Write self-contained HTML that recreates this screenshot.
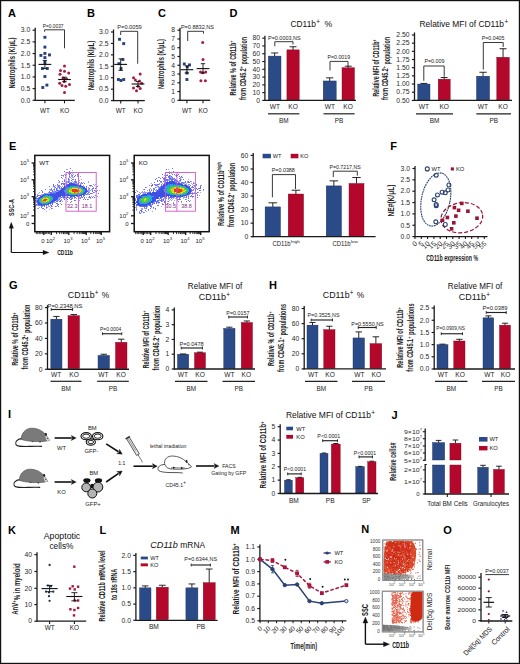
<!DOCTYPE html>
<html><head><meta charset="utf-8"><style>
html,body{margin:0;padding:0;background:#fff;}
svg{display:block;font-family:"Liberation Sans", sans-serif;}
</style></head><body>
<svg width="520" height="664" viewBox="0 0 520 664">
<rect x="0" y="0" width="520" height="664" fill="#fff"/>
<text x="8.00" y="16.96" font-size="11" text-anchor="start" font-weight="bold" fill="#000">A</text>
<text x="87.00" y="16.96" font-size="11" text-anchor="start" font-weight="bold" fill="#000">B</text>
<text x="158.00" y="16.96" font-size="11" text-anchor="start" font-weight="bold" fill="#000">C</text>
<line x1="35.20" y1="100.80" x2="35.20" y2="27.70" stroke="#1a1a1a" stroke-width="1.3"/>
<line x1="32.60" y1="100.30" x2="35.20" y2="100.30" stroke="#1a1a1a" stroke-width="1.1700000000000002"/>
<text x="30.30" y="102.57" font-size="6.3" text-anchor="end" fill="#2a2a2a" textLength="9.46" lengthAdjust="spacingAndGlyphs">0.0</text>
<line x1="32.60" y1="88.62" x2="35.20" y2="88.62" stroke="#1a1a1a" stroke-width="1.1700000000000002"/>
<text x="30.30" y="90.88" font-size="6.3" text-anchor="end" fill="#2a2a2a" textLength="9.46" lengthAdjust="spacingAndGlyphs">0.5</text>
<line x1="32.60" y1="76.93" x2="35.20" y2="76.93" stroke="#1a1a1a" stroke-width="1.1700000000000002"/>
<text x="30.30" y="79.20" font-size="6.3" text-anchor="end" fill="#2a2a2a" textLength="9.46" lengthAdjust="spacingAndGlyphs">1.0</text>
<line x1="32.60" y1="65.25" x2="35.20" y2="65.25" stroke="#1a1a1a" stroke-width="1.1700000000000002"/>
<text x="30.30" y="67.52" font-size="6.3" text-anchor="end" fill="#2a2a2a" textLength="9.46" lengthAdjust="spacingAndGlyphs">1.5</text>
<line x1="32.60" y1="53.57" x2="35.20" y2="53.57" stroke="#1a1a1a" stroke-width="1.1700000000000002"/>
<text x="30.30" y="55.83" font-size="6.3" text-anchor="end" fill="#2a2a2a" textLength="9.46" lengthAdjust="spacingAndGlyphs">2.0</text>
<line x1="32.60" y1="41.88" x2="35.20" y2="41.88" stroke="#1a1a1a" stroke-width="1.1700000000000002"/>
<text x="30.30" y="44.15" font-size="6.3" text-anchor="end" fill="#2a2a2a" textLength="9.46" lengthAdjust="spacingAndGlyphs">2.5</text>
<line x1="32.60" y1="30.20" x2="35.20" y2="30.20" stroke="#1a1a1a" stroke-width="1.1700000000000002"/>
<text x="30.30" y="32.47" font-size="6.3" text-anchor="end" fill="#2a2a2a" textLength="9.46" lengthAdjust="spacingAndGlyphs">3.0</text>
<line x1="34.70" y1="100.30" x2="74.80" y2="100.30" stroke="#1a1a1a" stroke-width="1.3"/>
<line x1="44.90" y1="100.30" x2="44.90" y2="103.30" stroke="#1a1a1a" stroke-width="1.1"/>
<line x1="64.50" y1="100.30" x2="64.50" y2="103.30" stroke="#1a1a1a" stroke-width="1.1"/>
<text x="44.90" y="112.70" font-size="6.4" text-anchor="middle" fill="#222">WT</text>
<text x="64.50" y="112.70" font-size="6.4" text-anchor="middle" fill="#222">KO</text>
<text x="15.06" y="63.00" font-size="8.5" text-anchor="middle" transform="rotate(-90 15.06 63.00)" font-weight="bold" fill="#222" textLength="51.00" lengthAdjust="spacingAndGlyphs">Neutrophils (K/μL)</text>
<rect x="43.45" y="35.85" width="2.90" height="2.90" fill="#25407c"/>
<rect x="43.45" y="45.65" width="2.90" height="2.90" fill="#25407c"/>
<rect x="39.45" y="53.95" width="2.90" height="2.90" fill="#25407c"/>
<rect x="43.45" y="51.95" width="2.90" height="2.90" fill="#25407c"/>
<rect x="48.05" y="53.45" width="2.90" height="2.90" fill="#25407c"/>
<rect x="43.45" y="56.15" width="2.90" height="2.90" fill="#25407c"/>
<rect x="40.95" y="67.05" width="2.90" height="2.90" fill="#25407c"/>
<rect x="45.85" y="67.05" width="2.90" height="2.90" fill="#25407c"/>
<rect x="43.45" y="75.05" width="2.90" height="2.90" fill="#25407c"/>
<rect x="41.35" y="86.05" width="2.90" height="2.90" fill="#25407c"/>
<rect x="45.45" y="83.65" width="2.90" height="2.90" fill="#25407c"/>
<rect x="43.45" y="61.05" width="2.90" height="2.90" fill="#25407c"/>
<circle cx="64.50" cy="65.90" r="1.50" fill="#a81c40"/>
<circle cx="60.50" cy="70.50" r="1.50" fill="#a81c40"/>
<circle cx="64.50" cy="71.20" r="1.50" fill="#a81c40"/>
<circle cx="68.70" cy="73.00" r="1.50" fill="#a81c40"/>
<circle cx="60.00" cy="74.20" r="1.50" fill="#a81c40"/>
<circle cx="63.00" cy="78.00" r="1.50" fill="#a81c40"/>
<circle cx="66.50" cy="78.70" r="1.50" fill="#a81c40"/>
<circle cx="59.70" cy="83.30" r="1.50" fill="#a81c40"/>
<circle cx="64.20" cy="81.40" r="1.50" fill="#a81c40"/>
<circle cx="69.50" cy="84.50" r="1.50" fill="#a81c40"/>
<circle cx="62.00" cy="85.50" r="1.50" fill="#a81c40"/>
<circle cx="65.70" cy="86.30" r="1.50" fill="#a81c40"/>
<circle cx="64.50" cy="92.60" r="1.50" fill="#a81c40"/>
<line x1="38.50" y1="64.40" x2="51.30" y2="64.40" stroke="#111" stroke-width="1.1"/>
<line x1="44.90" y1="60.40" x2="44.90" y2="68.50" stroke="#111" stroke-width="0.9"/>
<line x1="42.70" y1="60.40" x2="47.10" y2="60.40" stroke="#111" stroke-width="0.9"/>
<line x1="42.70" y1="68.50" x2="47.10" y2="68.50" stroke="#111" stroke-width="0.9"/>
<line x1="58.10" y1="79.50" x2="70.90" y2="79.50" stroke="#111" stroke-width="1.1"/>
<line x1="64.50" y1="77.20" x2="64.50" y2="81.70" stroke="#111" stroke-width="0.9"/>
<line x1="62.30" y1="77.20" x2="66.70" y2="77.20" stroke="#111" stroke-width="0.9"/>
<line x1="62.30" y1="81.70" x2="66.70" y2="81.70" stroke="#111" stroke-width="0.9"/>
<path d="M44.60 31.70 L44.60 29.80 L64.50 29.80 L64.50 48.30" fill="none" stroke="#222" stroke-width="0.9"/>
<text x="53.15" y="28.09" font-size="5.8" text-anchor="middle" fill="#222" textLength="20.70" lengthAdjust="spacingAndGlyphs">P=0.0037</text>
<line x1="113.50" y1="101.10" x2="113.50" y2="29.50" stroke="#1a1a1a" stroke-width="1.3"/>
<line x1="110.90" y1="100.60" x2="113.50" y2="100.60" stroke="#1a1a1a" stroke-width="1.1700000000000002"/>
<text x="108.60" y="102.87" font-size="6.3" text-anchor="end" fill="#2a2a2a" textLength="9.46" lengthAdjust="spacingAndGlyphs">0.0</text>
<line x1="110.90" y1="89.17" x2="113.50" y2="89.17" stroke="#1a1a1a" stroke-width="1.1700000000000002"/>
<text x="108.60" y="91.43" font-size="6.3" text-anchor="end" fill="#2a2a2a" textLength="9.46" lengthAdjust="spacingAndGlyphs">0.5</text>
<line x1="110.90" y1="77.73" x2="113.50" y2="77.73" stroke="#1a1a1a" stroke-width="1.1700000000000002"/>
<text x="108.60" y="80.00" font-size="6.3" text-anchor="end" fill="#2a2a2a" textLength="9.46" lengthAdjust="spacingAndGlyphs">1.0</text>
<line x1="110.90" y1="66.30" x2="113.50" y2="66.30" stroke="#1a1a1a" stroke-width="1.1700000000000002"/>
<text x="108.60" y="68.57" font-size="6.3" text-anchor="end" fill="#2a2a2a" textLength="9.46" lengthAdjust="spacingAndGlyphs">1.5</text>
<line x1="110.90" y1="54.87" x2="113.50" y2="54.87" stroke="#1a1a1a" stroke-width="1.1700000000000002"/>
<text x="108.60" y="57.13" font-size="6.3" text-anchor="end" fill="#2a2a2a" textLength="9.46" lengthAdjust="spacingAndGlyphs">2.0</text>
<line x1="110.90" y1="43.43" x2="113.50" y2="43.43" stroke="#1a1a1a" stroke-width="1.1700000000000002"/>
<text x="108.60" y="45.70" font-size="6.3" text-anchor="end" fill="#2a2a2a" textLength="9.46" lengthAdjust="spacingAndGlyphs">2.5</text>
<line x1="110.90" y1="32.00" x2="113.50" y2="32.00" stroke="#1a1a1a" stroke-width="1.1700000000000002"/>
<text x="108.60" y="34.27" font-size="6.3" text-anchor="end" fill="#2a2a2a" textLength="9.46" lengthAdjust="spacingAndGlyphs">3.0</text>
<line x1="113.00" y1="100.60" x2="144.80" y2="100.60" stroke="#1a1a1a" stroke-width="1.3"/>
<line x1="120.70" y1="100.60" x2="120.70" y2="103.60" stroke="#1a1a1a" stroke-width="1.1"/>
<line x1="138.00" y1="100.60" x2="138.00" y2="103.60" stroke="#1a1a1a" stroke-width="1.1"/>
<text x="120.70" y="112.70" font-size="6.4" text-anchor="middle" fill="#222">WT</text>
<text x="138.00" y="112.70" font-size="6.4" text-anchor="middle" fill="#222">KO</text>
<text x="94.36" y="65.50" font-size="8.5" text-anchor="middle" transform="rotate(-90 94.36 65.50)" font-weight="bold" fill="#222" textLength="49.00" lengthAdjust="spacingAndGlyphs">Neutrophils (K/μL)</text>
<rect x="118.05" y="37.85" width="2.90" height="2.90" fill="#25407c"/>
<rect x="122.25" y="42.15" width="2.90" height="2.90" fill="#25407c"/>
<rect x="121.45" y="58.05" width="2.90" height="2.90" fill="#25407c"/>
<rect x="117.45" y="62.25" width="2.90" height="2.90" fill="#25407c"/>
<rect x="119.55" y="67.05" width="2.90" height="2.90" fill="#25407c"/>
<rect x="116.95" y="78.05" width="2.90" height="2.90" fill="#25407c"/>
<rect x="119.55" y="79.05" width="2.90" height="2.90" fill="#25407c"/>
<rect x="122.25" y="78.05" width="2.90" height="2.90" fill="#25407c"/>
<circle cx="140.20" cy="73.90" r="1.50" fill="#a81c40"/>
<circle cx="133.50" cy="77.70" r="1.50" fill="#a81c40"/>
<circle cx="135.40" cy="80.00" r="1.50" fill="#a81c40"/>
<circle cx="139.50" cy="81.00" r="1.50" fill="#a81c40"/>
<circle cx="141.70" cy="83.30" r="1.50" fill="#a81c40"/>
<circle cx="133.50" cy="88.00" r="1.50" fill="#a81c40"/>
<circle cx="136.50" cy="90.80" r="1.50" fill="#a81c40"/>
<circle cx="140.20" cy="88.50" r="1.50" fill="#a81c40"/>
<circle cx="138.00" cy="86.30" r="1.50" fill="#a81c40"/>
<line x1="114.30" y1="64.40" x2="127.10" y2="64.40" stroke="#111" stroke-width="1.1"/>
<line x1="120.70" y1="58.90" x2="120.70" y2="70.40" stroke="#111" stroke-width="0.9"/>
<line x1="118.50" y1="58.90" x2="122.90" y2="58.90" stroke="#111" stroke-width="0.9"/>
<line x1="118.50" y1="70.40" x2="122.90" y2="70.40" stroke="#111" stroke-width="0.9"/>
<line x1="131.60" y1="84.00" x2="144.40" y2="84.00" stroke="#111" stroke-width="1.1"/>
<line x1="138.00" y1="81.50" x2="138.00" y2="86.50" stroke="#111" stroke-width="0.9"/>
<line x1="135.80" y1="81.50" x2="140.20" y2="81.50" stroke="#111" stroke-width="0.9"/>
<line x1="135.80" y1="86.50" x2="140.20" y2="86.50" stroke="#111" stroke-width="0.9"/>
<path d="M120.70 35.00 L120.70 31.30 L137.70 31.30 L137.70 63.70" fill="none" stroke="#222" stroke-width="0.9"/>
<text x="129.50" y="29.29" font-size="5.8" text-anchor="middle" fill="#222" textLength="24.40" lengthAdjust="spacingAndGlyphs">P=0.0059</text>
<line x1="180.00" y1="100.80" x2="180.00" y2="27.70" stroke="#1a1a1a" stroke-width="1.3"/>
<line x1="177.40" y1="100.30" x2="180.00" y2="100.30" stroke="#1a1a1a" stroke-width="1.1700000000000002"/>
<text x="175.10" y="102.57" font-size="6.3" text-anchor="end" fill="#2a2a2a" textLength="3.78" lengthAdjust="spacingAndGlyphs">0</text>
<line x1="177.40" y1="91.54" x2="180.00" y2="91.54" stroke="#1a1a1a" stroke-width="1.1700000000000002"/>
<text x="175.10" y="93.81" font-size="6.3" text-anchor="end" fill="#2a2a2a" textLength="3.78" lengthAdjust="spacingAndGlyphs">1</text>
<line x1="177.40" y1="82.78" x2="180.00" y2="82.78" stroke="#1a1a1a" stroke-width="1.1700000000000002"/>
<text x="175.10" y="85.04" font-size="6.3" text-anchor="end" fill="#2a2a2a" textLength="3.78" lengthAdjust="spacingAndGlyphs">2</text>
<line x1="177.40" y1="74.01" x2="180.00" y2="74.01" stroke="#1a1a1a" stroke-width="1.1700000000000002"/>
<text x="175.10" y="76.28" font-size="6.3" text-anchor="end" fill="#2a2a2a" textLength="3.78" lengthAdjust="spacingAndGlyphs">3</text>
<line x1="177.40" y1="65.25" x2="180.00" y2="65.25" stroke="#1a1a1a" stroke-width="1.1700000000000002"/>
<text x="175.10" y="67.52" font-size="6.3" text-anchor="end" fill="#2a2a2a" textLength="3.78" lengthAdjust="spacingAndGlyphs">4</text>
<line x1="177.40" y1="56.49" x2="180.00" y2="56.49" stroke="#1a1a1a" stroke-width="1.1700000000000002"/>
<text x="175.10" y="58.76" font-size="6.3" text-anchor="end" fill="#2a2a2a" textLength="3.78" lengthAdjust="spacingAndGlyphs">5</text>
<line x1="177.40" y1="47.73" x2="180.00" y2="47.73" stroke="#1a1a1a" stroke-width="1.1700000000000002"/>
<text x="175.10" y="49.99" font-size="6.3" text-anchor="end" fill="#2a2a2a" textLength="3.78" lengthAdjust="spacingAndGlyphs">6</text>
<line x1="177.40" y1="38.96" x2="180.00" y2="38.96" stroke="#1a1a1a" stroke-width="1.1700000000000002"/>
<text x="175.10" y="41.23" font-size="6.3" text-anchor="end" fill="#2a2a2a" textLength="3.78" lengthAdjust="spacingAndGlyphs">7</text>
<line x1="177.40" y1="30.20" x2="180.00" y2="30.20" stroke="#1a1a1a" stroke-width="1.1700000000000002"/>
<text x="175.10" y="32.47" font-size="6.3" text-anchor="end" fill="#2a2a2a" textLength="3.78" lengthAdjust="spacingAndGlyphs">8</text>
<line x1="179.50" y1="100.30" x2="210.20" y2="100.30" stroke="#1a1a1a" stroke-width="1.3"/>
<line x1="186.90" y1="100.30" x2="186.90" y2="103.30" stroke="#1a1a1a" stroke-width="1.1"/>
<line x1="203.00" y1="100.30" x2="203.00" y2="103.30" stroke="#1a1a1a" stroke-width="1.1"/>
<text x="186.90" y="112.70" font-size="6.4" text-anchor="middle" fill="#222">WT</text>
<text x="203.00" y="112.70" font-size="6.4" text-anchor="middle" fill="#222">KO</text>
<text x="164.36" y="64.00" font-size="8.5" text-anchor="middle" transform="rotate(-90 164.36 64.00)" font-weight="bold" fill="#222" textLength="50.00" lengthAdjust="spacingAndGlyphs">Neutrophils (K/μL)</text>
<rect x="182.85" y="62.55" width="2.90" height="2.90" fill="#25407c"/>
<rect x="188.05" y="63.45" width="2.90" height="2.90" fill="#25407c"/>
<rect x="185.85" y="65.55" width="2.90" height="2.90" fill="#25407c"/>
<rect x="185.45" y="71.55" width="2.90" height="2.90" fill="#25407c"/>
<rect x="185.45" y="78.05" width="2.90" height="2.90" fill="#25407c"/>
<circle cx="202.70" cy="42.60" r="1.50" fill="#a81c40"/>
<circle cx="203.00" cy="59.50" r="1.50" fill="#a81c40"/>
<circle cx="200.50" cy="72.00" r="1.50" fill="#a81c40"/>
<circle cx="202.70" cy="72.70" r="1.50" fill="#a81c40"/>
<circle cx="205.70" cy="72.00" r="1.50" fill="#a81c40"/>
<circle cx="200.90" cy="80.70" r="1.50" fill="#a81c40"/>
<circle cx="205.40" cy="80.70" r="1.50" fill="#a81c40"/>
<line x1="180.50" y1="69.70" x2="193.30" y2="69.70" stroke="#111" stroke-width="1.1"/>
<line x1="186.90" y1="65.90" x2="186.90" y2="73.00" stroke="#111" stroke-width="0.9"/>
<line x1="184.70" y1="65.90" x2="189.10" y2="65.90" stroke="#111" stroke-width="0.9"/>
<line x1="184.70" y1="73.00" x2="189.10" y2="73.00" stroke="#111" stroke-width="0.9"/>
<line x1="196.60" y1="68.60" x2="209.40" y2="68.60" stroke="#111" stroke-width="1.1"/>
<line x1="203.00" y1="63.70" x2="203.00" y2="73.00" stroke="#111" stroke-width="0.9"/>
<line x1="200.80" y1="63.70" x2="205.20" y2="63.70" stroke="#111" stroke-width="0.9"/>
<line x1="200.80" y1="73.00" x2="205.20" y2="73.00" stroke="#111" stroke-width="0.9"/>
<path d="M187.70 41.00 L187.70 31.30 L203.50 31.30 L203.50 33.60" fill="none" stroke="#222" stroke-width="0.9"/>
<text x="197.45" y="28.89" font-size="5.8" text-anchor="middle" fill="#222" textLength="33.10" lengthAdjust="spacingAndGlyphs">P=0.8832,NS</text>
<text x="229.50" y="16.96" font-size="11" text-anchor="start" font-weight="bold" fill="#000">D</text>
<text x="316.00" y="27.30" font-size="8.6" text-anchor="end" fill="#111" textLength="25.50" lengthAdjust="spacingAndGlyphs">CD11b</text>
<text x="316.20" y="24.30" font-size="6.4" text-anchor="start" fill="#111">+</text>
<text x="324.40" y="27.30" font-size="8.6" text-anchor="start" fill="#111">%</text>
<text x="235.76" y="68.00" font-size="8.5" text-anchor="middle" transform="rotate(-90 235.76 68.00)" font-weight="bold" fill="#222" textLength="55.00" lengthAdjust="spacingAndGlyphs">Relative % of CD11b<tspan font-size="70%" dy="-0.45em">+</tspan></text>
<text x="245.96" y="68.50" font-size="8.5" text-anchor="middle" transform="rotate(-90 245.96 68.50)" font-weight="bold" fill="#222" textLength="63.00" lengthAdjust="spacingAndGlyphs">from CD45.2<tspan font-size="70%" dy="-0.45em">+</tspan><tspan dy="0.45em"> population</tspan></text>
<line x1="264.90" y1="100.90" x2="264.90" y2="35.70" stroke="#1a1a1a" stroke-width="1.3"/>
<line x1="262.30" y1="100.40" x2="264.90" y2="100.40" stroke="#1a1a1a" stroke-width="1.1700000000000002"/>
<text x="260.00" y="102.67" font-size="6.3" text-anchor="end" fill="#2a2a2a" textLength="3.78" lengthAdjust="spacingAndGlyphs">0</text>
<line x1="262.30" y1="92.62" x2="264.90" y2="92.62" stroke="#1a1a1a" stroke-width="1.1700000000000002"/>
<text x="260.00" y="94.89" font-size="6.3" text-anchor="end" fill="#2a2a2a" textLength="7.57" lengthAdjust="spacingAndGlyphs">10</text>
<line x1="262.30" y1="84.85" x2="264.90" y2="84.85" stroke="#1a1a1a" stroke-width="1.1700000000000002"/>
<text x="260.00" y="87.12" font-size="6.3" text-anchor="end" fill="#2a2a2a" textLength="7.57" lengthAdjust="spacingAndGlyphs">20</text>
<line x1="262.30" y1="77.08" x2="264.90" y2="77.08" stroke="#1a1a1a" stroke-width="1.1700000000000002"/>
<text x="260.00" y="79.34" font-size="6.3" text-anchor="end" fill="#2a2a2a" textLength="7.57" lengthAdjust="spacingAndGlyphs">30</text>
<line x1="262.30" y1="69.30" x2="264.90" y2="69.30" stroke="#1a1a1a" stroke-width="1.1700000000000002"/>
<text x="260.00" y="71.57" font-size="6.3" text-anchor="end" fill="#2a2a2a" textLength="7.57" lengthAdjust="spacingAndGlyphs">40</text>
<line x1="262.30" y1="61.52" x2="264.90" y2="61.52" stroke="#1a1a1a" stroke-width="1.1700000000000002"/>
<text x="260.00" y="63.79" font-size="6.3" text-anchor="end" fill="#2a2a2a" textLength="7.57" lengthAdjust="spacingAndGlyphs">50</text>
<line x1="262.30" y1="53.75" x2="264.90" y2="53.75" stroke="#1a1a1a" stroke-width="1.1700000000000002"/>
<text x="260.00" y="56.02" font-size="6.3" text-anchor="end" fill="#2a2a2a" textLength="7.57" lengthAdjust="spacingAndGlyphs">60</text>
<line x1="262.30" y1="45.98" x2="264.90" y2="45.98" stroke="#1a1a1a" stroke-width="1.1700000000000002"/>
<text x="260.00" y="48.24" font-size="6.3" text-anchor="end" fill="#2a2a2a" textLength="7.57" lengthAdjust="spacingAndGlyphs">70</text>
<line x1="262.30" y1="38.20" x2="264.90" y2="38.20" stroke="#1a1a1a" stroke-width="1.1700000000000002"/>
<text x="260.00" y="40.47" font-size="6.3" text-anchor="end" fill="#2a2a2a" textLength="7.57" lengthAdjust="spacingAndGlyphs">80</text>
<rect x="268.30" y="56.08" width="12.70" height="43.82" fill="#2a4b88" stroke="#1d2c55" stroke-width="0.4"/>
<line x1="274.65" y1="56.08" x2="274.65" y2="52.97" stroke="#111" stroke-width="0.9"/>
<line x1="271.09" y1="52.97" x2="278.21" y2="52.97" stroke="#111" stroke-width="0.9"/>
<rect x="286.90" y="49.86" width="12.30" height="50.04" fill="#b3072b" stroke="#7a0a20" stroke-width="0.4"/>
<line x1="293.05" y1="49.86" x2="293.05" y2="46.75" stroke="#111" stroke-width="0.9"/>
<line x1="289.61" y1="46.75" x2="296.49" y2="46.75" stroke="#111" stroke-width="0.9"/>
<rect x="323.20" y="80.96" width="13.00" height="18.94" fill="#2a4b88" stroke="#1d2c55" stroke-width="0.4"/>
<line x1="329.70" y1="80.96" x2="329.70" y2="77.85" stroke="#111" stroke-width="0.9"/>
<line x1="326.06" y1="77.85" x2="333.34" y2="77.85" stroke="#111" stroke-width="0.9"/>
<rect x="342.00" y="67.75" width="12.50" height="32.16" fill="#b3072b" stroke="#7a0a20" stroke-width="0.4"/>
<line x1="348.25" y1="67.75" x2="348.25" y2="66.19" stroke="#111" stroke-width="0.9"/>
<line x1="344.75" y1="66.19" x2="351.75" y2="66.19" stroke="#111" stroke-width="0.9"/>
<line x1="264.40" y1="100.40" x2="356.00" y2="100.40" stroke="#1a1a1a" stroke-width="1.3"/>
<text x="274.80" y="109.28" font-size="6.6" text-anchor="middle" fill="#222">WT</text>
<text x="293.00" y="109.28" font-size="6.6" text-anchor="middle" fill="#222">KO</text>
<text x="330.00" y="109.28" font-size="6.6" text-anchor="middle" fill="#222">WT</text>
<text x="348.00" y="109.28" font-size="6.6" text-anchor="middle" fill="#222">KO</text>
<line x1="268.00" y1="113.80" x2="299.40" y2="113.80" stroke="#222" stroke-width="1.2"/>
<text x="283.70" y="122.70" font-size="6.4" text-anchor="middle" fill="#222">BM</text>
<line x1="323.50" y1="113.80" x2="354.60" y2="113.80" stroke="#222" stroke-width="1.2"/>
<text x="339.05" y="122.70" font-size="6.4" text-anchor="middle" fill="#222">PB</text>
<path d="M274.80 46.30 L274.80 41.70 L293.00 41.70 L293.00 44.50" fill="none" stroke="#222" stroke-width="0.9"/>
<text x="284.30" y="39.79" font-size="5.8" text-anchor="middle" fill="#222" textLength="32.60" lengthAdjust="spacingAndGlyphs">P=0.0003,NS</text>
<path d="M330.00 70.50 L330.00 61.40 L348.00 61.40 L348.00 66.80" fill="none" stroke="#222" stroke-width="0.9"/>
<text x="338.80" y="59.09" font-size="5.8" text-anchor="middle" fill="#222" textLength="22.50" lengthAdjust="spacingAndGlyphs">P=0.0019</text>
<text x="461.80" y="27.00" font-size="8.6" text-anchor="middle" fill="#111" textLength="84.50" lengthAdjust="spacingAndGlyphs">Relative MFI of CD11b</text>
<text x="504.40" y="24.00" font-size="6.4" text-anchor="start" fill="#111">+</text>
<text x="379.06" y="68.00" font-size="8.5" text-anchor="middle" transform="rotate(-90 379.06 68.00)" font-weight="bold" fill="#222" textLength="57.00" lengthAdjust="spacingAndGlyphs">Relative MFI of CD11b<tspan font-size="70%" dy="-0.45em">+</tspan></text>
<text x="388.46" y="68.50" font-size="8.5" text-anchor="middle" transform="rotate(-90 388.46 68.50)" font-weight="bold" fill="#222" textLength="63.00" lengthAdjust="spacingAndGlyphs">from CD45.2<tspan font-size="70%" dy="-0.45em">+</tspan><tspan dy="0.45em"> population</tspan></text>
<line x1="414.50" y1="100.90" x2="414.50" y2="32.50" stroke="#1a1a1a" stroke-width="1.3"/>
<line x1="411.90" y1="100.40" x2="414.50" y2="100.40" stroke="#1a1a1a" stroke-width="1.1700000000000002"/>
<text x="409.60" y="102.67" font-size="6.3" text-anchor="end" fill="#2a2a2a" textLength="13.24" lengthAdjust="spacingAndGlyphs">0.50</text>
<line x1="411.90" y1="92.23" x2="414.50" y2="92.23" stroke="#1a1a1a" stroke-width="1.1700000000000002"/>
<text x="409.60" y="94.49" font-size="6.3" text-anchor="end" fill="#2a2a2a" textLength="13.24" lengthAdjust="spacingAndGlyphs">0.75</text>
<line x1="411.90" y1="84.05" x2="414.50" y2="84.05" stroke="#1a1a1a" stroke-width="1.1700000000000002"/>
<text x="409.60" y="86.32" font-size="6.3" text-anchor="end" fill="#2a2a2a" textLength="13.24" lengthAdjust="spacingAndGlyphs">1.00</text>
<line x1="411.90" y1="75.88" x2="414.50" y2="75.88" stroke="#1a1a1a" stroke-width="1.1700000000000002"/>
<text x="409.60" y="78.14" font-size="6.3" text-anchor="end" fill="#2a2a2a" textLength="13.24" lengthAdjust="spacingAndGlyphs">1.25</text>
<line x1="411.90" y1="67.70" x2="414.50" y2="67.70" stroke="#1a1a1a" stroke-width="1.1700000000000002"/>
<text x="409.60" y="69.97" font-size="6.3" text-anchor="end" fill="#2a2a2a" textLength="13.24" lengthAdjust="spacingAndGlyphs">1.50</text>
<line x1="411.90" y1="59.53" x2="414.50" y2="59.53" stroke="#1a1a1a" stroke-width="1.1700000000000002"/>
<text x="409.60" y="61.79" font-size="6.3" text-anchor="end" fill="#2a2a2a" textLength="13.24" lengthAdjust="spacingAndGlyphs">1.75</text>
<line x1="411.90" y1="51.35" x2="414.50" y2="51.35" stroke="#1a1a1a" stroke-width="1.1700000000000002"/>
<text x="409.60" y="53.62" font-size="6.3" text-anchor="end" fill="#2a2a2a" textLength="13.24" lengthAdjust="spacingAndGlyphs">2.00</text>
<line x1="411.90" y1="43.17" x2="414.50" y2="43.17" stroke="#1a1a1a" stroke-width="1.1700000000000002"/>
<text x="409.60" y="45.44" font-size="6.3" text-anchor="end" fill="#2a2a2a" textLength="13.24" lengthAdjust="spacingAndGlyphs">2.25</text>
<line x1="411.90" y1="35.00" x2="414.50" y2="35.00" stroke="#1a1a1a" stroke-width="1.1700000000000002"/>
<text x="409.60" y="37.27" font-size="6.3" text-anchor="end" fill="#2a2a2a" textLength="13.24" lengthAdjust="spacingAndGlyphs">2.50</text>
<rect x="417.70" y="84.05" width="12.30" height="15.85" fill="#2a4b88" stroke="#1d2c55" stroke-width="0.4"/>
<line x1="423.85" y1="84.05" x2="423.85" y2="83.40" stroke="#111" stroke-width="0.9"/>
<line x1="420.41" y1="83.40" x2="427.29" y2="83.40" stroke="#111" stroke-width="0.9"/>
<rect x="438.20" y="79.15" width="12.00" height="20.75" fill="#b3072b" stroke="#7a0a20" stroke-width="0.4"/>
<line x1="444.20" y1="79.15" x2="444.20" y2="77.51" stroke="#111" stroke-width="0.9"/>
<line x1="440.84" y1="77.51" x2="447.56" y2="77.51" stroke="#111" stroke-width="0.9"/>
<rect x="476.50" y="76.20" width="13.10" height="23.70" fill="#2a4b88" stroke="#1d2c55" stroke-width="0.4"/>
<line x1="483.05" y1="76.20" x2="483.05" y2="72.28" stroke="#111" stroke-width="0.9"/>
<line x1="479.38" y1="72.28" x2="486.72" y2="72.28" stroke="#111" stroke-width="0.9"/>
<rect x="496.80" y="57.24" width="12.50" height="42.66" fill="#b3072b" stroke="#7a0a20" stroke-width="0.4"/>
<line x1="503.05" y1="57.24" x2="503.05" y2="48.73" stroke="#111" stroke-width="0.9"/>
<line x1="499.55" y1="48.73" x2="506.55" y2="48.73" stroke="#111" stroke-width="0.9"/>
<line x1="414.00" y1="100.40" x2="512.00" y2="100.40" stroke="#1a1a1a" stroke-width="1.3"/>
<text x="423.80" y="109.28" font-size="6.6" text-anchor="middle" fill="#222">WT</text>
<text x="444.20" y="109.28" font-size="6.6" text-anchor="middle" fill="#222">KO</text>
<text x="483.00" y="109.28" font-size="6.6" text-anchor="middle" fill="#222">WT</text>
<text x="503.00" y="109.28" font-size="6.6" text-anchor="middle" fill="#222">KO</text>
<line x1="416.00" y1="113.80" x2="453.00" y2="113.80" stroke="#222" stroke-width="1.2"/>
<text x="434.50" y="122.70" font-size="6.4" text-anchor="middle" fill="#222">BM</text>
<line x1="476.40" y1="113.80" x2="511.00" y2="113.80" stroke="#222" stroke-width="1.2"/>
<text x="493.70" y="122.70" font-size="6.4" text-anchor="middle" fill="#222">PB</text>
<path d="M423.80 80.80 L423.80 66.00 L444.20 66.00 L444.20 76.70" fill="none" stroke="#222" stroke-width="0.9"/>
<text x="434.50" y="63.49" font-size="5.8" text-anchor="middle" fill="#222" textLength="20.20" lengthAdjust="spacingAndGlyphs">P=0.009</text>
<path d="M483.30 69.50 L483.30 42.50 L503.20 42.50 L503.20 47.00" fill="none" stroke="#222" stroke-width="0.9"/>
<text x="493.10" y="40.29" font-size="5.8" text-anchor="middle" fill="#222" textLength="22.60" lengthAdjust="spacingAndGlyphs">P=0.0405</text>
<text x="9.00" y="149.96" font-size="11" text-anchor="start" font-weight="bold" fill="#000">E</text>
<g shape-rendering="crispEdges"><path fill="#6470f0" d="M69.8 168.4h1v1h-1zM63.8 171.4h1v1h-1zM68.8 171.4h1v1h-1zM68.8 173.4h2v1h-2zM65.8 174.4h1v1h-1zM68.8 174.4h1v1h-1zM76.8 174.4h1v1h-1zM60.8 175.4h1v1h-1zM62.8 175.4h1v1h-1zM64.8 175.4h1v1h-1zM71.8 175.4h1v1h-1zM74.8 175.4h1v1h-1zM68.8 176.4h1v1h-1zM73.8 176.4h1v1h-1zM77.8 176.4h1v1h-1zM60.8 177.4h1v1h-1zM64.8 177.4h1v1h-1zM67.8 178.4h1v1h-1zM67.8 179.4h1v1h-1zM71.8 179.4h2v1h-2zM74.8 179.4h1v1h-1zM63.8 180.4h1v1h-1zM70.8 180.4h1v1h-1zM58.8 181.4h1v1h-1zM61.8 181.4h1v1h-1zM63.8 181.4h1v1h-1zM67.8 181.4h1v1h-1zM73.8 181.4h2v1h-2zM67.8 182.4h1v1h-1zM70.8 182.4h1v1h-1zM74.8 182.4h2v1h-2zM80.8 182.4h1v1h-1zM60.8 183.4h4v1h-4zM72.8 183.4h2v1h-2zM77.8 183.4h1v1h-1zM81.8 183.4h1v1h-1zM83.8 183.4h1v1h-1zM52.8 184.4h1v1h-1zM56.8 184.4h1v1h-1zM60.8 184.4h1v1h-1zM62.8 184.4h2v1h-2zM65.8 184.4h2v1h-2zM75.8 184.4h3v1h-3zM79.8 184.4h1v1h-1zM52.8 185.4h1v1h-1zM57.8 185.4h2v1h-2zM63.8 185.4h1v1h-1zM88.8 185.4h3v1h-3zM48.8 186.4h1v1h-1zM52.8 186.4h2v1h-2zM57.8 186.4h1v1h-1zM85.8 186.4h1v1h-1zM96.8 186.4h1v1h-1zM54.8 187.4h1v1h-1zM58.8 187.4h1v1h-1zM60.8 187.4h1v1h-1zM62.8 187.4h1v1h-1zM55.8 188.4h1v1h-1zM58.8 188.4h1v1h-1zM60.8 188.4h1v1h-1zM85.8 188.4h1v1h-1zM88.8 188.4h1v1h-1zM91.8 188.4h2v1h-2zM94.8 188.4h1v1h-1zM44.8 189.4h1v1h-1zM50.8 189.4h1v1h-1zM53.8 189.4h1v1h-1zM55.8 189.4h1v1h-1zM40.8 190.4h1v1h-1zM51.8 190.4h1v1h-1zM55.8 190.4h4v1h-4zM91.8 190.4h1v1h-1zM93.8 190.4h1v1h-1zM41.8 191.4h1v1h-1zM48.8 191.4h1v1h-1zM51.8 191.4h1v1h-1zM54.8 191.4h1v1h-1zM57.8 191.4h1v1h-1zM91.8 191.4h1v1h-1zM95.8 191.4h1v1h-1zM41.8 192.4h1v1h-1zM48.8 192.4h3v1h-3zM52.8 192.4h1v1h-1zM54.8 192.4h1v1h-1zM85.8 192.4h1v1h-1zM87.8 192.4h1v1h-1zM92.8 192.4h1v1h-1zM43.8 193.4h1v1h-1zM49.8 193.4h1v1h-1zM51.8 193.4h2v1h-2zM54.8 193.4h1v1h-1zM86.8 193.4h1v1h-1zM89.8 193.4h2v1h-2zM97.8 193.4h1v1h-1zM34.8 194.4h1v1h-1zM42.8 194.4h2v1h-2zM83.8 194.4h1v1h-1zM85.8 194.4h1v1h-1zM88.8 194.4h1v1h-1zM36.8 195.4h4v1h-4zM82.8 195.4h2v1h-2zM94.8 195.4h1v1h-1zM36.8 196.4h1v1h-1zM61.8 196.4h2v1h-2zM66.8 196.4h1v1h-1zM71.8 196.4h2v1h-2zM76.8 196.4h1v1h-1zM80.8 196.4h1v1h-1zM82.8 196.4h1v1h-1zM88.8 196.4h1v1h-1zM34.8 197.4h1v1h-1zM57.8 197.4h1v1h-1zM60.8 197.4h1v1h-1zM62.8 197.4h2v1h-2zM66.8 197.4h2v1h-2zM69.8 197.4h1v1h-1zM73.8 197.4h2v1h-2zM81.8 197.4h1v1h-1zM83.8 197.4h1v1h-1zM88.8 197.4h2v1h-2zM91.8 197.4h1v1h-1zM93.8 197.4h1v1h-1zM34.8 198.4h3v1h-3zM65.8 198.4h1v1h-1zM68.8 198.4h1v1h-1zM70.8 198.4h2v1h-2zM79.8 198.4h1v1h-1zM56.8 199.4h1v1h-1zM58.8 199.4h1v1h-1zM63.8 199.4h1v1h-1zM66.8 199.4h1v1h-1zM69.8 199.4h2v1h-2zM82.8 199.4h1v1h-1zM84.8 199.4h1v1h-1zM86.8 199.4h1v1h-1zM34.8 200.4h1v1h-1zM56.8 200.4h1v1h-1zM59.8 200.4h1v1h-1zM73.8 200.4h2v1h-2zM35.8 201.4h1v1h-1zM53.8 201.4h1v1h-1zM55.8 201.4h2v1h-2zM58.8 201.4h2v1h-2zM70.8 201.4h1v1h-1zM36.8 202.4h1v1h-1zM69.8 202.4h1v1h-1zM36.8 203.4h1v1h-1zM51.8 203.4h1v1h-1zM55.8 203.4h2v1h-2zM35.8 204.4h1v1h-1zM51.8 204.4h1v1h-1zM57.8 204.4h1v1h-1zM60.8 204.4h1v1h-1zM37.8 205.4h3v1h-3zM41.8 205.4h2v1h-2zM45.8 205.4h1v1h-1zM50.8 205.4h1v1h-1zM56.8 205.4h1v1h-1zM40.8 206.4h1v1h-1zM43.8 206.4h1v1h-1zM50.8 206.4h1v1h-1zM54.8 206.4h1v1h-1zM57.8 206.4h1v1h-1zM40.8 207.4h1v1h-1zM45.8 207.4h1v1h-1zM41.8 208.4h2v1h-2zM50.8 208.4h1v1h-1zM43.8 209.4h1v1h-1z"/><path fill="#a09ef6" d="M65.8 169.4h2v1h-2zM71.8 170.4h1v1h-1zM73.8 172.4h1v1h-1zM67.8 173.4h1v1h-1zM71.8 173.4h1v1h-1zM63.8 174.4h1v1h-1zM70.8 174.4h1v1h-1zM72.8 174.4h1v1h-1zM61.8 175.4h1v1h-1zM68.8 175.4h1v1h-1zM70.8 175.4h1v1h-1zM76.8 175.4h1v1h-1zM62.8 176.4h1v1h-1zM70.8 176.4h2v1h-2zM76.8 176.4h1v1h-1zM79.8 176.4h1v1h-1zM68.8 177.4h2v1h-2zM71.8 177.4h2v1h-2zM61.8 178.4h1v1h-1zM70.8 178.4h1v1h-1zM63.8 179.4h1v1h-1zM68.8 179.4h1v1h-1zM80.8 179.4h1v1h-1zM57.8 180.4h1v1h-1zM67.8 180.4h2v1h-2zM74.8 180.4h1v1h-1zM78.8 180.4h1v1h-1zM65.8 181.4h2v1h-2zM68.8 181.4h1v1h-1zM71.8 181.4h1v1h-1zM75.8 181.4h1v1h-1zM87.8 181.4h1v1h-1zM57.8 182.4h2v1h-2zM65.8 182.4h2v1h-2zM68.8 182.4h2v1h-2zM72.8 182.4h2v1h-2zM78.8 182.4h1v1h-1zM82.8 182.4h1v1h-1zM87.8 182.4h1v1h-1zM64.8 183.4h2v1h-2zM74.8 183.4h3v1h-3zM79.8 183.4h2v1h-2zM92.8 184.4h1v1h-1zM94.8 184.4h1v1h-1zM54.8 185.4h1v1h-1zM56.8 185.4h1v1h-1zM80.8 185.4h1v1h-1zM82.8 185.4h1v1h-1zM93.8 185.4h1v1h-1zM56.8 186.4h1v1h-1zM58.8 186.4h2v1h-2zM61.8 186.4h1v1h-1zM82.8 186.4h2v1h-2zM89.8 186.4h1v1h-1zM91.8 186.4h1v1h-1zM53.8 187.4h1v1h-1zM56.8 187.4h2v1h-2zM85.8 187.4h1v1h-1zM87.8 187.4h1v1h-1zM92.8 187.4h1v1h-1zM95.8 187.4h1v1h-1zM50.8 188.4h1v1h-1zM53.8 188.4h1v1h-1zM56.8 188.4h1v1h-1zM59.8 188.4h1v1h-1zM87.8 188.4h1v1h-1zM48.8 189.4h2v1h-2zM52.8 189.4h1v1h-1zM56.8 189.4h1v1h-1zM59.8 189.4h1v1h-1zM87.8 189.4h2v1h-2zM90.8 189.4h2v1h-2zM49.8 190.4h2v1h-2zM53.8 190.4h1v1h-1zM86.8 190.4h4v1h-4zM94.8 190.4h1v1h-1zM96.8 190.4h1v1h-1zM98.8 190.4h1v1h-1zM52.8 191.4h2v1h-2zM55.8 191.4h2v1h-2zM87.8 191.4h2v1h-2zM94.8 191.4h1v1h-1zM38.8 192.4h1v1h-1zM47.8 192.4h1v1h-1zM51.8 192.4h1v1h-1zM53.8 192.4h1v1h-1zM88.8 192.4h1v1h-1zM93.8 192.4h1v1h-1zM37.8 193.4h1v1h-1zM44.8 193.4h5v1h-5zM87.8 193.4h1v1h-1zM91.8 193.4h1v1h-1zM36.8 194.4h1v1h-1zM40.8 194.4h2v1h-2zM84.8 194.4h1v1h-1zM86.8 194.4h2v1h-2zM40.8 195.4h1v1h-1zM35.8 196.4h1v1h-1zM75.8 196.4h1v1h-1zM77.8 196.4h2v1h-2zM90.8 196.4h1v1h-1zM92.8 196.4h1v1h-1zM96.8 196.4h1v1h-1zM35.8 197.4h1v1h-1zM37.8 197.4h1v1h-1zM58.8 197.4h2v1h-2zM61.8 197.4h1v1h-1zM64.8 197.4h2v1h-2zM68.8 197.4h1v1h-1zM70.8 197.4h2v1h-2zM77.8 197.4h4v1h-4zM85.8 197.4h1v1h-1zM87.8 197.4h1v1h-1zM57.8 198.4h3v1h-3zM62.8 198.4h2v1h-2zM73.8 198.4h1v1h-1zM75.8 198.4h1v1h-1zM77.8 198.4h2v1h-2zM83.8 198.4h1v1h-1zM89.8 198.4h1v1h-1zM35.8 199.4h2v1h-2zM57.8 199.4h1v1h-1zM60.8 199.4h1v1h-1zM87.8 199.4h1v1h-1zM35.8 200.4h1v1h-1zM55.8 200.4h1v1h-1zM57.8 200.4h1v1h-1zM60.8 200.4h1v1h-1zM78.8 200.4h1v1h-1zM61.8 201.4h1v1h-1zM66.8 201.4h1v1h-1zM35.8 202.4h1v1h-1zM52.8 202.4h3v1h-3zM50.8 203.4h1v1h-1zM59.8 203.4h1v1h-1zM36.8 204.4h1v1h-1zM49.8 204.4h1v1h-1zM56.8 204.4h1v1h-1zM64.8 204.4h1v1h-1zM34.8 205.4h3v1h-3zM47.8 205.4h1v1h-1zM49.8 205.4h1v1h-1zM41.8 206.4h1v1h-1zM45.8 206.4h1v1h-1zM47.8 206.4h2v1h-2zM51.8 206.4h1v1h-1zM55.8 206.4h1v1h-1zM38.8 207.4h1v1h-1zM46.8 207.4h1v1h-1zM49.8 207.4h1v1h-1zM36.8 208.4h2v1h-2zM45.8 208.4h1v1h-1zM51.8 208.4h1v1h-1zM48.8 209.4h1v1h-1zM45.8 211.4h1v1h-1z"/><path fill="#3c50e4" d="M68.8 183.4h4v1h-4zM67.8 184.4h8v1h-8zM65.8 185.4h15v1h-15zM63.8 186.4h6v1h-6zM78.8 186.4h4v1h-4zM63.8 187.4h3v1h-3zM81.8 187.4h3v1h-3zM61.8 188.4h4v1h-4zM82.8 188.4h3v1h-3zM60.8 189.4h4v1h-4zM84.8 189.4h2v1h-2zM59.8 190.4h4v1h-4zM84.8 190.4h2v1h-2zM58.8 191.4h5v1h-5zM84.8 191.4h3v1h-3zM55.8 192.4h9v1h-9zM83.8 192.4h2v1h-2zM50.8 193.4h1v1h-1zM53.8 193.4h1v1h-1zM55.8 193.4h10v1h-10zM82.8 193.4h3v1h-3zM44.8 194.4h24v1h-24zM80.8 194.4h3v1h-3zM41.8 195.4h3v1h-3zM47.8 195.4h1v1h-1zM49.8 195.4h32v1h-32zM39.8 196.4h3v1h-3zM51.8 196.4h9v1h-9zM63.8 196.4h1v1h-1zM69.8 196.4h2v1h-2zM73.8 196.4h1v1h-1zM38.8 197.4h3v1h-3zM52.8 197.4h5v1h-5zM37.8 198.4h2v1h-2zM52.8 198.4h5v1h-5zM37.8 199.4h1v1h-1zM52.8 199.4h4v1h-4zM36.8 200.4h2v1h-2zM51.8 200.4h4v1h-4zM36.8 201.4h2v1h-2zM50.8 201.4h3v1h-3zM37.8 202.4h2v1h-2zM49.8 202.4h3v1h-3zM37.8 203.4h3v1h-3zM47.8 203.4h3v1h-3zM37.8 204.4h11v1h-11zM40.8 205.4h1v1h-1zM43.8 205.4h1v1h-1z"/><path fill="#28a0eb" d="M69.8 186.4h9v1h-9zM66.8 187.4h3v1h-3zM78.8 187.4h3v1h-3zM65.8 188.4h2v1h-2zM80.8 188.4h2v1h-2zM64.8 189.4h1v1h-1zM82.8 189.4h2v1h-2zM63.8 190.4h2v1h-2zM82.8 190.4h2v1h-2zM63.8 191.4h2v1h-2zM83.8 191.4h1v1h-1zM64.8 192.4h2v1h-2zM82.8 192.4h1v1h-1zM65.8 193.4h3v1h-3zM80.8 193.4h2v1h-2zM68.8 194.4h3v1h-3zM75.8 194.4h5v1h-5zM44.8 195.4h3v1h-3zM48.8 195.4h1v1h-1zM42.8 196.4h2v1h-2zM49.8 196.4h2v1h-2zM41.8 197.4h1v1h-1zM50.8 197.4h2v1h-2zM39.8 198.4h1v1h-1zM51.8 198.4h1v1h-1zM38.8 199.4h2v1h-2zM50.8 199.4h2v1h-2zM38.8 200.4h1v1h-1zM49.8 200.4h2v1h-2zM38.8 201.4h1v1h-1zM49.8 201.4h1v1h-1zM39.8 202.4h1v1h-1zM47.8 202.4h2v1h-2zM40.8 203.4h1v1h-1zM42.8 203.4h5v1h-5z"/><path fill="#32c36e" d="M69.8 187.4h2v1h-2zM74.8 187.4h4v1h-4zM67.8 188.4h1v1h-1zM65.8 189.4h3v1h-3zM81.8 189.4h1v1h-1zM65.8 190.4h2v1h-2zM81.8 190.4h1v1h-1zM65.8 191.4h3v1h-3zM82.8 191.4h1v1h-1zM66.8 192.4h2v1h-2zM81.8 192.4h1v1h-1zM68.8 193.4h3v1h-3zM78.8 193.4h2v1h-2zM71.8 194.4h4v1h-4zM44.8 196.4h5v1h-5zM42.8 197.4h1v1h-1zM49.8 197.4h1v1h-1zM40.8 198.4h2v1h-2zM49.8 198.4h2v1h-2zM49.8 199.4h1v1h-1zM39.8 200.4h1v1h-1zM48.8 200.4h1v1h-1zM39.8 201.4h1v1h-1zM48.8 201.4h1v1h-1zM40.8 202.4h1v1h-1zM45.8 202.4h2v1h-2zM41.8 203.4h1v1h-1z"/><path fill="#64cd32" d="M71.8 187.4h3v1h-3zM68.8 188.4h3v1h-3zM78.8 188.4h2v1h-2zM68.8 189.4h1v1h-1zM80.8 189.4h1v1h-1zM67.8 190.4h1v1h-1zM80.8 191.4h2v1h-2zM68.8 192.4h2v1h-2zM79.8 192.4h2v1h-2zM71.8 193.4h7v1h-7zM43.8 197.4h6v1h-6zM47.8 198.4h2v1h-2zM40.8 199.4h1v1h-1zM48.8 199.4h1v1h-1zM40.8 200.4h1v1h-1zM40.8 201.4h2v1h-2zM46.8 201.4h2v1h-2zM41.8 202.4h4v1h-4z"/><path fill="#dce128" d="M71.8 188.4h7v1h-7zM69.8 189.4h1v1h-1zM78.8 189.4h2v1h-2zM68.8 190.4h1v1h-1zM80.8 190.4h1v1h-1zM68.8 191.4h3v1h-3zM79.8 191.4h1v1h-1zM70.8 192.4h3v1h-3zM77.8 192.4h2v1h-2zM42.8 198.4h2v1h-2zM45.8 198.4h2v1h-2zM41.8 199.4h1v1h-1zM47.8 199.4h1v1h-1zM46.8 200.4h2v1h-2zM45.8 201.4h1v1h-1z"/><path fill="#f5a01e" d="M70.8 189.4h1v1h-1zM76.8 189.4h2v1h-2zM69.8 190.4h2v1h-2zM78.8 190.4h2v1h-2zM77.8 191.4h2v1h-2zM74.8 192.4h3v1h-3zM44.8 198.4h1v1h-1zM42.8 199.4h1v1h-1zM46.8 199.4h1v1h-1zM41.8 200.4h1v1h-1zM45.8 200.4h1v1h-1zM42.8 201.4h3v1h-3z"/><path fill="#e63c19" d="M71.8 189.4h5v1h-5zM71.8 190.4h7v1h-7zM71.8 191.4h6v1h-6zM73.8 192.4h1v1h-1zM43.8 199.4h3v1h-3zM42.8 200.4h3v1h-3z"/></g>
<rect x="66" y="172.5" width="30.200000000000003" height="38.69999999999999" fill="none" stroke="#d454d0" stroke-width="0.9"/>
<line x1="78.50" y1="172.50" x2="78.50" y2="211.20" stroke="#d454d0" stroke-width="0.9"/>
<text x="72.30" y="208.24" font-size="5.4" text-anchor="middle" fill="#7a2a80">32.3</text>
<text x="87.10" y="208.24" font-size="5.4" text-anchor="middle" fill="#7a2a80">18.1</text>
<rect x="34.8" y="155.4" width="74.8" height="76.29999999999998" fill="none" stroke="#111" stroke-width="1.5"/>
<text x="39.30" y="165.23" font-size="6.2" text-anchor="start" fill="#111">WT</text>
<line x1="31.60" y1="163.00" x2="34.80" y2="163.00" stroke="#1a1a1a" stroke-width="1.3"/>
<text x="26.60" y="165.16" font-size="6.0" text-anchor="end" fill="#222">10</text>
<text x="26.70" y="162.31" font-size="4.2" text-anchor="start" fill="#222">5</text>
<line x1="31.60" y1="179.80" x2="34.80" y2="179.80" stroke="#1a1a1a" stroke-width="1.3"/>
<text x="26.60" y="181.96" font-size="6.0" text-anchor="end" fill="#222">10</text>
<text x="26.70" y="179.11" font-size="4.2" text-anchor="start" fill="#222">4</text>
<line x1="31.60" y1="196.70" x2="34.80" y2="196.70" stroke="#1a1a1a" stroke-width="1.3"/>
<text x="26.60" y="198.86" font-size="6.0" text-anchor="end" fill="#222">10</text>
<text x="26.70" y="196.01" font-size="4.2" text-anchor="start" fill="#222">3</text>
<line x1="31.60" y1="215.80" x2="34.80" y2="215.80" stroke="#1a1a1a" stroke-width="1.3"/>
<text x="26.60" y="217.96" font-size="6.0" text-anchor="end" fill="#222">10</text>
<text x="26.70" y="215.11" font-size="4.2" text-anchor="start" fill="#222">2</text>
<line x1="31.60" y1="223.50" x2="34.80" y2="223.50" stroke="#1a1a1a" stroke-width="1.3"/>
<text x="29.30" y="225.66" font-size="6.0" text-anchor="end" fill="#222">0</text>
<line x1="33.00" y1="174.74" x2="34.80" y2="174.74" stroke="#1a1a1a" stroke-width="0.9"/>
<line x1="33.00" y1="171.78" x2="34.80" y2="171.78" stroke="#1a1a1a" stroke-width="0.9"/>
<line x1="33.00" y1="169.69" x2="34.80" y2="169.69" stroke="#1a1a1a" stroke-width="0.9"/>
<line x1="33.00" y1="168.06" x2="34.80" y2="168.06" stroke="#1a1a1a" stroke-width="0.9"/>
<line x1="33.00" y1="166.73" x2="34.80" y2="166.73" stroke="#1a1a1a" stroke-width="0.9"/>
<line x1="33.00" y1="165.60" x2="34.80" y2="165.60" stroke="#1a1a1a" stroke-width="0.9"/>
<line x1="33.00" y1="164.63" x2="34.80" y2="164.63" stroke="#1a1a1a" stroke-width="0.9"/>
<line x1="33.00" y1="163.77" x2="34.80" y2="163.77" stroke="#1a1a1a" stroke-width="0.9"/>
<line x1="33.00" y1="191.61" x2="34.80" y2="191.61" stroke="#1a1a1a" stroke-width="0.9"/>
<line x1="33.00" y1="188.64" x2="34.80" y2="188.64" stroke="#1a1a1a" stroke-width="0.9"/>
<line x1="33.00" y1="186.53" x2="34.80" y2="186.53" stroke="#1a1a1a" stroke-width="0.9"/>
<line x1="33.00" y1="184.89" x2="34.80" y2="184.89" stroke="#1a1a1a" stroke-width="0.9"/>
<line x1="33.00" y1="183.55" x2="34.80" y2="183.55" stroke="#1a1a1a" stroke-width="0.9"/>
<line x1="33.00" y1="182.42" x2="34.80" y2="182.42" stroke="#1a1a1a" stroke-width="0.9"/>
<line x1="33.00" y1="181.44" x2="34.80" y2="181.44" stroke="#1a1a1a" stroke-width="0.9"/>
<line x1="33.00" y1="180.57" x2="34.80" y2="180.57" stroke="#1a1a1a" stroke-width="0.9"/>
<line x1="33.00" y1="210.05" x2="34.80" y2="210.05" stroke="#1a1a1a" stroke-width="0.9"/>
<line x1="33.00" y1="206.69" x2="34.80" y2="206.69" stroke="#1a1a1a" stroke-width="0.9"/>
<line x1="33.00" y1="204.30" x2="34.80" y2="204.30" stroke="#1a1a1a" stroke-width="0.9"/>
<line x1="33.00" y1="202.45" x2="34.80" y2="202.45" stroke="#1a1a1a" stroke-width="0.9"/>
<line x1="33.00" y1="200.94" x2="34.80" y2="200.94" stroke="#1a1a1a" stroke-width="0.9"/>
<line x1="33.00" y1="199.66" x2="34.80" y2="199.66" stroke="#1a1a1a" stroke-width="0.9"/>
<line x1="33.00" y1="198.55" x2="34.80" y2="198.55" stroke="#1a1a1a" stroke-width="0.9"/>
<line x1="33.00" y1="197.57" x2="34.80" y2="197.57" stroke="#1a1a1a" stroke-width="0.9"/>
<line x1="43.80" y1="231.70" x2="43.80" y2="234.90" stroke="#1a1a1a" stroke-width="1.3"/>
<text x="42.80" y="242.76" font-size="6.0" text-anchor="middle" fill="#222">0</text>
<line x1="51.30" y1="231.70" x2="51.30" y2="234.90" stroke="#1a1a1a" stroke-width="1.3"/>
<text x="52.70" y="242.76" font-size="6.0" text-anchor="end" fill="#222">10</text>
<text x="52.80" y="239.91" font-size="4.2" text-anchor="start" fill="#222">2</text>
<line x1="68.80" y1="231.70" x2="68.80" y2="234.90" stroke="#1a1a1a" stroke-width="1.3"/>
<text x="70.20" y="242.76" font-size="6.0" text-anchor="end" fill="#222">10</text>
<text x="70.30" y="239.91" font-size="4.2" text-anchor="start" fill="#222">3</text>
<line x1="86.30" y1="231.70" x2="86.30" y2="234.90" stroke="#1a1a1a" stroke-width="1.3"/>
<text x="87.70" y="242.76" font-size="6.0" text-anchor="end" fill="#222">10</text>
<text x="87.80" y="239.91" font-size="4.2" text-anchor="start" fill="#222">4</text>
<line x1="101.30" y1="231.70" x2="101.30" y2="234.90" stroke="#1a1a1a" stroke-width="1.3"/>
<text x="102.70" y="242.76" font-size="6.0" text-anchor="end" fill="#222">10</text>
<text x="102.80" y="239.91" font-size="4.2" text-anchor="start" fill="#222">5</text>
<line x1="56.57" y1="231.70" x2="56.57" y2="234.10" stroke="#1a1a1a" stroke-width="0.9"/>
<line x1="59.65" y1="231.70" x2="59.65" y2="234.10" stroke="#1a1a1a" stroke-width="0.9"/>
<line x1="61.84" y1="231.70" x2="61.84" y2="234.10" stroke="#1a1a1a" stroke-width="0.9"/>
<line x1="63.53" y1="231.70" x2="63.53" y2="234.10" stroke="#1a1a1a" stroke-width="0.9"/>
<line x1="64.92" y1="231.70" x2="64.92" y2="234.10" stroke="#1a1a1a" stroke-width="0.9"/>
<line x1="66.09" y1="231.70" x2="66.09" y2="234.10" stroke="#1a1a1a" stroke-width="0.9"/>
<line x1="67.10" y1="231.70" x2="67.10" y2="234.10" stroke="#1a1a1a" stroke-width="0.9"/>
<line x1="68.00" y1="231.70" x2="68.00" y2="234.10" stroke="#1a1a1a" stroke-width="0.9"/>
<line x1="74.07" y1="231.70" x2="74.07" y2="234.10" stroke="#1a1a1a" stroke-width="0.9"/>
<line x1="77.15" y1="231.70" x2="77.15" y2="234.10" stroke="#1a1a1a" stroke-width="0.9"/>
<line x1="79.34" y1="231.70" x2="79.34" y2="234.10" stroke="#1a1a1a" stroke-width="0.9"/>
<line x1="81.03" y1="231.70" x2="81.03" y2="234.10" stroke="#1a1a1a" stroke-width="0.9"/>
<line x1="82.42" y1="231.70" x2="82.42" y2="234.10" stroke="#1a1a1a" stroke-width="0.9"/>
<line x1="83.59" y1="231.70" x2="83.59" y2="234.10" stroke="#1a1a1a" stroke-width="0.9"/>
<line x1="84.60" y1="231.70" x2="84.60" y2="234.10" stroke="#1a1a1a" stroke-width="0.9"/>
<line x1="85.50" y1="231.70" x2="85.50" y2="234.10" stroke="#1a1a1a" stroke-width="0.9"/>
<line x1="90.82" y1="231.70" x2="90.82" y2="234.10" stroke="#1a1a1a" stroke-width="0.9"/>
<line x1="93.46" y1="231.70" x2="93.46" y2="234.10" stroke="#1a1a1a" stroke-width="0.9"/>
<line x1="95.33" y1="231.70" x2="95.33" y2="234.10" stroke="#1a1a1a" stroke-width="0.9"/>
<line x1="96.78" y1="231.70" x2="96.78" y2="234.10" stroke="#1a1a1a" stroke-width="0.9"/>
<line x1="97.97" y1="231.70" x2="97.97" y2="234.10" stroke="#1a1a1a" stroke-width="0.9"/>
<line x1="98.98" y1="231.70" x2="98.98" y2="234.10" stroke="#1a1a1a" stroke-width="0.9"/>
<line x1="99.85" y1="231.70" x2="99.85" y2="234.10" stroke="#1a1a1a" stroke-width="0.9"/>
<line x1="100.61" y1="231.70" x2="100.61" y2="234.10" stroke="#1a1a1a" stroke-width="0.9"/>
<line x1="36.30" y1="231.70" x2="36.30" y2="234.10" stroke="#1a1a1a" stroke-width="0.9"/>
<line x1="37.80" y1="231.70" x2="37.80" y2="234.10" stroke="#1a1a1a" stroke-width="0.9"/>
<line x1="39.30" y1="231.70" x2="39.30" y2="234.10" stroke="#1a1a1a" stroke-width="0.9"/>
<line x1="40.80" y1="231.70" x2="40.80" y2="234.10" stroke="#1a1a1a" stroke-width="0.9"/>
<line x1="42.30" y1="231.70" x2="42.30" y2="234.10" stroke="#1a1a1a" stroke-width="0.9"/>
<line x1="43.80" y1="231.70" x2="43.80" y2="234.10" stroke="#1a1a1a" stroke-width="0.9"/>
<line x1="45.30" y1="231.70" x2="45.30" y2="234.10" stroke="#1a1a1a" stroke-width="0.9"/>
<line x1="46.80" y1="231.70" x2="46.80" y2="234.10" stroke="#1a1a1a" stroke-width="0.9"/>
<line x1="48.30" y1="231.70" x2="48.30" y2="234.10" stroke="#1a1a1a" stroke-width="0.9"/>
<line x1="49.80" y1="231.70" x2="49.80" y2="234.10" stroke="#1a1a1a" stroke-width="0.9"/>
<g shape-rendering="crispEdges"><path fill="#6470f0" d="M172.2 168.4h1v1h-1zM166.2 169.4h1v1h-1zM173.2 171.4h1v1h-1zM168.2 172.4h1v1h-1zM177.2 172.4h1v1h-1zM169.2 173.4h1v1h-1zM162.2 174.4h1v1h-1zM172.2 174.4h1v1h-1zM174.2 174.4h1v1h-1zM178.2 174.4h1v1h-1zM166.2 175.4h2v1h-2zM169.2 175.4h1v1h-1zM176.2 175.4h2v1h-2zM165.2 176.4h1v1h-1zM168.2 176.4h2v1h-2zM171.2 176.4h1v1h-1zM176.2 176.4h1v1h-1zM179.2 176.4h1v1h-1zM181.2 176.4h1v1h-1zM158.2 177.4h1v1h-1zM162.2 177.4h1v1h-1zM168.2 177.4h2v1h-2zM172.2 177.4h1v1h-1zM182.2 177.4h1v1h-1zM156.2 178.4h1v1h-1zM160.2 178.4h1v1h-1zM163.2 178.4h2v1h-2zM169.2 178.4h2v1h-2zM172.2 178.4h1v1h-1zM174.2 178.4h1v1h-1zM179.2 178.4h1v1h-1zM155.2 179.4h1v1h-1zM164.2 179.4h1v1h-1zM166.2 179.4h2v1h-2zM169.2 179.4h5v1h-5zM175.2 179.4h1v1h-1zM180.2 179.4h1v1h-1zM183.2 179.4h1v1h-1zM157.2 180.4h1v1h-1zM159.2 180.4h1v1h-1zM164.2 180.4h4v1h-4zM171.2 180.4h2v1h-2zM174.2 180.4h3v1h-3zM180.2 180.4h1v1h-1zM157.2 181.4h1v1h-1zM160.2 181.4h2v1h-2zM163.2 181.4h1v1h-1zM167.2 181.4h1v1h-1zM174.2 181.4h1v1h-1zM177.2 181.4h1v1h-1zM185.2 181.4h1v1h-1zM188.2 181.4h1v1h-1zM190.2 181.4h1v1h-1zM154.2 182.4h1v1h-1zM175.2 182.4h1v1h-1zM178.2 182.4h1v1h-1zM181.2 182.4h2v1h-2zM185.2 182.4h1v1h-1zM188.2 182.4h2v1h-2zM164.2 183.4h1v1h-1zM180.2 183.4h2v1h-2zM183.2 183.4h1v1h-1zM193.2 183.4h1v1h-1zM152.2 184.4h1v1h-1zM154.2 184.4h1v1h-1zM157.2 184.4h2v1h-2zM161.2 184.4h1v1h-1zM163.2 184.4h1v1h-1zM185.2 184.4h1v1h-1zM196.2 184.4h1v1h-1zM149.2 185.4h1v1h-1zM151.2 185.4h2v1h-2zM155.2 185.4h2v1h-2zM190.2 185.4h1v1h-1zM194.2 185.4h1v1h-1zM158.2 186.4h1v1h-1zM188.2 186.4h2v1h-2zM192.2 186.4h1v1h-1zM200.2 186.4h1v1h-1zM145.2 187.4h1v1h-1zM155.2 187.4h1v1h-1zM159.2 187.4h2v1h-2zM191.2 187.4h3v1h-3zM195.2 187.4h1v1h-1zM200.2 187.4h1v1h-1zM153.2 188.4h1v1h-1zM159.2 188.4h1v1h-1zM196.2 188.4h1v1h-1zM198.2 188.4h3v1h-3zM144.2 189.4h1v1h-1zM149.2 189.4h1v1h-1zM154.2 189.4h1v1h-1zM158.2 189.4h1v1h-1zM191.2 189.4h1v1h-1zM193.2 189.4h1v1h-1zM195.2 189.4h1v1h-1zM197.2 189.4h1v1h-1zM203.2 189.4h1v1h-1zM149.2 190.4h1v1h-1zM151.2 190.4h1v1h-1zM153.2 190.4h1v1h-1zM158.2 190.4h1v1h-1zM191.2 190.4h2v1h-2zM195.2 190.4h1v1h-1zM199.2 190.4h2v1h-2zM137.2 191.4h1v1h-1zM153.2 191.4h1v1h-1zM156.2 191.4h1v1h-1zM191.2 191.4h1v1h-1zM135.2 192.4h1v1h-1zM148.2 192.4h2v1h-2zM197.2 192.4h1v1h-1zM134.2 193.4h1v1h-1zM140.2 193.4h1v1h-1zM145.2 193.4h1v1h-1zM190.2 193.4h4v1h-4zM196.2 193.4h1v1h-1zM138.2 194.4h2v1h-2zM142.2 194.4h1v1h-1zM188.2 194.4h2v1h-2zM136.2 195.4h2v1h-2zM139.2 195.4h1v1h-1zM186.2 195.4h1v1h-1zM191.2 195.4h1v1h-1zM197.2 195.4h1v1h-1zM136.2 196.4h3v1h-3zM165.2 196.4h1v1h-1zM172.2 196.4h1v1h-1zM186.2 196.4h1v1h-1zM188.2 196.4h1v1h-1zM190.2 196.4h1v1h-1zM192.2 196.4h2v1h-2zM195.2 196.4h1v1h-1zM136.2 197.4h2v1h-2zM161.2 197.4h2v1h-2zM165.2 197.4h1v1h-1zM169.2 197.4h5v1h-5zM176.2 197.4h2v1h-2zM180.2 197.4h1v1h-1zM186.2 197.4h1v1h-1zM197.2 197.4h1v1h-1zM134.2 198.4h1v1h-1zM158.2 198.4h1v1h-1zM160.2 198.4h1v1h-1zM168.2 198.4h1v1h-1zM171.2 198.4h1v1h-1zM176.2 198.4h1v1h-1zM179.2 198.4h1v1h-1zM188.2 198.4h1v1h-1zM135.2 199.4h1v1h-1zM161.2 199.4h1v1h-1zM163.2 199.4h1v1h-1zM177.2 199.4h4v1h-4zM185.2 199.4h1v1h-1zM135.2 200.4h1v1h-1zM157.2 200.4h2v1h-2zM160.2 200.4h2v1h-2zM163.2 200.4h1v1h-1zM188.2 200.4h1v1h-1zM154.2 201.4h4v1h-4zM161.2 201.4h1v1h-1zM164.2 201.4h1v1h-1zM168.2 201.4h1v1h-1zM178.2 201.4h1v1h-1zM181.2 201.4h1v1h-1zM186.2 201.4h1v1h-1zM189.2 201.4h1v1h-1zM134.2 202.4h1v1h-1zM153.2 202.4h1v1h-1zM156.2 202.4h1v1h-1zM158.2 202.4h2v1h-2zM164.2 202.4h1v1h-1zM134.2 203.4h2v1h-2zM152.2 203.4h1v1h-1zM154.2 203.4h1v1h-1zM156.2 203.4h1v1h-1zM165.2 203.4h1v1h-1zM167.2 203.4h1v1h-1zM173.2 203.4h1v1h-1zM134.2 204.4h1v1h-1zM136.2 204.4h1v1h-1zM150.2 204.4h1v1h-1zM152.2 204.4h1v1h-1zM162.2 204.4h2v1h-2zM136.2 205.4h3v1h-3zM149.2 205.4h2v1h-2zM157.2 205.4h2v1h-2zM140.2 206.4h8v1h-8zM150.2 206.4h2v1h-2zM144.2 207.4h1v1h-1zM146.2 207.4h1v1h-1zM153.2 207.4h1v1h-1zM146.2 208.4h1v1h-1zM150.2 208.4h1v1h-1zM155.2 208.4h1v1h-1zM136.2 209.4h1v1h-1zM148.2 209.4h1v1h-1zM140.2 210.4h2v1h-2zM145.2 210.4h1v1h-1zM141.2 211.4h1v1h-1zM139.2 212.4h1v1h-1zM143.2 212.4h1v1h-1zM140.2 213.4h1v1h-1z"/><path fill="#a09ef6" d="M168.2 169.4h1v1h-1zM169.2 171.4h1v1h-1zM167.2 172.4h1v1h-1zM165.2 173.4h1v1h-1zM171.2 173.4h1v1h-1zM167.2 174.4h1v1h-1zM176.2 174.4h1v1h-1zM164.2 175.4h1v1h-1zM170.2 175.4h1v1h-1zM175.2 175.4h1v1h-1zM170.2 176.4h1v1h-1zM159.2 177.4h1v1h-1zM164.2 177.4h3v1h-3zM170.2 177.4h2v1h-2zM180.2 177.4h2v1h-2zM165.2 178.4h1v1h-1zM171.2 178.4h1v1h-1zM173.2 178.4h1v1h-1zM180.2 178.4h1v1h-1zM163.2 179.4h1v1h-1zM165.2 179.4h1v1h-1zM168.2 179.4h1v1h-1zM174.2 179.4h1v1h-1zM181.2 179.4h1v1h-1zM188.2 179.4h1v1h-1zM168.2 180.4h2v1h-2zM177.2 180.4h1v1h-1zM179.2 180.4h1v1h-1zM164.2 181.4h2v1h-2zM175.2 181.4h2v1h-2zM178.2 181.4h3v1h-3zM187.2 181.4h1v1h-1zM191.2 181.4h1v1h-1zM160.2 182.4h2v1h-2zM164.2 182.4h1v1h-1zM179.2 182.4h1v1h-1zM183.2 182.4h2v1h-2zM187.2 182.4h1v1h-1zM193.2 182.4h1v1h-1zM151.2 183.4h1v1h-1zM159.2 183.4h1v1h-1zM162.2 183.4h1v1h-1zM182.2 183.4h1v1h-1zM184.2 183.4h1v1h-1zM186.2 183.4h1v1h-1zM191.2 183.4h1v1h-1zM194.2 183.4h1v1h-1zM155.2 184.4h2v1h-2zM159.2 184.4h1v1h-1zM184.2 184.4h1v1h-1zM186.2 184.4h1v1h-1zM188.2 184.4h2v1h-2zM192.2 184.4h1v1h-1zM157.2 185.4h1v1h-1zM161.2 185.4h2v1h-2zM187.2 185.4h2v1h-2zM193.2 185.4h1v1h-1zM196.2 185.4h1v1h-1zM200.2 185.4h2v1h-2zM151.2 186.4h1v1h-1zM157.2 186.4h1v1h-1zM160.2 186.4h1v1h-1zM194.2 186.4h1v1h-1zM146.2 187.4h1v1h-1zM156.2 187.4h1v1h-1zM158.2 187.4h1v1h-1zM150.2 188.4h1v1h-1zM154.2 188.4h1v1h-1zM158.2 188.4h1v1h-1zM194.2 188.4h1v1h-1zM143.2 189.4h1v1h-1zM151.2 189.4h1v1h-1zM153.2 189.4h1v1h-1zM156.2 189.4h1v1h-1zM136.2 190.4h1v1h-1zM147.2 190.4h1v1h-1zM155.2 190.4h2v1h-2zM193.2 190.4h1v1h-1zM203.2 190.4h1v1h-1zM142.2 191.4h1v1h-1zM144.2 191.4h1v1h-1zM149.2 191.4h2v1h-2zM139.2 192.4h1v1h-1zM141.2 192.4h7v1h-7zM192.2 192.4h1v1h-1zM194.2 192.4h1v1h-1zM198.2 192.4h1v1h-1zM200.2 192.4h1v1h-1zM143.2 193.4h2v1h-2zM194.2 193.4h2v1h-2zM192.2 194.4h1v1h-1zM197.2 194.4h1v1h-1zM138.2 195.4h1v1h-1zM140.2 195.4h1v1h-1zM187.2 195.4h2v1h-2zM199.2 195.4h1v1h-1zM183.2 196.4h2v1h-2zM191.2 196.4h1v1h-1zM134.2 197.4h1v1h-1zM164.2 197.4h1v1h-1zM166.2 197.4h1v1h-1zM168.2 197.4h1v1h-1zM174.2 197.4h1v1h-1zM178.2 197.4h2v1h-2zM183.2 197.4h3v1h-3zM188.2 197.4h1v1h-1zM192.2 197.4h1v1h-1zM135.2 198.4h1v1h-1zM159.2 198.4h1v1h-1zM161.2 198.4h1v1h-1zM163.2 198.4h4v1h-4zM169.2 198.4h1v1h-1zM173.2 198.4h1v1h-1zM175.2 198.4h1v1h-1zM183.2 198.4h1v1h-1zM159.2 199.4h1v1h-1zM162.2 199.4h1v1h-1zM168.2 199.4h1v1h-1zM170.2 199.4h1v1h-1zM172.2 199.4h1v1h-1zM186.2 199.4h1v1h-1zM134.2 200.4h1v1h-1zM159.2 200.4h1v1h-1zM162.2 200.4h1v1h-1zM165.2 200.4h1v1h-1zM169.2 200.4h1v1h-1zM171.2 200.4h1v1h-1zM174.2 200.4h1v1h-1zM177.2 200.4h1v1h-1zM190.2 200.4h1v1h-1zM158.2 201.4h1v1h-1zM162.2 201.4h1v1h-1zM165.2 201.4h1v1h-1zM167.2 201.4h1v1h-1zM135.2 202.4h1v1h-1zM154.2 202.4h1v1h-1zM157.2 202.4h1v1h-1zM165.2 202.4h1v1h-1zM173.2 202.4h1v1h-1zM181.2 202.4h1v1h-1zM153.2 203.4h1v1h-1zM158.2 203.4h1v1h-1zM162.2 203.4h1v1h-1zM168.2 203.4h1v1h-1zM151.2 204.4h1v1h-1zM165.2 204.4h1v1h-1zM147.2 205.4h2v1h-2zM151.2 205.4h1v1h-1zM136.2 206.4h1v1h-1zM139.2 206.4h1v1h-1zM161.2 206.4h1v1h-1zM135.2 207.4h2v1h-2zM151.2 207.4h1v1h-1zM136.2 208.4h1v1h-1zM141.2 208.4h2v1h-2zM144.2 208.4h2v1h-2zM153.2 208.4h1v1h-1zM141.2 209.4h2v1h-2zM155.2 209.4h1v1h-1zM136.2 210.4h1v1h-1zM148.2 210.4h1v1h-1zM139.2 211.4h1v1h-1zM142.2 211.4h1v1h-1zM146.2 211.4h1v1h-1zM152.2 211.4h1v1h-1zM141.2 212.4h1v1h-1zM144.2 212.4h1v1h-1zM139.2 213.4h1v1h-1z"/><path fill="#3c50e4" d="M169.2 181.4h5v1h-5zM165.2 182.4h10v1h-10zM176.2 182.4h1v1h-1zM165.2 183.4h15v1h-15zM164.2 184.4h4v1h-4zM169.2 184.4h1v1h-1zM173.2 184.4h1v1h-1zM175.2 184.4h8v1h-8zM163.2 185.4h4v1h-4zM181.2 185.4h6v1h-6zM161.2 186.4h5v1h-5zM185.2 186.4h3v1h-3zM161.2 187.4h3v1h-3zM165.2 187.4h1v1h-1zM186.2 187.4h4v1h-4zM160.2 188.4h5v1h-5zM188.2 188.4h3v1h-3zM159.2 189.4h4v1h-4zM189.2 189.4h2v1h-2zM157.2 190.4h1v1h-1zM159.2 190.4h5v1h-5zM189.2 190.4h2v1h-2zM157.2 191.4h7v1h-7zM189.2 191.4h2v1h-2zM150.2 192.4h1v1h-1zM152.2 192.4h13v1h-13zM188.2 192.4h3v1h-3zM147.2 193.4h18v1h-18zM166.2 193.4h1v1h-1zM187.2 193.4h3v1h-3zM143.2 194.4h27v1h-27zM186.2 194.4h2v1h-2zM141.2 195.4h6v1h-6zM151.2 195.4h25v1h-25zM180.2 195.4h1v1h-1zM182.2 195.4h4v1h-4zM139.2 196.4h3v1h-3zM154.2 196.4h11v1h-11zM166.2 196.4h1v1h-1zM168.2 196.4h1v1h-1zM170.2 196.4h2v1h-2zM173.2 196.4h10v1h-10zM138.2 197.4h4v1h-4zM152.2 197.4h7v1h-7zM160.2 197.4h1v1h-1zM137.2 198.4h3v1h-3zM152.2 198.4h6v1h-6zM137.2 199.4h2v1h-2zM152.2 199.4h4v1h-4zM137.2 200.4h2v1h-2zM152.2 200.4h4v1h-4zM136.2 201.4h3v1h-3zM151.2 201.4h3v1h-3zM136.2 202.4h3v1h-3zM149.2 202.4h4v1h-4zM137.2 203.4h3v1h-3zM147.2 203.4h4v1h-4zM137.2 204.4h13v1h-13zM139.2 205.4h8v1h-8z"/><path fill="#28a0eb" d="M168.2 184.4h1v1h-1zM170.2 184.4h3v1h-3zM174.2 184.4h1v1h-1zM167.2 185.4h7v1h-7zM176.2 185.4h5v1h-5zM166.2 186.4h4v1h-4zM183.2 186.4h2v1h-2zM164.2 187.4h1v1h-1zM166.2 187.4h3v1h-3zM185.2 187.4h1v1h-1zM165.2 188.4h3v1h-3zM187.2 188.4h1v1h-1zM163.2 189.4h4v1h-4zM188.2 189.4h1v1h-1zM164.2 190.4h3v1h-3zM188.2 190.4h1v1h-1zM164.2 191.4h3v1h-3zM188.2 191.4h1v1h-1zM165.2 192.4h4v1h-4zM187.2 192.4h1v1h-1zM165.2 193.4h1v1h-1zM167.2 193.4h3v1h-3zM185.2 193.4h2v1h-2zM170.2 194.4h3v1h-3zM181.2 194.4h1v1h-1zM183.2 194.4h3v1h-3zM147.2 195.4h4v1h-4zM176.2 195.4h4v1h-4zM181.2 195.4h1v1h-1zM142.2 196.4h12v1h-12zM142.2 197.4h1v1h-1zM150.2 197.4h2v1h-2zM140.2 198.4h1v1h-1zM150.2 198.4h2v1h-2zM139.2 199.4h1v1h-1zM150.2 199.4h2v1h-2zM139.2 200.4h1v1h-1zM150.2 200.4h2v1h-2zM139.2 201.4h1v1h-1zM148.2 201.4h3v1h-3zM139.2 202.4h3v1h-3zM147.2 202.4h2v1h-2zM140.2 203.4h7v1h-7z"/><path fill="#32c36e" d="M174.2 185.4h2v1h-2zM170.2 186.4h6v1h-6zM179.2 186.4h4v1h-4zM169.2 187.4h2v1h-2zM183.2 187.4h2v1h-2zM168.2 188.4h2v1h-2zM185.2 188.4h2v1h-2zM167.2 189.4h2v1h-2zM186.2 189.4h2v1h-2zM167.2 190.4h2v1h-2zM187.2 190.4h1v1h-1zM167.2 191.4h3v1h-3zM186.2 191.4h2v1h-2zM169.2 192.4h1v1h-1zM171.2 192.4h1v1h-1zM186.2 192.4h1v1h-1zM170.2 193.4h3v1h-3zM183.2 193.4h2v1h-2zM173.2 194.4h8v1h-8zM182.2 194.4h1v1h-1zM143.2 197.4h7v1h-7zM141.2 198.4h2v1h-2zM148.2 198.4h2v1h-2zM140.2 199.4h1v1h-1zM148.2 199.4h2v1h-2zM140.2 200.4h2v1h-2zM148.2 200.4h2v1h-2zM140.2 201.4h2v1h-2zM147.2 201.4h1v1h-1zM142.2 202.4h5v1h-5z"/><path fill="#64cd32" d="M176.2 186.4h3v1h-3zM171.2 187.4h3v1h-3zM176.2 187.4h4v1h-4zM181.2 187.4h2v1h-2zM170.2 188.4h3v1h-3zM184.2 188.4h1v1h-1zM169.2 189.4h2v1h-2zM184.2 189.4h2v1h-2zM169.2 190.4h2v1h-2zM186.2 190.4h1v1h-1zM170.2 191.4h2v1h-2zM185.2 191.4h1v1h-1zM170.2 192.4h1v1h-1zM183.2 192.4h3v1h-3zM173.2 193.4h2v1h-2zM176.2 193.4h1v1h-1zM180.2 193.4h1v1h-1zM182.2 193.4h1v1h-1zM143.2 198.4h2v1h-2zM146.2 198.4h2v1h-2zM141.2 199.4h3v1h-3zM146.2 199.4h2v1h-2zM142.2 200.4h2v1h-2zM145.2 200.4h3v1h-3zM142.2 201.4h5v1h-5z"/><path fill="#dce128" d="M174.2 187.4h2v1h-2zM180.2 187.4h1v1h-1zM173.2 188.4h1v1h-1zM180.2 188.4h4v1h-4zM171.2 189.4h2v1h-2zM183.2 189.4h1v1h-1zM171.2 190.4h1v1h-1zM173.2 190.4h1v1h-1zM184.2 190.4h2v1h-2zM172.2 191.4h2v1h-2zM183.2 191.4h2v1h-2zM172.2 192.4h2v1h-2zM175.2 192.4h1v1h-1zM181.2 192.4h2v1h-2zM175.2 193.4h1v1h-1zM177.2 193.4h3v1h-3zM181.2 193.4h1v1h-1zM145.2 198.4h1v1h-1zM144.2 199.4h2v1h-2zM144.2 200.4h1v1h-1z"/><path fill="#f5a01e" d="M174.2 188.4h2v1h-2zM178.2 188.4h2v1h-2zM173.2 189.4h1v1h-1zM182.2 189.4h1v1h-1zM172.2 190.4h1v1h-1zM182.2 190.4h2v1h-2zM182.2 191.4h1v1h-1zM174.2 192.4h1v1h-1zM176.2 192.4h1v1h-1zM180.2 192.4h1v1h-1z"/><path fill="#e63c19" d="M176.2 188.4h2v1h-2zM174.2 189.4h8v1h-8zM174.2 190.4h8v1h-8zM174.2 191.4h8v1h-8zM177.2 192.4h3v1h-3z"/></g>
<rect x="165.4" y="172.5" width="30.0" height="38.69999999999999" fill="none" stroke="#d454d0" stroke-width="0.9"/>
<line x1="176.90" y1="172.50" x2="176.90" y2="211.20" stroke="#d454d0" stroke-width="0.9"/>
<text x="170.80" y="208.24" font-size="5.4" text-anchor="middle" fill="#7a2a80">30.5</text>
<text x="186.50" y="208.24" font-size="5.4" text-anchor="middle" fill="#7a2a80">38.8</text>
<rect x="134.2" y="155.4" width="75.0" height="76.29999999999998" fill="none" stroke="#111" stroke-width="1.5"/>
<text x="138.70" y="165.23" font-size="6.2" text-anchor="start" fill="#111">KO</text>
<line x1="131.00" y1="163.00" x2="134.20" y2="163.00" stroke="#1a1a1a" stroke-width="1.3"/>
<text x="126.00" y="165.16" font-size="6.0" text-anchor="end" fill="#222">10</text>
<text x="126.10" y="162.31" font-size="4.2" text-anchor="start" fill="#222">5</text>
<line x1="131.00" y1="179.80" x2="134.20" y2="179.80" stroke="#1a1a1a" stroke-width="1.3"/>
<text x="126.00" y="181.96" font-size="6.0" text-anchor="end" fill="#222">10</text>
<text x="126.10" y="179.11" font-size="4.2" text-anchor="start" fill="#222">4</text>
<line x1="131.00" y1="196.70" x2="134.20" y2="196.70" stroke="#1a1a1a" stroke-width="1.3"/>
<text x="126.00" y="198.86" font-size="6.0" text-anchor="end" fill="#222">10</text>
<text x="126.10" y="196.01" font-size="4.2" text-anchor="start" fill="#222">3</text>
<line x1="131.00" y1="215.80" x2="134.20" y2="215.80" stroke="#1a1a1a" stroke-width="1.3"/>
<text x="126.00" y="217.96" font-size="6.0" text-anchor="end" fill="#222">10</text>
<text x="126.10" y="215.11" font-size="4.2" text-anchor="start" fill="#222">2</text>
<line x1="131.00" y1="223.50" x2="134.20" y2="223.50" stroke="#1a1a1a" stroke-width="1.3"/>
<text x="128.70" y="225.66" font-size="6.0" text-anchor="end" fill="#222">0</text>
<line x1="132.40" y1="174.74" x2="134.20" y2="174.74" stroke="#1a1a1a" stroke-width="0.9"/>
<line x1="132.40" y1="171.78" x2="134.20" y2="171.78" stroke="#1a1a1a" stroke-width="0.9"/>
<line x1="132.40" y1="169.69" x2="134.20" y2="169.69" stroke="#1a1a1a" stroke-width="0.9"/>
<line x1="132.40" y1="168.06" x2="134.20" y2="168.06" stroke="#1a1a1a" stroke-width="0.9"/>
<line x1="132.40" y1="166.73" x2="134.20" y2="166.73" stroke="#1a1a1a" stroke-width="0.9"/>
<line x1="132.40" y1="165.60" x2="134.20" y2="165.60" stroke="#1a1a1a" stroke-width="0.9"/>
<line x1="132.40" y1="164.63" x2="134.20" y2="164.63" stroke="#1a1a1a" stroke-width="0.9"/>
<line x1="132.40" y1="163.77" x2="134.20" y2="163.77" stroke="#1a1a1a" stroke-width="0.9"/>
<line x1="132.40" y1="191.61" x2="134.20" y2="191.61" stroke="#1a1a1a" stroke-width="0.9"/>
<line x1="132.40" y1="188.64" x2="134.20" y2="188.64" stroke="#1a1a1a" stroke-width="0.9"/>
<line x1="132.40" y1="186.53" x2="134.20" y2="186.53" stroke="#1a1a1a" stroke-width="0.9"/>
<line x1="132.40" y1="184.89" x2="134.20" y2="184.89" stroke="#1a1a1a" stroke-width="0.9"/>
<line x1="132.40" y1="183.55" x2="134.20" y2="183.55" stroke="#1a1a1a" stroke-width="0.9"/>
<line x1="132.40" y1="182.42" x2="134.20" y2="182.42" stroke="#1a1a1a" stroke-width="0.9"/>
<line x1="132.40" y1="181.44" x2="134.20" y2="181.44" stroke="#1a1a1a" stroke-width="0.9"/>
<line x1="132.40" y1="180.57" x2="134.20" y2="180.57" stroke="#1a1a1a" stroke-width="0.9"/>
<line x1="132.40" y1="210.05" x2="134.20" y2="210.05" stroke="#1a1a1a" stroke-width="0.9"/>
<line x1="132.40" y1="206.69" x2="134.20" y2="206.69" stroke="#1a1a1a" stroke-width="0.9"/>
<line x1="132.40" y1="204.30" x2="134.20" y2="204.30" stroke="#1a1a1a" stroke-width="0.9"/>
<line x1="132.40" y1="202.45" x2="134.20" y2="202.45" stroke="#1a1a1a" stroke-width="0.9"/>
<line x1="132.40" y1="200.94" x2="134.20" y2="200.94" stroke="#1a1a1a" stroke-width="0.9"/>
<line x1="132.40" y1="199.66" x2="134.20" y2="199.66" stroke="#1a1a1a" stroke-width="0.9"/>
<line x1="132.40" y1="198.55" x2="134.20" y2="198.55" stroke="#1a1a1a" stroke-width="0.9"/>
<line x1="132.40" y1="197.57" x2="134.20" y2="197.57" stroke="#1a1a1a" stroke-width="0.9"/>
<line x1="143.20" y1="231.70" x2="143.20" y2="234.90" stroke="#1a1a1a" stroke-width="1.3"/>
<text x="142.20" y="242.76" font-size="6.0" text-anchor="middle" fill="#222">0</text>
<line x1="150.70" y1="231.70" x2="150.70" y2="234.90" stroke="#1a1a1a" stroke-width="1.3"/>
<text x="152.10" y="242.76" font-size="6.0" text-anchor="end" fill="#222">10</text>
<text x="152.20" y="239.91" font-size="4.2" text-anchor="start" fill="#222">2</text>
<line x1="168.20" y1="231.70" x2="168.20" y2="234.90" stroke="#1a1a1a" stroke-width="1.3"/>
<text x="169.60" y="242.76" font-size="6.0" text-anchor="end" fill="#222">10</text>
<text x="169.70" y="239.91" font-size="4.2" text-anchor="start" fill="#222">3</text>
<line x1="185.70" y1="231.70" x2="185.70" y2="234.90" stroke="#1a1a1a" stroke-width="1.3"/>
<text x="187.10" y="242.76" font-size="6.0" text-anchor="end" fill="#222">10</text>
<text x="187.20" y="239.91" font-size="4.2" text-anchor="start" fill="#222">4</text>
<line x1="200.70" y1="231.70" x2="200.70" y2="234.90" stroke="#1a1a1a" stroke-width="1.3"/>
<text x="202.10" y="242.76" font-size="6.0" text-anchor="end" fill="#222">10</text>
<text x="202.20" y="239.91" font-size="4.2" text-anchor="start" fill="#222">5</text>
<line x1="155.97" y1="231.70" x2="155.97" y2="234.10" stroke="#1a1a1a" stroke-width="0.9"/>
<line x1="159.05" y1="231.70" x2="159.05" y2="234.10" stroke="#1a1a1a" stroke-width="0.9"/>
<line x1="161.24" y1="231.70" x2="161.24" y2="234.10" stroke="#1a1a1a" stroke-width="0.9"/>
<line x1="162.93" y1="231.70" x2="162.93" y2="234.10" stroke="#1a1a1a" stroke-width="0.9"/>
<line x1="164.32" y1="231.70" x2="164.32" y2="234.10" stroke="#1a1a1a" stroke-width="0.9"/>
<line x1="165.49" y1="231.70" x2="165.49" y2="234.10" stroke="#1a1a1a" stroke-width="0.9"/>
<line x1="166.50" y1="231.70" x2="166.50" y2="234.10" stroke="#1a1a1a" stroke-width="0.9"/>
<line x1="167.40" y1="231.70" x2="167.40" y2="234.10" stroke="#1a1a1a" stroke-width="0.9"/>
<line x1="173.47" y1="231.70" x2="173.47" y2="234.10" stroke="#1a1a1a" stroke-width="0.9"/>
<line x1="176.55" y1="231.70" x2="176.55" y2="234.10" stroke="#1a1a1a" stroke-width="0.9"/>
<line x1="178.74" y1="231.70" x2="178.74" y2="234.10" stroke="#1a1a1a" stroke-width="0.9"/>
<line x1="180.43" y1="231.70" x2="180.43" y2="234.10" stroke="#1a1a1a" stroke-width="0.9"/>
<line x1="181.82" y1="231.70" x2="181.82" y2="234.10" stroke="#1a1a1a" stroke-width="0.9"/>
<line x1="182.99" y1="231.70" x2="182.99" y2="234.10" stroke="#1a1a1a" stroke-width="0.9"/>
<line x1="184.00" y1="231.70" x2="184.00" y2="234.10" stroke="#1a1a1a" stroke-width="0.9"/>
<line x1="184.90" y1="231.70" x2="184.90" y2="234.10" stroke="#1a1a1a" stroke-width="0.9"/>
<line x1="190.22" y1="231.70" x2="190.22" y2="234.10" stroke="#1a1a1a" stroke-width="0.9"/>
<line x1="192.86" y1="231.70" x2="192.86" y2="234.10" stroke="#1a1a1a" stroke-width="0.9"/>
<line x1="194.73" y1="231.70" x2="194.73" y2="234.10" stroke="#1a1a1a" stroke-width="0.9"/>
<line x1="196.18" y1="231.70" x2="196.18" y2="234.10" stroke="#1a1a1a" stroke-width="0.9"/>
<line x1="197.37" y1="231.70" x2="197.37" y2="234.10" stroke="#1a1a1a" stroke-width="0.9"/>
<line x1="198.38" y1="231.70" x2="198.38" y2="234.10" stroke="#1a1a1a" stroke-width="0.9"/>
<line x1="199.25" y1="231.70" x2="199.25" y2="234.10" stroke="#1a1a1a" stroke-width="0.9"/>
<line x1="200.01" y1="231.70" x2="200.01" y2="234.10" stroke="#1a1a1a" stroke-width="0.9"/>
<line x1="135.70" y1="231.70" x2="135.70" y2="234.10" stroke="#1a1a1a" stroke-width="0.9"/>
<line x1="137.20" y1="231.70" x2="137.20" y2="234.10" stroke="#1a1a1a" stroke-width="0.9"/>
<line x1="138.70" y1="231.70" x2="138.70" y2="234.10" stroke="#1a1a1a" stroke-width="0.9"/>
<line x1="140.20" y1="231.70" x2="140.20" y2="234.10" stroke="#1a1a1a" stroke-width="0.9"/>
<line x1="141.70" y1="231.70" x2="141.70" y2="234.10" stroke="#1a1a1a" stroke-width="0.9"/>
<line x1="143.20" y1="231.70" x2="143.20" y2="234.10" stroke="#1a1a1a" stroke-width="0.9"/>
<line x1="144.70" y1="231.70" x2="144.70" y2="234.10" stroke="#1a1a1a" stroke-width="0.9"/>
<line x1="146.20" y1="231.70" x2="146.20" y2="234.10" stroke="#1a1a1a" stroke-width="0.9"/>
<line x1="147.70" y1="231.70" x2="147.70" y2="234.10" stroke="#1a1a1a" stroke-width="0.9"/>
<line x1="149.20" y1="231.70" x2="149.20" y2="234.10" stroke="#1a1a1a" stroke-width="0.9"/>
<path d="M11.3 252.5 L11.3 224.5" fill="none" stroke="#111" stroke-width="1.2"/>
<path d="M9.1 228.2 L11.3 222.3 L13.5 228.2 Z" fill="#111" stroke="#111" stroke-width="0.3"/>
<path d="M11.3 252.5 L45 252.5" fill="none" stroke="#111" stroke-width="1.2"/>
<path d="M43 250.3 L49 252.5 L43 254.7 Z" fill="#111" stroke="#111" stroke-width="0.3"/>
<text x="14.38" y="207.50" font-size="8" text-anchor="middle" transform="rotate(-90 14.38 207.50)" font-weight="bold" fill="#111" textLength="17.00" lengthAdjust="spacingAndGlyphs">SSC-A</text>
<text x="65.00" y="255.38" font-size="8" text-anchor="middle" font-weight="bold" fill="#111" textLength="15.50" lengthAdjust="spacingAndGlyphs">CD11b</text>
<text x="223.56" y="194.00" font-size="8.5" text-anchor="middle" transform="rotate(-90 223.56 194.00)" font-weight="bold" fill="#222" textLength="64.00" lengthAdjust="spacingAndGlyphs">Relative % of CD11b<tspan font-size="70%" dy="-0.45em">high</tspan></text>
<text x="233.56" y="195.00" font-size="8.5" text-anchor="middle" transform="rotate(-90 233.56 195.00)" font-weight="bold" fill="#222" textLength="64.00" lengthAdjust="spacingAndGlyphs">from CD45.2<tspan font-size="70%" dy="-0.45em">+</tspan><tspan dy="0.45em"> population</tspan></text>
<line x1="253.20" y1="237.20" x2="253.20" y2="152.90" stroke="#1a1a1a" stroke-width="1.3"/>
<line x1="250.60" y1="236.70" x2="253.20" y2="236.70" stroke="#1a1a1a" stroke-width="1.1700000000000002"/>
<text x="248.30" y="238.97" font-size="6.3" text-anchor="end" fill="#2a2a2a" textLength="3.78" lengthAdjust="spacingAndGlyphs">0</text>
<line x1="250.60" y1="223.15" x2="253.20" y2="223.15" stroke="#1a1a1a" stroke-width="1.1700000000000002"/>
<text x="248.30" y="225.42" font-size="6.3" text-anchor="end" fill="#2a2a2a" textLength="7.57" lengthAdjust="spacingAndGlyphs">10</text>
<line x1="250.60" y1="209.60" x2="253.20" y2="209.60" stroke="#1a1a1a" stroke-width="1.1700000000000002"/>
<text x="248.30" y="211.87" font-size="6.3" text-anchor="end" fill="#2a2a2a" textLength="7.57" lengthAdjust="spacingAndGlyphs">20</text>
<line x1="250.60" y1="196.05" x2="253.20" y2="196.05" stroke="#1a1a1a" stroke-width="1.1700000000000002"/>
<text x="248.30" y="198.32" font-size="6.3" text-anchor="end" fill="#2a2a2a" textLength="7.57" lengthAdjust="spacingAndGlyphs">30</text>
<line x1="250.60" y1="182.50" x2="253.20" y2="182.50" stroke="#1a1a1a" stroke-width="1.1700000000000002"/>
<text x="248.30" y="184.77" font-size="6.3" text-anchor="end" fill="#2a2a2a" textLength="7.57" lengthAdjust="spacingAndGlyphs">40</text>
<line x1="250.60" y1="168.95" x2="253.20" y2="168.95" stroke="#1a1a1a" stroke-width="1.1700000000000002"/>
<text x="248.30" y="171.22" font-size="6.3" text-anchor="end" fill="#2a2a2a" textLength="7.57" lengthAdjust="spacingAndGlyphs">50</text>
<line x1="250.60" y1="155.40" x2="253.20" y2="155.40" stroke="#1a1a1a" stroke-width="1.1700000000000002"/>
<text x="248.30" y="157.67" font-size="6.3" text-anchor="end" fill="#2a2a2a" textLength="7.57" lengthAdjust="spacingAndGlyphs">60</text>
<rect x="265.10" y="206.89" width="15.40" height="29.31" fill="#2a4b88" stroke="#1d2c55" stroke-width="0.4"/>
<line x1="272.80" y1="206.89" x2="272.80" y2="202.82" stroke="#111" stroke-width="0.9"/>
<line x1="268.49" y1="202.82" x2="277.11" y2="202.82" stroke="#111" stroke-width="0.9"/>
<rect x="288.20" y="194.02" width="15.40" height="42.18" fill="#b3072b" stroke="#7a0a20" stroke-width="0.4"/>
<line x1="295.90" y1="194.02" x2="295.90" y2="190.22" stroke="#111" stroke-width="0.9"/>
<line x1="291.59" y1="190.22" x2="300.21" y2="190.22" stroke="#111" stroke-width="0.9"/>
<rect x="326.20" y="185.89" width="15.30" height="50.31" fill="#2a4b88" stroke="#1d2c55" stroke-width="0.4"/>
<line x1="333.85" y1="185.89" x2="333.85" y2="180.87" stroke="#111" stroke-width="0.9"/>
<line x1="329.57" y1="180.87" x2="338.13" y2="180.87" stroke="#111" stroke-width="0.9"/>
<rect x="349.00" y="183.45" width="15.00" height="52.75" fill="#b3072b" stroke="#7a0a20" stroke-width="0.4"/>
<line x1="356.50" y1="183.45" x2="356.50" y2="177.49" stroke="#111" stroke-width="0.9"/>
<line x1="352.30" y1="177.49" x2="360.70" y2="177.49" stroke="#111" stroke-width="0.9"/>
<line x1="252.70" y1="236.70" x2="375.60" y2="236.70" stroke="#1a1a1a" stroke-width="1.3"/>
<rect x="262.60" y="153.80" width="8.30" height="4.50" fill="#2a4b88"/>
<text x="272.80" y="158.02" font-size="5.6" text-anchor="start" fill="#222">WT</text>
<rect x="290.70" y="153.80" width="7.70" height="4.50" fill="#b3072b"/>
<text x="300.30" y="158.02" font-size="5.6" text-anchor="start" fill="#222">KO</text>
<path d="M272.40 197.30 L272.40 174.60 L295.50 174.60 L295.50 189.00" fill="none" stroke="#222" stroke-width="0.9"/>
<text x="283.30" y="172.29" font-size="5.8" text-anchor="middle" fill="#222" textLength="23.00" lengthAdjust="spacingAndGlyphs">P=0.0388</text>
<path d="M333.30 177.00 L333.30 171.20 L357.30 171.20 L357.30 175.60" fill="none" stroke="#222" stroke-width="0.9"/>
<text x="345.10" y="168.99" font-size="5.8" text-anchor="middle" fill="#222" textLength="31.40" lengthAdjust="spacingAndGlyphs">P=0.7217,NS</text>
<text x="281.50" y="246.10" font-size="6.4" text-anchor="middle" fill="#222" textLength="18.00" lengthAdjust="spacingAndGlyphs">CD11b</text>
<text x="290.80" y="242.87" font-size="3.8" text-anchor="start" fill="#222" textLength="9.00" lengthAdjust="spacingAndGlyphs">high</text>
<text x="341.50" y="246.10" font-size="6.4" text-anchor="middle" fill="#222" textLength="18.00" lengthAdjust="spacingAndGlyphs">CD11b</text>
<text x="350.80" y="242.87" font-size="3.8" text-anchor="start" fill="#222" textLength="7.00" lengthAdjust="spacingAndGlyphs">low</text>
<text x="390.20" y="149.96" font-size="11" text-anchor="start" font-weight="bold" fill="#000">F</text>
<line x1="415.00" y1="237.10" x2="415.00" y2="166.00" stroke="#1a1a1a" stroke-width="1.3"/>
<line x1="412.40" y1="236.60" x2="415.00" y2="236.60" stroke="#1a1a1a" stroke-width="1.1700000000000002"/>
<text x="410.10" y="238.87" font-size="6.3" text-anchor="end" fill="#2a2a2a" textLength="9.46" lengthAdjust="spacingAndGlyphs">0.0</text>
<line x1="412.40" y1="225.25" x2="415.00" y2="225.25" stroke="#1a1a1a" stroke-width="1.1700000000000002"/>
<text x="410.10" y="227.52" font-size="6.3" text-anchor="end" fill="#2a2a2a" textLength="9.46" lengthAdjust="spacingAndGlyphs">0.5</text>
<line x1="412.40" y1="213.90" x2="415.00" y2="213.90" stroke="#1a1a1a" stroke-width="1.1700000000000002"/>
<text x="410.10" y="216.17" font-size="6.3" text-anchor="end" fill="#2a2a2a" textLength="9.46" lengthAdjust="spacingAndGlyphs">1.0</text>
<line x1="412.40" y1="202.55" x2="415.00" y2="202.55" stroke="#1a1a1a" stroke-width="1.1700000000000002"/>
<text x="410.10" y="204.82" font-size="6.3" text-anchor="end" fill="#2a2a2a" textLength="9.46" lengthAdjust="spacingAndGlyphs">1.5</text>
<line x1="412.40" y1="191.20" x2="415.00" y2="191.20" stroke="#1a1a1a" stroke-width="1.1700000000000002"/>
<text x="410.10" y="193.47" font-size="6.3" text-anchor="end" fill="#2a2a2a" textLength="9.46" lengthAdjust="spacingAndGlyphs">2.0</text>
<line x1="412.40" y1="179.85" x2="415.00" y2="179.85" stroke="#1a1a1a" stroke-width="1.1700000000000002"/>
<text x="410.10" y="182.12" font-size="6.3" text-anchor="end" fill="#2a2a2a" textLength="9.46" lengthAdjust="spacingAndGlyphs">2.5</text>
<line x1="412.40" y1="168.50" x2="415.00" y2="168.50" stroke="#1a1a1a" stroke-width="1.1700000000000002"/>
<text x="410.10" y="170.77" font-size="6.3" text-anchor="end" fill="#2a2a2a" textLength="9.46" lengthAdjust="spacingAndGlyphs">3.0</text>
<line x1="414.50" y1="236.60" x2="487.50" y2="236.60" stroke="#1a1a1a" stroke-width="1.3"/>
<line x1="415.00" y1="236.60" x2="415.00" y2="239.00" stroke="#1a1a1a" stroke-width="1.1"/>
<text x="417.60" y="244.00" font-size="6.9" text-anchor="end" fill="#2a2a2a" transform="rotate(-45 417.60 244.00)">0</text>
<line x1="421.30" y1="236.60" x2="421.30" y2="239.00" stroke="#1a1a1a" stroke-width="1.1"/>
<text x="423.90" y="244.00" font-size="6.9" text-anchor="end" fill="#2a2a2a" transform="rotate(-45 423.90 244.00)">5</text>
<line x1="427.60" y1="236.60" x2="427.60" y2="239.00" stroke="#1a1a1a" stroke-width="1.1"/>
<text x="430.20" y="244.00" font-size="6.9" text-anchor="end" fill="#2a2a2a" transform="rotate(-45 430.20 244.00)">10</text>
<line x1="433.90" y1="236.60" x2="433.90" y2="239.00" stroke="#1a1a1a" stroke-width="1.1"/>
<text x="436.50" y="244.00" font-size="6.9" text-anchor="end" fill="#2a2a2a" transform="rotate(-45 436.50 244.00)">15</text>
<line x1="440.20" y1="236.60" x2="440.20" y2="239.00" stroke="#1a1a1a" stroke-width="1.1"/>
<text x="442.80" y="244.00" font-size="6.9" text-anchor="end" fill="#2a2a2a" transform="rotate(-45 442.80 244.00)">20</text>
<line x1="446.50" y1="236.60" x2="446.50" y2="239.00" stroke="#1a1a1a" stroke-width="1.1"/>
<text x="449.10" y="244.00" font-size="6.9" text-anchor="end" fill="#2a2a2a" transform="rotate(-45 449.10 244.00)">25</text>
<line x1="452.80" y1="236.60" x2="452.80" y2="239.00" stroke="#1a1a1a" stroke-width="1.1"/>
<text x="455.40" y="244.00" font-size="6.9" text-anchor="end" fill="#2a2a2a" transform="rotate(-45 455.40 244.00)">30</text>
<line x1="459.10" y1="236.60" x2="459.10" y2="239.00" stroke="#1a1a1a" stroke-width="1.1"/>
<text x="461.70" y="244.00" font-size="6.9" text-anchor="end" fill="#2a2a2a" transform="rotate(-45 461.70 244.00)">35</text>
<line x1="465.40" y1="236.60" x2="465.40" y2="239.00" stroke="#1a1a1a" stroke-width="1.1"/>
<text x="468.00" y="244.00" font-size="6.9" text-anchor="end" fill="#2a2a2a" transform="rotate(-45 468.00 244.00)">40</text>
<line x1="471.70" y1="236.60" x2="471.70" y2="239.00" stroke="#1a1a1a" stroke-width="1.1"/>
<text x="474.30" y="244.00" font-size="6.9" text-anchor="end" fill="#2a2a2a" transform="rotate(-45 474.30 244.00)">45</text>
<line x1="478.00" y1="236.60" x2="478.00" y2="239.00" stroke="#1a1a1a" stroke-width="1.1"/>
<text x="480.60" y="244.00" font-size="6.9" text-anchor="end" fill="#2a2a2a" transform="rotate(-45 480.60 244.00)">50</text>
<line x1="484.30" y1="236.60" x2="484.30" y2="239.00" stroke="#1a1a1a" stroke-width="1.1"/>
<text x="486.90" y="244.00" font-size="6.9" text-anchor="end" fill="#2a2a2a" transform="rotate(-45 486.90 244.00)">55</text>
<text x="452.20" y="260.72" font-size="8.4" text-anchor="middle" font-weight="bold" fill="#222" textLength="51.80" lengthAdjust="spacingAndGlyphs">CD11b expression %</text>
<text x="394.36" y="200.50" font-size="8.5" text-anchor="middle" transform="rotate(-90 394.36 200.50)" font-weight="bold" fill="#222" textLength="32.00" lengthAdjust="spacingAndGlyphs">NE#(K/μL)</text>
<ellipse cx="435.8" cy="199.5" rx="14.3" ry="27" fill="none" stroke="#2a4070" stroke-width="1.1" stroke-dasharray="1.8 0.7" transform="rotate(12 435.8 199.5)"/>
<ellipse cx="461.8" cy="217.7" rx="21" ry="15" fill="none" stroke="#981538" stroke-width="1.25" stroke-dasharray="4 2" transform="rotate(-8 461.8 217.7)"/>
<circle cx="436.20" cy="175.20" r="1.95" fill="none" stroke="#2a4070" stroke-width="1.1"/>
<circle cx="448.90" cy="185.00" r="1.95" fill="none" stroke="#2a4070" stroke-width="1.1"/>
<circle cx="448.00" cy="190.00" r="1.95" fill="none" stroke="#2a4070" stroke-width="1.1"/>
<circle cx="445.30" cy="192.80" r="1.95" fill="none" stroke="#2a4070" stroke-width="1.1"/>
<circle cx="442.10" cy="192.20" r="1.95" fill="none" stroke="#2a4070" stroke-width="1.1"/>
<circle cx="437.50" cy="194.90" r="1.95" fill="none" stroke="#2a4070" stroke-width="1.1"/>
<circle cx="434.10" cy="199.80" r="1.95" fill="none" stroke="#2a4070" stroke-width="1.1"/>
<circle cx="436.20" cy="204.40" r="1.95" fill="none" stroke="#2a4070" stroke-width="1.1"/>
<circle cx="436.20" cy="205.70" r="1.95" fill="none" stroke="#2a4070" stroke-width="1.1"/>
<circle cx="435.80" cy="221.80" r="1.95" fill="none" stroke="#2a4070" stroke-width="1.1"/>
<circle cx="445.30" cy="224.50" r="1.95" fill="none" stroke="#2a4070" stroke-width="1.1"/>
<rect x="460.00" y="201.60" width="3.60" height="3.60" fill="#981538"/>
<rect x="452.60" y="205.80" width="3.60" height="3.60" fill="#981538"/>
<rect x="456.80" y="208.50" width="3.60" height="3.60" fill="#981538"/>
<rect x="466.10" y="209.40" width="3.60" height="3.60" fill="#981538"/>
<rect x="454.10" y="214.30" width="3.60" height="3.60" fill="#981538"/>
<rect x="445.60" y="215.70" width="3.60" height="3.60" fill="#981538"/>
<rect x="475.20" y="216.40" width="3.60" height="3.60" fill="#981538"/>
<rect x="440.70" y="218.50" width="3.60" height="3.60" fill="#981538"/>
<rect x="452.00" y="221.00" width="3.60" height="3.60" fill="#981538"/>
<rect x="449.80" y="227.00" width="3.60" height="3.60" fill="#981538"/>
<circle cx="427.30" cy="168.90" r="2.00" fill="none" stroke="#2a4070" stroke-width="1.1"/>
<text x="431.50" y="170.99" font-size="5.8" text-anchor="start" fill="#222">WT</text>
<rect x="450.80" y="167.40" width="3.10" height="3.10" fill="#981538"/>
<text x="455.90" y="170.99" font-size="5.8" text-anchor="start" fill="#222">KO</text>
<text x="9.00" y="288.56" font-size="11" text-anchor="start" font-weight="bold" fill="#000">G</text>
<text x="269.00" y="288.56" font-size="11" text-anchor="start" font-weight="bold" fill="#000">H</text>
<text x="67.80" y="298.02" font-size="8.4" text-anchor="start" fill="#111" textLength="26.80" lengthAdjust="spacingAndGlyphs">CD11b</text>
<text x="94.70" y="294.90" font-size="6.4" text-anchor="start" fill="#111">+</text>
<text x="101.80" y="298.02" font-size="8.4" text-anchor="start" fill="#111">%</text>
<text x="18.26" y="339.00" font-size="8.5" text-anchor="middle" transform="rotate(-90 18.26 339.00)" font-weight="bold" fill="#222" textLength="53.00" lengthAdjust="spacingAndGlyphs">Relative % of CD11b<tspan font-size="70%" dy="-0.45em">+</tspan></text>
<text x="28.36" y="337.00" font-size="8.5" text-anchor="middle" transform="rotate(-90 28.36 337.00)" font-weight="bold" fill="#222" textLength="65.00" lengthAdjust="spacingAndGlyphs">from CD45.2<tspan font-size="70%" dy="-0.45em">+</tspan><tspan dy="0.45em"> population</tspan></text>
<line x1="47.50" y1="369.75" x2="47.50" y2="305.10" stroke="#1a1a1a" stroke-width="1.3"/>
<line x1="44.90" y1="369.25" x2="47.50" y2="369.25" stroke="#1a1a1a" stroke-width="1.1700000000000002"/>
<text x="42.60" y="371.52" font-size="6.3" text-anchor="end" fill="#2a2a2a" textLength="3.78" lengthAdjust="spacingAndGlyphs">0</text>
<line x1="44.90" y1="353.84" x2="47.50" y2="353.84" stroke="#1a1a1a" stroke-width="1.1700000000000002"/>
<text x="42.60" y="356.11" font-size="6.3" text-anchor="end" fill="#2a2a2a" textLength="7.57" lengthAdjust="spacingAndGlyphs">20</text>
<line x1="44.90" y1="338.43" x2="47.50" y2="338.43" stroke="#1a1a1a" stroke-width="1.1700000000000002"/>
<text x="42.60" y="340.69" font-size="6.3" text-anchor="end" fill="#2a2a2a" textLength="7.57" lengthAdjust="spacingAndGlyphs">40</text>
<line x1="44.90" y1="323.01" x2="47.50" y2="323.01" stroke="#1a1a1a" stroke-width="1.1700000000000002"/>
<text x="42.60" y="325.28" font-size="6.3" text-anchor="end" fill="#2a2a2a" textLength="7.57" lengthAdjust="spacingAndGlyphs">60</text>
<line x1="44.90" y1="307.60" x2="47.50" y2="307.60" stroke="#1a1a1a" stroke-width="1.1700000000000002"/>
<text x="42.60" y="309.87" font-size="6.3" text-anchor="end" fill="#2a2a2a" textLength="7.57" lengthAdjust="spacingAndGlyphs">80</text>
<rect x="50.80" y="319.16" width="11.20" height="49.59" fill="#2a4b88" stroke="#1d2c55" stroke-width="0.4"/>
<line x1="56.40" y1="319.16" x2="56.40" y2="316.46" stroke="#111" stroke-width="0.9"/>
<line x1="53.26" y1="316.46" x2="59.54" y2="316.46" stroke="#111" stroke-width="0.9"/>
<rect x="68.00" y="315.69" width="11.50" height="53.06" fill="#b3072b" stroke="#7a0a20" stroke-width="0.4"/>
<line x1="73.75" y1="315.69" x2="73.75" y2="314.54" stroke="#111" stroke-width="0.9"/>
<line x1="70.53" y1="314.54" x2="76.97" y2="314.54" stroke="#111" stroke-width="0.9"/>
<rect x="98.00" y="355.38" width="11.50" height="13.37" fill="#2a4b88" stroke="#1d2c55" stroke-width="0.4"/>
<line x1="103.75" y1="355.38" x2="103.75" y2="354.22" stroke="#111" stroke-width="0.9"/>
<line x1="100.53" y1="354.22" x2="106.97" y2="354.22" stroke="#111" stroke-width="0.9"/>
<rect x="115.50" y="342.28" width="11.50" height="26.47" fill="#b3072b" stroke="#7a0a20" stroke-width="0.4"/>
<line x1="121.25" y1="342.28" x2="121.25" y2="339.20" stroke="#111" stroke-width="0.9"/>
<line x1="118.03" y1="339.20" x2="124.47" y2="339.20" stroke="#111" stroke-width="0.9"/>
<line x1="47.00" y1="369.25" x2="129.00" y2="369.25" stroke="#1a1a1a" stroke-width="1.3"/>
<text x="56.20" y="376.98" font-size="6.6" text-anchor="middle" fill="#222">WT</text>
<text x="74.00" y="376.98" font-size="6.6" text-anchor="middle" fill="#222">KO</text>
<text x="103.50" y="376.98" font-size="6.6" text-anchor="middle" fill="#222">WT</text>
<text x="121.00" y="376.98" font-size="6.6" text-anchor="middle" fill="#222">KO</text>
<line x1="50.50" y1="381.30" x2="81.50" y2="381.30" stroke="#222" stroke-width="1.2"/>
<text x="66.00" y="390.80" font-size="6.4" text-anchor="middle" fill="#222">BM</text>
<line x1="97.20" y1="381.30" x2="128.80" y2="381.30" stroke="#222" stroke-width="1.2"/>
<text x="113.00" y="390.80" font-size="6.4" text-anchor="middle" fill="#222">PB</text>
<line x1="51.25" y1="309.50" x2="72.50" y2="309.50" stroke="#222" stroke-width="1.15"/>
<line x1="51.25" y1="308.10" x2="51.25" y2="310.90" stroke="#222" stroke-width="0.9199999999999999"/>
<line x1="72.50" y1="308.10" x2="72.50" y2="310.90" stroke="#222" stroke-width="0.9199999999999999"/>
<text x="65.00" y="308.09" font-size="5.8" text-anchor="middle" fill="#222" textLength="35.00" lengthAdjust="spacingAndGlyphs">P=0.2348,NS</text>
<line x1="102.50" y1="333.75" x2="121.75" y2="333.75" stroke="#222" stroke-width="1.15"/>
<line x1="102.50" y1="332.35" x2="102.50" y2="335.15" stroke="#222" stroke-width="0.9199999999999999"/>
<line x1="121.75" y1="332.35" x2="121.75" y2="335.15" stroke="#222" stroke-width="0.9199999999999999"/>
<text x="110.60" y="330.99" font-size="5.8" text-anchor="middle" fill="#222" textLength="21.20" lengthAdjust="spacingAndGlyphs">P=0.0004</text>
<text x="215.00" y="289.42" font-size="8.4" text-anchor="middle" fill="#111" textLength="54.40" lengthAdjust="spacingAndGlyphs">Relative MFI of</text>
<text x="198.80" y="299.92" font-size="8.4" text-anchor="start" fill="#111" textLength="27.20" lengthAdjust="spacingAndGlyphs">CD11b</text>
<text x="226.20" y="296.80" font-size="6.4" text-anchor="start" fill="#111">+</text>
<text x="148.66" y="339.50" font-size="8.5" text-anchor="middle" transform="rotate(-90 148.66 339.50)" font-weight="bold" fill="#222" textLength="57.60" lengthAdjust="spacingAndGlyphs">Relative MFI of CD11b<tspan font-size="70%" dy="-0.45em">+</tspan></text>
<text x="158.86" y="338.00" font-size="8.5" text-anchor="middle" transform="rotate(-90 158.86 338.00)" font-weight="bold" fill="#222" textLength="65.00" lengthAdjust="spacingAndGlyphs">from CD45.2<tspan font-size="70%" dy="-0.45em">+</tspan><tspan dy="0.45em"> population</tspan></text>
<line x1="174.30" y1="369.50" x2="174.30" y2="307.40" stroke="#1a1a1a" stroke-width="1.3"/>
<line x1="171.70" y1="369.00" x2="174.30" y2="369.00" stroke="#1a1a1a" stroke-width="1.1700000000000002"/>
<text x="169.40" y="371.27" font-size="6.3" text-anchor="end" fill="#2a2a2a" textLength="3.78" lengthAdjust="spacingAndGlyphs">0</text>
<line x1="171.70" y1="354.23" x2="174.30" y2="354.23" stroke="#1a1a1a" stroke-width="1.1700000000000002"/>
<text x="169.40" y="356.49" font-size="6.3" text-anchor="end" fill="#2a2a2a" textLength="3.78" lengthAdjust="spacingAndGlyphs">1</text>
<line x1="171.70" y1="339.45" x2="174.30" y2="339.45" stroke="#1a1a1a" stroke-width="1.1700000000000002"/>
<text x="169.40" y="341.72" font-size="6.3" text-anchor="end" fill="#2a2a2a" textLength="3.78" lengthAdjust="spacingAndGlyphs">2</text>
<line x1="171.70" y1="324.67" x2="174.30" y2="324.67" stroke="#1a1a1a" stroke-width="1.1700000000000002"/>
<text x="169.40" y="326.94" font-size="6.3" text-anchor="end" fill="#2a2a2a" textLength="3.78" lengthAdjust="spacingAndGlyphs">3</text>
<line x1="171.70" y1="309.90" x2="174.30" y2="309.90" stroke="#1a1a1a" stroke-width="1.1700000000000002"/>
<text x="169.40" y="312.17" font-size="6.3" text-anchor="end" fill="#2a2a2a" textLength="3.78" lengthAdjust="spacingAndGlyphs">4</text>
<rect x="177.50" y="354.23" width="11.25" height="14.27" fill="#2a4b88" stroke="#1d2c55" stroke-width="0.4"/>
<line x1="183.12" y1="354.23" x2="183.12" y2="353.93" stroke="#111" stroke-width="0.9"/>
<line x1="179.97" y1="353.93" x2="186.28" y2="353.93" stroke="#111" stroke-width="0.9"/>
<rect x="194.50" y="352.75" width="11.00" height="15.75" fill="#b3072b" stroke="#7a0a20" stroke-width="0.4"/>
<line x1="200.00" y1="352.75" x2="200.00" y2="352.16" stroke="#111" stroke-width="0.9"/>
<line x1="196.92" y1="352.16" x2="203.08" y2="352.16" stroke="#111" stroke-width="0.9"/>
<rect x="223.75" y="328.37" width="11.25" height="40.13" fill="#2a4b88" stroke="#1d2c55" stroke-width="0.4"/>
<line x1="229.38" y1="328.37" x2="229.38" y2="327.19" stroke="#111" stroke-width="0.9"/>
<line x1="226.22" y1="327.19" x2="232.53" y2="327.19" stroke="#111" stroke-width="0.9"/>
<rect x="241.25" y="322.46" width="11.25" height="46.04" fill="#b3072b" stroke="#7a0a20" stroke-width="0.4"/>
<line x1="246.88" y1="322.46" x2="246.88" y2="320.98" stroke="#111" stroke-width="0.9"/>
<line x1="243.72" y1="320.98" x2="250.03" y2="320.98" stroke="#111" stroke-width="0.9"/>
<line x1="173.80" y1="369.00" x2="255.00" y2="369.00" stroke="#1a1a1a" stroke-width="1.3"/>
<text x="183.00" y="376.98" font-size="6.6" text-anchor="middle" fill="#222">WT</text>
<text x="200.00" y="376.98" font-size="6.6" text-anchor="middle" fill="#222">KO</text>
<text x="229.50" y="376.98" font-size="6.6" text-anchor="middle" fill="#222">WT</text>
<text x="246.25" y="376.98" font-size="6.6" text-anchor="middle" fill="#222">KO</text>
<line x1="175.00" y1="381.30" x2="207.50" y2="381.30" stroke="#222" stroke-width="1.2"/>
<text x="191.25" y="390.80" font-size="6.4" text-anchor="middle" fill="#222">BM</text>
<line x1="222.50" y1="381.30" x2="255.00" y2="381.30" stroke="#222" stroke-width="1.2"/>
<text x="238.75" y="390.80" font-size="6.4" text-anchor="middle" fill="#222">PB</text>
<line x1="181.25" y1="348.00" x2="202.50" y2="348.00" stroke="#222" stroke-width="1.15"/>
<line x1="181.25" y1="346.60" x2="181.25" y2="349.40" stroke="#222" stroke-width="0.9199999999999999"/>
<line x1="202.50" y1="346.60" x2="202.50" y2="349.40" stroke="#222" stroke-width="0.9199999999999999"/>
<text x="191.60" y="345.84" font-size="5.8" text-anchor="middle" fill="#222" textLength="24.20" lengthAdjust="spacingAndGlyphs">P=0.0478</text>
<line x1="228.75" y1="317.00" x2="247.50" y2="317.00" stroke="#222" stroke-width="1.15"/>
<line x1="228.75" y1="315.60" x2="228.75" y2="318.40" stroke="#222" stroke-width="0.9199999999999999"/>
<line x1="247.50" y1="315.60" x2="247.50" y2="318.40" stroke="#222" stroke-width="0.9199999999999999"/>
<text x="237.90" y="314.59" font-size="5.8" text-anchor="middle" fill="#222" textLength="23.20" lengthAdjust="spacingAndGlyphs">P=0.0157</text>
<text x="322.80" y="298.02" font-size="8.4" text-anchor="start" fill="#111" textLength="26.80" lengthAdjust="spacingAndGlyphs">CD11b</text>
<text x="349.70" y="294.90" font-size="6.4" text-anchor="start" fill="#111">+</text>
<text x="356.80" y="298.02" font-size="8.4" text-anchor="start" fill="#111">%</text>
<text x="274.26" y="338.70" font-size="8.5" text-anchor="middle" transform="rotate(-90 274.26 338.70)" font-weight="bold" fill="#222" textLength="54.70" lengthAdjust="spacingAndGlyphs">Relative % of CD11b<tspan font-size="70%" dy="-0.45em">+</tspan></text>
<text x="284.36" y="338.00" font-size="8.5" text-anchor="middle" transform="rotate(-90 284.36 338.00)" font-weight="bold" fill="#222" textLength="68.00" lengthAdjust="spacingAndGlyphs">from CD45.1<tspan font-size="70%" dy="-0.45em">+</tspan><tspan dy="0.45em"> populations</tspan></text>
<line x1="304.20" y1="369.40" x2="304.20" y2="306.00" stroke="#1a1a1a" stroke-width="1.3"/>
<line x1="301.60" y1="368.90" x2="304.20" y2="368.90" stroke="#1a1a1a" stroke-width="1.1700000000000002"/>
<text x="299.30" y="371.17" font-size="6.3" text-anchor="end" fill="#2a2a2a" textLength="3.78" lengthAdjust="spacingAndGlyphs">0</text>
<line x1="301.60" y1="353.80" x2="304.20" y2="353.80" stroke="#1a1a1a" stroke-width="1.1700000000000002"/>
<text x="299.30" y="356.07" font-size="6.3" text-anchor="end" fill="#2a2a2a" textLength="7.57" lengthAdjust="spacingAndGlyphs">20</text>
<line x1="301.60" y1="338.70" x2="304.20" y2="338.70" stroke="#1a1a1a" stroke-width="1.1700000000000002"/>
<text x="299.30" y="340.97" font-size="6.3" text-anchor="end" fill="#2a2a2a" textLength="7.57" lengthAdjust="spacingAndGlyphs">40</text>
<line x1="301.60" y1="323.60" x2="304.20" y2="323.60" stroke="#1a1a1a" stroke-width="1.1700000000000002"/>
<text x="299.30" y="325.87" font-size="6.3" text-anchor="end" fill="#2a2a2a" textLength="7.57" lengthAdjust="spacingAndGlyphs">60</text>
<line x1="301.60" y1="308.50" x2="304.20" y2="308.50" stroke="#1a1a1a" stroke-width="1.1700000000000002"/>
<text x="299.30" y="310.77" font-size="6.3" text-anchor="end" fill="#2a2a2a" textLength="7.57" lengthAdjust="spacingAndGlyphs">80</text>
<rect x="307.00" y="325.11" width="11.00" height="43.29" fill="#2a4b88" stroke="#1d2c55" stroke-width="0.4"/>
<line x1="312.50" y1="325.11" x2="312.50" y2="322.47" stroke="#111" stroke-width="0.9"/>
<line x1="309.42" y1="322.47" x2="315.58" y2="322.47" stroke="#111" stroke-width="0.9"/>
<rect x="323.75" y="329.64" width="11.25" height="38.76" fill="#b3072b" stroke="#7a0a20" stroke-width="0.4"/>
<line x1="329.38" y1="329.64" x2="329.38" y2="326.24" stroke="#111" stroke-width="0.9"/>
<line x1="326.23" y1="326.24" x2="332.52" y2="326.24" stroke="#111" stroke-width="0.9"/>
<rect x="353.00" y="337.94" width="11.50" height="30.45" fill="#2a4b88" stroke="#1d2c55" stroke-width="0.4"/>
<line x1="358.75" y1="337.94" x2="358.75" y2="331.90" stroke="#111" stroke-width="0.9"/>
<line x1="355.53" y1="331.90" x2="361.97" y2="331.90" stroke="#111" stroke-width="0.9"/>
<rect x="370.00" y="343.61" width="11.75" height="24.79" fill="#b3072b" stroke="#7a0a20" stroke-width="0.4"/>
<line x1="375.88" y1="343.61" x2="375.88" y2="336.81" stroke="#111" stroke-width="0.9"/>
<line x1="372.58" y1="336.81" x2="379.17" y2="336.81" stroke="#111" stroke-width="0.9"/>
<line x1="303.70" y1="368.90" x2="386.00" y2="368.90" stroke="#1a1a1a" stroke-width="1.3"/>
<text x="313.25" y="376.98" font-size="6.6" text-anchor="middle" fill="#222">WT</text>
<text x="330.00" y="376.98" font-size="6.6" text-anchor="middle" fill="#222">KO</text>
<text x="359.50" y="376.98" font-size="6.6" text-anchor="middle" fill="#222">WT</text>
<text x="376.25" y="376.98" font-size="6.6" text-anchor="middle" fill="#222">KO</text>
<line x1="305.00" y1="381.30" x2="337.50" y2="381.30" stroke="#222" stroke-width="1.2"/>
<text x="321.25" y="390.80" font-size="6.4" text-anchor="middle" fill="#222">BM</text>
<line x1="352.00" y1="381.30" x2="385.00" y2="381.30" stroke="#222" stroke-width="1.2"/>
<text x="368.50" y="390.80" font-size="6.4" text-anchor="middle" fill="#222">PB</text>
<line x1="311.25" y1="320.00" x2="332.50" y2="320.00" stroke="#222" stroke-width="1.15"/>
<line x1="311.25" y1="318.60" x2="311.25" y2="321.40" stroke="#222" stroke-width="0.9199999999999999"/>
<line x1="332.50" y1="318.60" x2="332.50" y2="321.40" stroke="#222" stroke-width="0.9199999999999999"/>
<text x="323.50" y="316.59" font-size="5.8" text-anchor="middle" fill="#222" textLength="32.00" lengthAdjust="spacingAndGlyphs">P=0.3525,NS</text>
<line x1="358.25" y1="327.50" x2="376.25" y2="327.50" stroke="#222" stroke-width="1.15"/>
<line x1="358.25" y1="326.10" x2="358.25" y2="328.90" stroke="#222" stroke-width="0.9199999999999999"/>
<line x1="376.25" y1="326.10" x2="376.25" y2="328.90" stroke="#222" stroke-width="0.9199999999999999"/>
<text x="367.50" y="325.84" font-size="5.8" text-anchor="middle" fill="#222" textLength="32.50" lengthAdjust="spacingAndGlyphs">P=0.5550,NS</text>
<text x="475.00" y="289.42" font-size="8.4" text-anchor="middle" fill="#111" textLength="54.40" lengthAdjust="spacingAndGlyphs">Relative MFI of</text>
<text x="458.80" y="299.92" font-size="8.4" text-anchor="start" fill="#111" textLength="27.20" lengthAdjust="spacingAndGlyphs">CD11b</text>
<text x="486.20" y="296.80" font-size="6.4" text-anchor="start" fill="#111">+</text>
<text x="403.46" y="337.50" font-size="8.5" text-anchor="middle" transform="rotate(-90 403.46 337.50)" font-weight="bold" fill="#222" textLength="60.40" lengthAdjust="spacingAndGlyphs">Relative MFI of CD11b<tspan font-size="70%" dy="-0.45em">+</tspan></text>
<text x="413.26" y="337.50" font-size="8.5" text-anchor="middle" transform="rotate(-90 413.26 337.50)" font-weight="bold" fill="#222" textLength="68.30" lengthAdjust="spacingAndGlyphs">from CD45.1<tspan font-size="70%" dy="-0.45em">+</tspan><tspan dy="0.45em"> populations</tspan></text>
<line x1="434.20" y1="369.50" x2="434.20" y2="305.60" stroke="#1a1a1a" stroke-width="1.3"/>
<line x1="431.60" y1="369.00" x2="434.20" y2="369.00" stroke="#1a1a1a" stroke-width="1.1700000000000002"/>
<text x="429.30" y="371.27" font-size="6.3" text-anchor="end" fill="#2a2a2a" textLength="9.46" lengthAdjust="spacingAndGlyphs">0.0</text>
<line x1="431.60" y1="356.82" x2="434.20" y2="356.82" stroke="#1a1a1a" stroke-width="1.1700000000000002"/>
<text x="429.30" y="359.09" font-size="6.3" text-anchor="end" fill="#2a2a2a" textLength="9.46" lengthAdjust="spacingAndGlyphs">0.5</text>
<line x1="431.60" y1="344.64" x2="434.20" y2="344.64" stroke="#1a1a1a" stroke-width="1.1700000000000002"/>
<text x="429.30" y="346.91" font-size="6.3" text-anchor="end" fill="#2a2a2a" textLength="9.46" lengthAdjust="spacingAndGlyphs">1.0</text>
<line x1="431.60" y1="332.46" x2="434.20" y2="332.46" stroke="#1a1a1a" stroke-width="1.1700000000000002"/>
<text x="429.30" y="334.73" font-size="6.3" text-anchor="end" fill="#2a2a2a" textLength="9.46" lengthAdjust="spacingAndGlyphs">1.5</text>
<line x1="431.60" y1="320.28" x2="434.20" y2="320.28" stroke="#1a1a1a" stroke-width="1.1700000000000002"/>
<text x="429.30" y="322.55" font-size="6.3" text-anchor="end" fill="#2a2a2a" textLength="9.46" lengthAdjust="spacingAndGlyphs">2.0</text>
<line x1="431.60" y1="308.10" x2="434.20" y2="308.10" stroke="#1a1a1a" stroke-width="1.1700000000000002"/>
<text x="429.30" y="310.37" font-size="6.3" text-anchor="end" fill="#2a2a2a" textLength="9.46" lengthAdjust="spacingAndGlyphs">2.5</text>
<rect x="437.00" y="344.64" width="11.00" height="23.86" fill="#2a4b88" stroke="#1d2c55" stroke-width="0.4"/>
<line x1="442.50" y1="344.64" x2="442.50" y2="344.15" stroke="#111" stroke-width="0.9"/>
<line x1="439.42" y1="344.15" x2="445.58" y2="344.15" stroke="#111" stroke-width="0.9"/>
<rect x="453.75" y="340.99" width="11.25" height="27.51" fill="#b3072b" stroke="#7a0a20" stroke-width="0.4"/>
<line x1="459.38" y1="340.99" x2="459.38" y2="339.28" stroke="#111" stroke-width="0.9"/>
<line x1="456.23" y1="339.28" x2="462.52" y2="339.28" stroke="#111" stroke-width="0.9"/>
<rect x="483.00" y="317.84" width="10.75" height="50.66" fill="#2a4b88" stroke="#1d2c55" stroke-width="0.4"/>
<line x1="488.38" y1="317.84" x2="488.38" y2="315.90" stroke="#111" stroke-width="0.9"/>
<line x1="485.37" y1="315.90" x2="491.38" y2="315.90" stroke="#111" stroke-width="0.9"/>
<rect x="499.50" y="325.15" width="11.00" height="43.35" fill="#b3072b" stroke="#7a0a20" stroke-width="0.4"/>
<line x1="505.00" y1="325.15" x2="505.00" y2="323.20" stroke="#111" stroke-width="0.9"/>
<line x1="501.92" y1="323.20" x2="508.08" y2="323.20" stroke="#111" stroke-width="0.9"/>
<line x1="433.70" y1="369.00" x2="515.00" y2="369.00" stroke="#1a1a1a" stroke-width="1.3"/>
<text x="443.00" y="376.98" font-size="6.6" text-anchor="middle" fill="#222">WT</text>
<text x="460.00" y="376.98" font-size="6.6" text-anchor="middle" fill="#222">KO</text>
<text x="489.50" y="376.98" font-size="6.6" text-anchor="middle" fill="#222">WT</text>
<text x="505.50" y="376.98" font-size="6.6" text-anchor="middle" fill="#222">KO</text>
<line x1="435.00" y1="381.30" x2="467.50" y2="381.30" stroke="#222" stroke-width="1.2"/>
<text x="451.25" y="390.80" font-size="6.4" text-anchor="middle" fill="#222">BM</text>
<line x1="482.00" y1="381.30" x2="515.00" y2="381.30" stroke="#222" stroke-width="1.2"/>
<text x="498.50" y="390.80" font-size="6.4" text-anchor="middle" fill="#222">PB</text>
<line x1="441.25" y1="333.75" x2="462.50" y2="333.75" stroke="#222" stroke-width="1.15"/>
<line x1="441.25" y1="332.35" x2="441.25" y2="335.15" stroke="#222" stroke-width="0.9199999999999999"/>
<line x1="462.50" y1="332.35" x2="462.50" y2="335.15" stroke="#222" stroke-width="0.9199999999999999"/>
<text x="450.60" y="330.09" font-size="5.8" text-anchor="middle" fill="#222" textLength="28.70" lengthAdjust="spacingAndGlyphs">P=0.0909,NS</text>
<line x1="486.25" y1="312.50" x2="506.25" y2="312.50" stroke="#222" stroke-width="1.15"/>
<line x1="486.25" y1="311.10" x2="486.25" y2="313.90" stroke="#222" stroke-width="0.9199999999999999"/>
<line x1="506.25" y1="311.10" x2="506.25" y2="313.90" stroke="#222" stroke-width="0.9199999999999999"/>
<text x="495.00" y="310.09" font-size="5.8" text-anchor="middle" fill="#222" textLength="25.00" lengthAdjust="spacingAndGlyphs">P=0.0389</text>
<text x="328.45" y="418.32" font-size="8.4" text-anchor="middle" fill="#111" textLength="85.10" lengthAdjust="spacingAndGlyphs">Relative MFI of CD11b</text>
<text x="371.30" y="415.30" font-size="6.4" text-anchor="start" fill="#111">+</text>
<text x="266.46" y="455.00" font-size="8.5" text-anchor="middle" transform="rotate(-90 266.46 455.00)" font-weight="bold" fill="#222" textLength="67.00" lengthAdjust="spacingAndGlyphs">Relative MFI of CD11b<tspan font-size="70%" dy="-0.45em">+</tspan></text>
<line x1="280.20" y1="494.00" x2="280.20" y2="424.20" stroke="#1a1a1a" stroke-width="1.3"/>
<line x1="277.60" y1="493.50" x2="280.20" y2="493.50" stroke="#1a1a1a" stroke-width="1.1700000000000002"/>
<text x="275.30" y="495.77" font-size="6.3" text-anchor="end" fill="#2a2a2a" textLength="3.78" lengthAdjust="spacingAndGlyphs">0</text>
<line x1="277.60" y1="480.14" x2="280.20" y2="480.14" stroke="#1a1a1a" stroke-width="1.1700000000000002"/>
<text x="275.30" y="482.41" font-size="6.3" text-anchor="end" fill="#2a2a2a" textLength="3.78" lengthAdjust="spacingAndGlyphs">1</text>
<line x1="277.60" y1="466.78" x2="280.20" y2="466.78" stroke="#1a1a1a" stroke-width="1.1700000000000002"/>
<text x="275.30" y="469.05" font-size="6.3" text-anchor="end" fill="#2a2a2a" textLength="3.78" lengthAdjust="spacingAndGlyphs">2</text>
<line x1="277.60" y1="453.42" x2="280.20" y2="453.42" stroke="#1a1a1a" stroke-width="1.1700000000000002"/>
<text x="275.30" y="455.69" font-size="6.3" text-anchor="end" fill="#2a2a2a" textLength="3.78" lengthAdjust="spacingAndGlyphs">3</text>
<line x1="277.60" y1="440.06" x2="280.20" y2="440.06" stroke="#1a1a1a" stroke-width="1.1700000000000002"/>
<text x="275.30" y="442.33" font-size="6.3" text-anchor="end" fill="#2a2a2a" textLength="3.78" lengthAdjust="spacingAndGlyphs">4</text>
<line x1="277.60" y1="426.70" x2="280.20" y2="426.70" stroke="#1a1a1a" stroke-width="1.1700000000000002"/>
<text x="275.30" y="428.97" font-size="6.3" text-anchor="end" fill="#2a2a2a" textLength="3.78" lengthAdjust="spacingAndGlyphs">5</text>
<rect x="284.50" y="480.14" width="7.80" height="12.86" fill="#2a4b88" stroke="#1d2c55" stroke-width="0.4"/>
<line x1="288.40" y1="480.14" x2="288.40" y2="479.74" stroke="#111" stroke-width="0.9"/>
<line x1="286.22" y1="479.74" x2="290.58" y2="479.74" stroke="#111" stroke-width="0.9"/>
<rect x="295.80" y="477.74" width="8.00" height="15.26" fill="#b3072b" stroke="#7a0a20" stroke-width="0.4"/>
<line x1="299.80" y1="477.74" x2="299.80" y2="477.33" stroke="#111" stroke-width="0.9"/>
<line x1="297.56" y1="477.33" x2="302.04" y2="477.33" stroke="#111" stroke-width="0.9"/>
<rect x="320.00" y="453.42" width="8.00" height="39.58" fill="#2a4b88" stroke="#1d2c55" stroke-width="0.4"/>
<line x1="324.00" y1="453.42" x2="324.00" y2="453.02" stroke="#111" stroke-width="0.9"/>
<line x1="321.76" y1="453.02" x2="326.24" y2="453.02" stroke="#111" stroke-width="0.9"/>
<rect x="331.30" y="444.07" width="8.90" height="48.93" fill="#b3072b" stroke="#7a0a20" stroke-width="0.4"/>
<line x1="335.75" y1="444.07" x2="335.75" y2="443.53" stroke="#111" stroke-width="0.9"/>
<line x1="333.26" y1="443.53" x2="338.24" y2="443.53" stroke="#111" stroke-width="0.9"/>
<rect x="355.80" y="466.78" width="8.60" height="26.22" fill="#2a4b88" stroke="#1d2c55" stroke-width="0.4"/>
<line x1="360.10" y1="466.78" x2="360.10" y2="466.38" stroke="#111" stroke-width="0.9"/>
<line x1="357.69" y1="466.38" x2="362.51" y2="466.38" stroke="#111" stroke-width="0.9"/>
<rect x="367.70" y="461.70" width="8.30" height="31.30" fill="#b3072b" stroke="#7a0a20" stroke-width="0.4"/>
<line x1="371.85" y1="461.70" x2="371.85" y2="461.17" stroke="#111" stroke-width="0.9"/>
<line x1="369.53" y1="461.17" x2="374.17" y2="461.17" stroke="#111" stroke-width="0.9"/>
<line x1="279.70" y1="493.50" x2="378.00" y2="493.50" stroke="#1a1a1a" stroke-width="1.3"/>
<rect x="286.30" y="426.70" width="6.70" height="3.60" fill="#2a4b88"/>
<text x="296.30" y="430.59" font-size="5.8" text-anchor="start" fill="#222">WT</text>
<rect x="286.30" y="434.90" width="6.70" height="3.80" fill="#b3072b"/>
<text x="296.30" y="438.89" font-size="5.8" text-anchor="start" fill="#222">KO</text>
<text x="293.90" y="503.18" font-size="6.6" text-anchor="middle" fill="#222">BM</text>
<text x="330.20" y="503.18" font-size="6.6" text-anchor="middle" fill="#222">PB</text>
<text x="366.30" y="503.18" font-size="6.6" text-anchor="middle" fill="#222">SP</text>
<line x1="287.70" y1="473.90" x2="301.20" y2="473.90" stroke="#222" stroke-width="1.15"/>
<line x1="287.70" y1="472.50" x2="287.70" y2="475.30" stroke="#222" stroke-width="0.9199999999999999"/>
<line x1="301.20" y1="472.50" x2="301.20" y2="475.30" stroke="#222" stroke-width="0.9199999999999999"/>
<text x="294.90" y="471.39" font-size="5.8" text-anchor="middle" fill="#222" textLength="22.30" lengthAdjust="spacingAndGlyphs">P&lt;0.0001</text>
<line x1="322.70" y1="440.70" x2="337.50" y2="440.70" stroke="#222" stroke-width="1.15"/>
<line x1="322.70" y1="439.30" x2="322.70" y2="442.10" stroke="#222" stroke-width="0.9199999999999999"/>
<line x1="337.50" y1="439.30" x2="337.50" y2="442.10" stroke="#222" stroke-width="0.9199999999999999"/>
<text x="328.80" y="438.49" font-size="5.8" text-anchor="middle" fill="#222" textLength="22.90" lengthAdjust="spacingAndGlyphs">P&lt;0.0001</text>
<line x1="359.00" y1="456.90" x2="372.50" y2="456.90" stroke="#222" stroke-width="1.15"/>
<line x1="359.00" y1="455.50" x2="359.00" y2="458.30" stroke="#222" stroke-width="0.9199999999999999"/>
<line x1="372.50" y1="455.50" x2="372.50" y2="458.30" stroke="#222" stroke-width="0.9199999999999999"/>
<text x="364.90" y="454.69" font-size="5.8" text-anchor="middle" fill="#222" textLength="22.30" lengthAdjust="spacingAndGlyphs">P&lt;0.0001</text>
<text x="391.50" y="418.76" font-size="11" text-anchor="start" font-weight="bold" fill="#000">J</text>
<line x1="425.20" y1="428.50" x2="425.20" y2="460.20" stroke="#1a1a1a" stroke-width="1.3"/>
<line x1="425.20" y1="464.50" x2="425.20" y2="494.50" stroke="#1a1a1a" stroke-width="1.3"/>
<line x1="423.60" y1="460.20" x2="425.80" y2="460.20" stroke="#1a1a1a" stroke-width="1.0"/>
<line x1="424.60" y1="464.50" x2="426.80" y2="464.50" stroke="#1a1a1a" stroke-width="1.0"/>
<line x1="422.80" y1="431.70" x2="425.20" y2="431.70" stroke="#1a1a1a" stroke-width="1.1"/>
<text x="419.60" y="433.93" font-size="6.2" text-anchor="end" fill="#2a2a2a" textLength="15.60" lengthAdjust="spacingAndGlyphs">9×10</text>
<text x="419.70" y="431.14" font-size="4.0" text-anchor="start" fill="#2a2a2a">7</text>
<line x1="422.80" y1="438.70" x2="425.20" y2="438.70" stroke="#1a1a1a" stroke-width="1.1"/>
<text x="419.60" y="440.93" font-size="6.2" text-anchor="end" fill="#2a2a2a" textLength="15.60" lengthAdjust="spacingAndGlyphs">8×10</text>
<text x="419.70" y="438.14" font-size="4.0" text-anchor="start" fill="#2a2a2a">7</text>
<line x1="422.80" y1="446.00" x2="425.20" y2="446.00" stroke="#1a1a1a" stroke-width="1.1"/>
<text x="419.60" y="448.23" font-size="6.2" text-anchor="end" fill="#2a2a2a" textLength="15.60" lengthAdjust="spacingAndGlyphs">7×10</text>
<text x="419.70" y="445.44" font-size="4.0" text-anchor="start" fill="#2a2a2a">7</text>
<line x1="422.80" y1="453.00" x2="425.20" y2="453.00" stroke="#1a1a1a" stroke-width="1.1"/>
<text x="419.60" y="455.23" font-size="6.2" text-anchor="end" fill="#2a2a2a" textLength="15.60" lengthAdjust="spacingAndGlyphs">6×10</text>
<text x="419.70" y="452.44" font-size="4.0" text-anchor="start" fill="#2a2a2a">7</text>
<line x1="422.80" y1="460.30" x2="425.20" y2="460.30" stroke="#1a1a1a" stroke-width="1.1"/>
<text x="419.60" y="462.53" font-size="6.2" text-anchor="end" fill="#2a2a2a" textLength="15.60" lengthAdjust="spacingAndGlyphs">5×10</text>
<text x="419.70" y="459.74" font-size="4.0" text-anchor="start" fill="#2a2a2a">7</text>
<line x1="422.80" y1="469.90" x2="425.20" y2="469.90" stroke="#1a1a1a" stroke-width="1.1"/>
<text x="419.60" y="472.13" font-size="6.2" text-anchor="end" fill="#2a2a2a" textLength="15.60" lengthAdjust="spacingAndGlyphs">2×10</text>
<text x="419.70" y="469.34" font-size="4.0" text-anchor="start" fill="#2a2a2a">7</text>
<line x1="422.80" y1="481.80" x2="425.20" y2="481.80" stroke="#1a1a1a" stroke-width="1.1"/>
<text x="419.60" y="484.03" font-size="6.2" text-anchor="end" fill="#2a2a2a" textLength="15.60" lengthAdjust="spacingAndGlyphs">1×10</text>
<text x="419.70" y="481.24" font-size="4.0" text-anchor="start" fill="#2a2a2a">7</text>
<line x1="422.80" y1="494.00" x2="425.20" y2="494.00" stroke="#1a1a1a" stroke-width="1.1"/>
<text x="419.70" y="495.66" font-size="6.0" text-anchor="end" fill="#2a2a2a">0</text>
<line x1="424.70" y1="494.00" x2="509.00" y2="494.00" stroke="#1a1a1a" stroke-width="1.3"/>
<text x="396.06" y="461.50" font-size="8.5" text-anchor="middle" transform="rotate(-90 396.06 461.50)" font-weight="bold" fill="#222" textLength="38.30" lengthAdjust="spacingAndGlyphs">Relative cells#</text>
<rect x="432.50" y="442.60" width="12.20" height="17.40" fill="#2a4b88" stroke="#1d2c55" stroke-width="0.4"/>
<rect x="432.50" y="465.00" width="12.20" height="28.50" fill="#2a4b88" stroke="#1d2c55" stroke-width="0.4"/>
<line x1="438.60" y1="442.60" x2="438.60" y2="440.40" stroke="#111" stroke-width="0.9"/>
<line x1="435.80" y1="440.40" x2="441.40" y2="440.40" stroke="#111" stroke-width="0.9"/>
<rect x="449.90" y="443.20" width="11.10" height="16.80" fill="#b3072b" stroke="#7a0a20" stroke-width="0.4"/>
<rect x="449.90" y="465.00" width="11.10" height="28.50" fill="#b3072b" stroke="#7a0a20" stroke-width="0.4"/>
<line x1="455.45" y1="443.20" x2="455.45" y2="440.00" stroke="#111" stroke-width="0.9"/>
<line x1="452.65" y1="440.00" x2="458.25" y2="440.00" stroke="#111" stroke-width="0.9"/>
<rect x="477.70" y="467.30" width="10.60" height="26.20" fill="#2a4b88" stroke="#1d2c55" stroke-width="0.4"/>
<line x1="483.00" y1="467.30" x2="483.00" y2="465.30" stroke="#111" stroke-width="0.9"/>
<line x1="480.20" y1="465.30" x2="485.80" y2="465.30" stroke="#111" stroke-width="0.9"/>
<rect x="493.50" y="469.40" width="10.90" height="24.10" fill="#b3072b" stroke="#7a0a20" stroke-width="0.4"/>
<line x1="498.95" y1="469.40" x2="498.95" y2="466.20" stroke="#111" stroke-width="0.9"/>
<line x1="496.15" y1="466.20" x2="501.75" y2="466.20" stroke="#111" stroke-width="0.9"/>
<rect x="479.00" y="437.00" width="8.50" height="4.60" fill="#2a4b88"/>
<text x="489.40" y="441.39" font-size="5.8" text-anchor="start" fill="#222">WT</text>
<rect x="479.00" y="446.00" width="8.50" height="4.40" fill="#b3072b"/>
<text x="489.40" y="450.29" font-size="5.8" text-anchor="start" fill="#222">KO</text>
<text x="447.50" y="506.35" font-size="6.8" text-anchor="middle" fill="#222" textLength="40.50" lengthAdjust="spacingAndGlyphs">Total BM Cells</text>
<text x="491.00" y="506.35" font-size="6.8" text-anchor="middle" fill="#222" textLength="36.00" lengthAdjust="spacingAndGlyphs">Granulocytes</text>
<line x1="447.30" y1="494.00" x2="447.30" y2="497.00" stroke="#1a1a1a" stroke-width="1.1"/>
<line x1="491.00" y1="494.00" x2="491.00" y2="497.00" stroke="#1a1a1a" stroke-width="1.1"/>
<text x="8.10" y="533.96" font-size="11" text-anchor="start" font-weight="bold" fill="#000">K</text>
<text x="62.00" y="538.52" font-size="8.4" text-anchor="middle" fill="#111" textLength="36.50" lengthAdjust="spacingAndGlyphs">Apoptotic</text>
<text x="61.50" y="548.72" font-size="8.4" text-anchor="middle" fill="#111" textLength="24.10" lengthAdjust="spacingAndGlyphs">cells%</text>
<line x1="37.00" y1="621.70" x2="37.00" y2="552.20" stroke="#1a1a1a" stroke-width="1.3"/>
<line x1="34.40" y1="621.20" x2="37.00" y2="621.20" stroke="#1a1a1a" stroke-width="1.1700000000000002"/>
<text x="32.10" y="623.47" font-size="6.3" text-anchor="end" fill="#2a2a2a" textLength="3.78" lengthAdjust="spacingAndGlyphs">0</text>
<line x1="34.40" y1="604.60" x2="37.00" y2="604.60" stroke="#1a1a1a" stroke-width="1.1700000000000002"/>
<text x="32.10" y="606.87" font-size="6.3" text-anchor="end" fill="#2a2a2a" textLength="7.57" lengthAdjust="spacingAndGlyphs">10</text>
<line x1="34.40" y1="588.30" x2="37.00" y2="588.30" stroke="#1a1a1a" stroke-width="1.1700000000000002"/>
<text x="32.10" y="590.57" font-size="6.3" text-anchor="end" fill="#2a2a2a" textLength="7.57" lengthAdjust="spacingAndGlyphs">20</text>
<line x1="34.40" y1="571.50" x2="37.00" y2="571.50" stroke="#1a1a1a" stroke-width="1.1700000000000002"/>
<text x="32.10" y="573.77" font-size="6.3" text-anchor="end" fill="#2a2a2a" textLength="7.57" lengthAdjust="spacingAndGlyphs">30</text>
<line x1="34.40" y1="554.70" x2="37.00" y2="554.70" stroke="#1a1a1a" stroke-width="1.1700000000000002"/>
<text x="32.10" y="556.97" font-size="6.3" text-anchor="end" fill="#2a2a2a" textLength="7.57" lengthAdjust="spacingAndGlyphs">40</text>
<line x1="36.50" y1="621.20" x2="86.20" y2="621.20" stroke="#1a1a1a" stroke-width="1.3"/>
<line x1="49.60" y1="621.20" x2="49.60" y2="624.00" stroke="#1a1a1a" stroke-width="1.1"/>
<line x1="74.40" y1="621.20" x2="74.40" y2="624.00" stroke="#1a1a1a" stroke-width="1.1"/>
<text x="49.60" y="629.60" font-size="6.4" text-anchor="middle" fill="#222">WT</text>
<text x="74.40" y="629.60" font-size="6.4" text-anchor="middle" fill="#222">KO</text>
<text x="18.46" y="589.00" font-size="8.5" text-anchor="middle" transform="rotate(-90 18.46 589.00)" font-weight="bold" fill="#222" textLength="51.50" lengthAdjust="spacingAndGlyphs">AnV<tspan font-size="70%" dy="-0.45em">+</tspan><tspan dy="0.45em">% in myeloid</tspan></text>
<circle cx="49.60" cy="565.00" r="1.15" fill="#1f2f5c"/>
<circle cx="47.90" cy="585.60" r="1.15" fill="#1f2f5c"/>
<circle cx="51.00" cy="586.30" r="1.15" fill="#1f2f5c"/>
<circle cx="46.00" cy="591.70" r="1.15" fill="#1f2f5c"/>
<circle cx="49.00" cy="592.40" r="1.15" fill="#1f2f5c"/>
<circle cx="53.30" cy="591.70" r="1.15" fill="#1f2f5c"/>
<circle cx="49.00" cy="596.20" r="1.15" fill="#1f2f5c"/>
<circle cx="49.60" cy="600.80" r="1.15" fill="#1f2f5c"/>
<rect x="73.10" y="565.50" width="2.40" height="2.40" fill="#a3163f"/>
<rect x="71.50" y="585.10" width="2.40" height="2.40" fill="#a3163f"/>
<rect x="76.90" y="585.50" width="2.40" height="2.40" fill="#a3163f"/>
<rect x="68.80" y="587.40" width="2.40" height="2.40" fill="#a3163f"/>
<rect x="73.50" y="588.20" width="2.40" height="2.40" fill="#a3163f"/>
<rect x="73.50" y="599.30" width="2.40" height="2.40" fill="#a3163f"/>
<rect x="76.90" y="599.30" width="2.40" height="2.40" fill="#a3163f"/>
<rect x="69.20" y="608.10" width="2.40" height="2.40" fill="#a3163f"/>
<rect x="73.20" y="608.80" width="2.40" height="2.40" fill="#a3163f"/>
<rect x="76.90" y="606.80" width="2.40" height="2.40" fill="#a3163f"/>
<rect x="72.80" y="614.20" width="2.40" height="2.40" fill="#a3163f"/>
<line x1="41.50" y1="588.60" x2="57.70" y2="588.60" stroke="#111" stroke-width="1.1"/>
<line x1="49.60" y1="585.40" x2="49.60" y2="591.70" stroke="#111" stroke-width="0.9"/>
<line x1="46.60" y1="585.40" x2="52.60" y2="585.40" stroke="#111" stroke-width="0.9"/>
<line x1="46.60" y1="591.70" x2="52.60" y2="591.70" stroke="#111" stroke-width="0.9"/>
<line x1="66.30" y1="596.50" x2="82.50" y2="596.50" stroke="#111" stroke-width="1.1"/>
<line x1="74.40" y1="592.70" x2="74.40" y2="600.80" stroke="#111" stroke-width="0.9"/>
<line x1="71.40" y1="592.70" x2="77.40" y2="592.70" stroke="#111" stroke-width="0.9"/>
<line x1="71.40" y1="600.80" x2="77.40" y2="600.80" stroke="#111" stroke-width="0.9"/>
<text x="99.40" y="533.96" font-size="11" text-anchor="start" font-weight="bold" fill="#000">L</text>
<text x="164.10" y="548.12" font-size="8.4" text-anchor="middle" fill="#111" font-style="italic" textLength="27.60" lengthAdjust="spacingAndGlyphs">CD11b</text>
<text x="192.70" y="548.12" font-size="8.4" text-anchor="middle" fill="#111" textLength="24.80" lengthAdjust="spacingAndGlyphs">mRNA</text>
<text x="105.46" y="586.00" font-size="8.5" text-anchor="middle" transform="rotate(-90 105.46 586.00)" font-weight="bold" fill="#222" textLength="71.00" lengthAdjust="spacingAndGlyphs">Relative CD11b mRNA level</text>
<text x="117.06" y="584.30" font-size="8.5" text-anchor="middle" transform="rotate(-90 117.06 584.30)" font-weight="bold" fill="#222" textLength="31.20" lengthAdjust="spacingAndGlyphs">to 18s rRNA</text>
<line x1="135.90" y1="620.80" x2="135.90" y2="552.90" stroke="#1a1a1a" stroke-width="1.3"/>
<line x1="133.30" y1="620.30" x2="135.90" y2="620.30" stroke="#1a1a1a" stroke-width="1.1700000000000002"/>
<text x="131.00" y="622.57" font-size="6.3" text-anchor="end" fill="#2a2a2a" textLength="9.46" lengthAdjust="spacingAndGlyphs">0.0</text>
<line x1="133.30" y1="604.07" x2="135.90" y2="604.07" stroke="#1a1a1a" stroke-width="1.1700000000000002"/>
<text x="131.00" y="606.34" font-size="6.3" text-anchor="end" fill="#2a2a2a" textLength="9.46" lengthAdjust="spacingAndGlyphs">0.5</text>
<line x1="133.30" y1="587.85" x2="135.90" y2="587.85" stroke="#1a1a1a" stroke-width="1.1700000000000002"/>
<text x="131.00" y="590.12" font-size="6.3" text-anchor="end" fill="#2a2a2a" textLength="9.46" lengthAdjust="spacingAndGlyphs">1.0</text>
<line x1="133.30" y1="571.62" x2="135.90" y2="571.62" stroke="#1a1a1a" stroke-width="1.1700000000000002"/>
<text x="131.00" y="573.89" font-size="6.3" text-anchor="end" fill="#2a2a2a" textLength="9.46" lengthAdjust="spacingAndGlyphs">1.5</text>
<line x1="133.30" y1="555.40" x2="135.90" y2="555.40" stroke="#1a1a1a" stroke-width="1.1700000000000002"/>
<text x="131.00" y="557.67" font-size="6.3" text-anchor="end" fill="#2a2a2a" textLength="9.46" lengthAdjust="spacingAndGlyphs">2.0</text>
<rect x="139.50" y="587.85" width="11.50" height="31.95" fill="#2a4b88" stroke="#1d2c55" stroke-width="0.4"/>
<line x1="145.25" y1="587.85" x2="145.25" y2="585.90" stroke="#111" stroke-width="0.9"/>
<line x1="142.03" y1="585.90" x2="148.47" y2="585.90" stroke="#111" stroke-width="0.9"/>
<rect x="156.30" y="587.20" width="12.00" height="32.60" fill="#b3072b" stroke="#7a0a20" stroke-width="0.4"/>
<line x1="162.30" y1="587.20" x2="162.30" y2="585.25" stroke="#111" stroke-width="0.9"/>
<line x1="158.94" y1="585.25" x2="165.66" y2="585.25" stroke="#111" stroke-width="0.9"/>
<rect x="185.90" y="587.85" width="12.00" height="31.95" fill="#2a4b88" stroke="#1d2c55" stroke-width="0.4"/>
<line x1="191.90" y1="587.85" x2="191.90" y2="583.96" stroke="#111" stroke-width="0.9"/>
<line x1="188.54" y1="583.96" x2="195.26" y2="583.96" stroke="#111" stroke-width="0.9"/>
<rect x="203.20" y="582.66" width="12.00" height="37.14" fill="#b3072b" stroke="#7a0a20" stroke-width="0.4"/>
<line x1="209.20" y1="582.66" x2="209.20" y2="569.03" stroke="#111" stroke-width="0.9"/>
<line x1="205.84" y1="569.03" x2="212.56" y2="569.03" stroke="#111" stroke-width="0.9"/>
<line x1="135.40" y1="620.30" x2="217.60" y2="620.30" stroke="#1a1a1a" stroke-width="1.3"/>
<rect x="140.70" y="556.60" width="7.20" height="2.80" fill="#2a4b88"/>
<text x="150.30" y="560.02" font-size="5.6" text-anchor="start" fill="#222">WT</text>
<rect x="140.70" y="563.40" width="7.20" height="2.90" fill="#b3072b"/>
<text x="150.30" y="566.92" font-size="5.6" text-anchor="start" fill="#222">KO</text>
<line x1="191.20" y1="565.00" x2="210.40" y2="565.00" stroke="#222" stroke-width="1.15"/>
<line x1="191.20" y1="563.60" x2="191.20" y2="566.40" stroke="#222" stroke-width="0.9199999999999999"/>
<line x1="210.40" y1="563.60" x2="210.40" y2="566.40" stroke="#222" stroke-width="0.9199999999999999"/>
<text x="200.70" y="561.39" font-size="5.8" text-anchor="middle" fill="#222" textLength="32.70" lengthAdjust="spacingAndGlyphs">P=0.6344,NS</text>
<text x="153.90" y="629.18" font-size="6.6" text-anchor="middle" fill="#222">BM</text>
<text x="200.80" y="629.18" font-size="6.6" text-anchor="middle" fill="#222">PB</text>
<text x="230.50" y="533.96" font-size="11" text-anchor="start" font-weight="bold" fill="#000">M</text>
<line x1="259.90" y1="621.30" x2="259.90" y2="544.50" stroke="#1a1a1a" stroke-width="1.3"/>
<line x1="257.30" y1="620.80" x2="259.90" y2="620.80" stroke="#1a1a1a" stroke-width="1.1700000000000002"/>
<text x="255.00" y="623.07" font-size="6.3" text-anchor="end" fill="#2a2a2a" textLength="9.46" lengthAdjust="spacingAndGlyphs">0.5</text>
<line x1="257.30" y1="608.50" x2="259.90" y2="608.50" stroke="#1a1a1a" stroke-width="1.1700000000000002"/>
<text x="255.00" y="610.77" font-size="6.3" text-anchor="end" fill="#2a2a2a" textLength="9.46" lengthAdjust="spacingAndGlyphs">0.6</text>
<line x1="257.30" y1="596.20" x2="259.90" y2="596.20" stroke="#1a1a1a" stroke-width="1.1700000000000002"/>
<text x="255.00" y="598.47" font-size="6.3" text-anchor="end" fill="#2a2a2a" textLength="9.46" lengthAdjust="spacingAndGlyphs">0.7</text>
<line x1="257.30" y1="583.90" x2="259.90" y2="583.90" stroke="#1a1a1a" stroke-width="1.1700000000000002"/>
<text x="255.00" y="586.17" font-size="6.3" text-anchor="end" fill="#2a2a2a" textLength="9.46" lengthAdjust="spacingAndGlyphs">0.8</text>
<line x1="257.30" y1="571.60" x2="259.90" y2="571.60" stroke="#1a1a1a" stroke-width="1.1700000000000002"/>
<text x="255.00" y="573.87" font-size="6.3" text-anchor="end" fill="#2a2a2a" textLength="9.46" lengthAdjust="spacingAndGlyphs">0.9</text>
<line x1="257.30" y1="559.30" x2="259.90" y2="559.30" stroke="#1a1a1a" stroke-width="1.1700000000000002"/>
<text x="255.00" y="561.57" font-size="6.3" text-anchor="end" fill="#2a2a2a" textLength="9.46" lengthAdjust="spacingAndGlyphs">1.0</text>
<line x1="257.30" y1="547.00" x2="259.90" y2="547.00" stroke="#1a1a1a" stroke-width="1.1700000000000002"/>
<text x="255.00" y="549.27" font-size="6.3" text-anchor="end" fill="#2a2a2a" textLength="9.46" lengthAdjust="spacingAndGlyphs">1.1</text>
<line x1="259.40" y1="620.80" x2="346.40" y2="620.80" stroke="#1a1a1a" stroke-width="1.3"/>
<line x1="260.10" y1="620.80" x2="260.10" y2="623.20" stroke="#1a1a1a" stroke-width="1.0"/>
<text x="262.70" y="628.80" font-size="6.6" text-anchor="end" fill="#2a2a2a" transform="rotate(-45 262.70 628.80)">0</text>
<line x1="268.33" y1="620.80" x2="268.33" y2="623.20" stroke="#1a1a1a" stroke-width="1.0"/>
<text x="270.93" y="628.80" font-size="6.6" text-anchor="end" fill="#2a2a2a" transform="rotate(-45 270.93 628.80)">10</text>
<line x1="276.56" y1="620.80" x2="276.56" y2="623.20" stroke="#1a1a1a" stroke-width="1.0"/>
<text x="279.16" y="628.80" font-size="6.6" text-anchor="end" fill="#2a2a2a" transform="rotate(-45 279.16 628.80)">20</text>
<line x1="284.79" y1="620.80" x2="284.79" y2="623.20" stroke="#1a1a1a" stroke-width="1.0"/>
<text x="287.39" y="628.80" font-size="6.6" text-anchor="end" fill="#2a2a2a" transform="rotate(-45 287.39 628.80)">30</text>
<line x1="293.02" y1="620.80" x2="293.02" y2="623.20" stroke="#1a1a1a" stroke-width="1.0"/>
<text x="295.62" y="628.80" font-size="6.6" text-anchor="end" fill="#2a2a2a" transform="rotate(-45 295.62 628.80)">40</text>
<line x1="301.25" y1="620.80" x2="301.25" y2="623.20" stroke="#1a1a1a" stroke-width="1.0"/>
<text x="303.85" y="628.80" font-size="6.6" text-anchor="end" fill="#2a2a2a" transform="rotate(-45 303.85 628.80)">50</text>
<line x1="309.48" y1="620.80" x2="309.48" y2="623.20" stroke="#1a1a1a" stroke-width="1.0"/>
<text x="312.08" y="628.80" font-size="6.6" text-anchor="end" fill="#2a2a2a" transform="rotate(-45 312.08 628.80)">60</text>
<line x1="317.71" y1="620.80" x2="317.71" y2="623.20" stroke="#1a1a1a" stroke-width="1.0"/>
<text x="320.31" y="628.80" font-size="6.6" text-anchor="end" fill="#2a2a2a" transform="rotate(-45 320.31 628.80)">70</text>
<line x1="325.94" y1="620.80" x2="325.94" y2="623.20" stroke="#1a1a1a" stroke-width="1.0"/>
<text x="328.54" y="628.80" font-size="6.6" text-anchor="end" fill="#2a2a2a" transform="rotate(-45 328.54 628.80)">80</text>
<line x1="334.17" y1="620.80" x2="334.17" y2="623.20" stroke="#1a1a1a" stroke-width="1.0"/>
<text x="336.77" y="628.80" font-size="6.6" text-anchor="end" fill="#2a2a2a" transform="rotate(-45 336.77 628.80)">90</text>
<line x1="342.40" y1="620.80" x2="342.40" y2="623.20" stroke="#1a1a1a" stroke-width="1.0"/>
<text x="345.00" y="628.80" font-size="6.6" text-anchor="end" fill="#2a2a2a" transform="rotate(-45 345.00 628.80)">100</text>
<text x="303.70" y="649.38" font-size="9.4" text-anchor="middle" font-weight="bold" fill="#222" textLength="26.60" lengthAdjust="spacingAndGlyphs">Time(min)</text>
<text x="238.86" y="578.90" font-size="8.5" text-anchor="middle" transform="rotate(-90 238.86 578.90)" font-weight="bold" fill="#222" textLength="71.00" lengthAdjust="spacingAndGlyphs">Relative MFI of CD11b<tspan font-size="70%" dy="-0.45em">+</tspan></text>
<path d="M260.10 559.30 L272.45 560.53 L284.79 567.29 L297.13 573.44 L309.48 585.75 L321.83 593.12 L346.35 585.13" fill="none" stroke="#a8153c" stroke-width="1.5" stroke-dasharray="3.6 1.8"/>
<path d="M260.10 559.30 L272.45 569.14 L284.79 585.13 L297.13 584.51 L309.48 601.12 L321.83 603.21 L346.35 601.12" fill="none" stroke="#2a3f72" stroke-width="1.5"/>
<line x1="272.45" y1="572.83" x2="272.45" y2="565.45" stroke="#2a3f72" stroke-width="0.8"/>
<line x1="270.95" y1="572.83" x2="273.95" y2="572.83" stroke="#2a3f72" stroke-width="0.8"/>
<line x1="270.95" y1="565.45" x2="273.95" y2="565.45" stroke="#2a3f72" stroke-width="0.8"/>
<line x1="297.13" y1="576.52" x2="297.13" y2="570.37" stroke="#a8153c" stroke-width="0.8"/>
<line x1="295.63" y1="576.52" x2="298.63" y2="576.52" stroke="#a8153c" stroke-width="0.8"/>
<line x1="295.63" y1="570.37" x2="298.63" y2="570.37" stroke="#a8153c" stroke-width="0.8"/>
<line x1="309.48" y1="588.20" x2="309.48" y2="583.28" stroke="#a8153c" stroke-width="0.8"/>
<line x1="307.98" y1="588.20" x2="310.98" y2="588.20" stroke="#a8153c" stroke-width="0.8"/>
<line x1="307.98" y1="583.28" x2="310.98" y2="583.28" stroke="#a8153c" stroke-width="0.8"/>
<line x1="272.45" y1="562.38" x2="272.45" y2="558.68" stroke="#a8153c" stroke-width="0.8"/>
<line x1="270.95" y1="562.38" x2="273.95" y2="562.38" stroke="#a8153c" stroke-width="0.8"/>
<line x1="270.95" y1="558.68" x2="273.95" y2="558.68" stroke="#a8153c" stroke-width="0.8"/>
<circle cx="260.10" cy="559.30" r="1.70" fill="#2a3f72" stroke="#2a3f72" stroke-width="0.9"/>
<circle cx="272.45" cy="569.14" r="1.70" fill="#2a3f72" stroke="#2a3f72" stroke-width="0.9"/>
<circle cx="284.79" cy="585.13" r="1.70" fill="#2a3f72" stroke="#2a3f72" stroke-width="0.9"/>
<circle cx="297.13" cy="584.51" r="1.70" fill="#2a3f72" stroke="#2a3f72" stroke-width="0.9"/>
<circle cx="309.48" cy="601.12" r="1.70" fill="#2a3f72" stroke="#2a3f72" stroke-width="0.9"/>
<circle cx="321.83" cy="603.21" r="1.70" fill="#2a3f72" stroke="#2a3f72" stroke-width="0.9"/>
<circle cx="346.35" cy="601.12" r="1.70" fill="#dde" stroke="#2a3f72" stroke-width="0.9"/>
<rect x="258.20" y="557.40" width="3.80" height="3.80" fill="#a8153c"/>
<rect x="270.55" y="558.63" width="3.80" height="3.80" fill="#a8153c"/>
<rect x="282.89" y="565.39" width="3.80" height="3.80" fill="#a8153c"/>
<rect x="295.24" y="571.54" width="3.80" height="3.80" fill="#a8153c"/>
<rect x="307.58" y="583.85" width="3.80" height="3.80" fill="#a8153c"/>
<rect x="319.93" y="591.23" width="3.80" height="3.80" fill="#a8153c"/>
<rect x="344.45" y="583.23" width="3.80" height="3.80" fill="#a8153c"/>
<circle cx="285.40" cy="559.80" r="0.95" fill="#111"/>
<circle cx="310.20" cy="579.00" r="0.95" fill="#111"/>
<circle cx="322.60" cy="586.70" r="0.95" fill="#111"/>
<circle cx="344.80" cy="579.50" r="0.95" fill="#111"/>
<circle cx="348.00" cy="579.50" r="0.95" fill="#111"/>
<line x1="323.60" y1="553.00" x2="330.80" y2="553.00" stroke="#2a3f72" stroke-width="1.4"/>
<circle cx="327.20" cy="553.00" r="1.60" fill="#2a3f72"/>
<text x="334.40" y="555.09" font-size="5.8" text-anchor="start" fill="#222">WT</text>
<line x1="323.60" y1="561.90" x2="330.80" y2="561.90" stroke="#a8153c" stroke-width="1.4"/>
<rect x="325.40" y="560.10" width="3.60" height="3.60" fill="#a8153c"/>
<text x="334.40" y="563.99" font-size="5.8" text-anchor="start" fill="#222">KO</text>
<text x="361.30" y="533.46" font-size="11" text-anchor="start" font-weight="bold" fill="#000">N</text>
<rect x="382.8" y="540" width="40.0" height="40.5" fill="#fff" stroke="#8a8a8a" stroke-width="0.9"/>
<defs><linearGradient id="gb_normal" x1="0" x2="1" y1="0" y2="0"><stop offset="0" stop-color="#8c8c8c"/><stop offset="0.75" stop-color="#a8a8a8"/><stop offset="1" stop-color="#dcdcdc"/></linearGradient></defs>
<path d="M383.40000000000003 573.0 C392.8 572.5 404.8 574.0 413.8 575.0 L414.8 578.0 C404.8 579.3 392.8 579.7 383.40000000000003 579.9 Z" fill="url(#gb_normal)"/>
<path d="M383.6 572.5 C383.5 558 384 546 386.5 541.6 C392 540.6 404 540.6 411 541.2 C416 543 417 552 415.5 560 C414.5 566 411 572 404 573.5 C396 574 388 574 383.6 572.5 Z" fill="#dc4a2a"/>
<path d="M386 566 C385 556 386 546 389 542 C395 541.2 404 541.2 408 542.5 C412 546 412 555 409 562 C405 567 398 568.5 392 568.5 C389 568.5 387 568 386 566 Z" fill="#d2301a"/>
<g><path fill="#6e6e6e" d="M383.6 575.5h0.9v0.9h-0.9zM388.5 576.5h0.9v0.9h-0.9zM399.6 575.8h0.9v0.9h-0.9zM391.8 578.6h0.9v0.9h-0.9zM401.4 579.0h0.9v0.9h-0.9zM384.7 577.3h0.9v0.9h-0.9zM407.7 579.0h0.9v0.9h-0.9zM392.5 577.8h0.9v0.9h-0.9zM394.8 574.1h0.9v0.9h-0.9zM390.0 577.7h0.9v0.9h-0.9zM385.5 577.9h0.9v0.9h-0.9zM400.3 574.4h0.9v0.9h-0.9zM384.1 576.7h0.9v0.9h-0.9zM396.1 573.9h0.9v0.9h-0.9zM407.8 577.6h0.9v0.9h-0.9zM391.8 576.7h0.9v0.9h-0.9zM417.8 575.8h0.9v0.9h-0.9zM416.8 577.8h0.9v0.9h-0.9zM387.8 577.0h0.9v0.9h-0.9zM406.4 575.2h0.9v0.9h-0.9zM386.4 573.7h0.9v0.9h-0.9zM387.0 579.0h0.9v0.9h-0.9zM393.3 577.3h0.9v0.9h-0.9zM384.5 576.2h0.9v0.9h-0.9zM411.1 579.0h0.9v0.9h-0.9zM392.2 574.8h0.9v0.9h-0.9zM398.2 575.8h0.9v0.9h-0.9zM402.7 576.6h0.9v0.9h-0.9zM398.1 574.1h0.9v0.9h-0.9zM399.5 577.9h0.9v0.9h-0.9zM385.6 579.0h0.9v0.9h-0.9zM385.0 578.9h0.9v0.9h-0.9zM408.1 577.1h0.9v0.9h-0.9zM411.4 578.1h0.9v0.9h-0.9zM399.1 576.6h0.9v0.9h-0.9zM395.1 578.2h0.9v0.9h-0.9zM419.6 575.5h0.9v0.9h-0.9zM397.3 577.3h0.9v0.9h-0.9zM394.0 579.0h0.9v0.9h-0.9zM387.0 579.0h0.9v0.9h-0.9zM384.8 574.7h0.9v0.9h-0.9zM385.9 574.0h0.9v0.9h-0.9zM405.0 577.4h0.9v0.9h-0.9zM394.0 574.2h0.9v0.9h-0.9zM407.4 579.0h0.9v0.9h-0.9zM397.9 578.8h0.9v0.9h-0.9zM395.2 579.0h0.9v0.9h-0.9zM419.5 578.0h0.9v0.9h-0.9zM385.4 575.8h0.9v0.9h-0.9zM406.2 579.0h0.9v0.9h-0.9zM396.0 575.9h0.9v0.9h-0.9zM390.2 577.9h0.9v0.9h-0.9zM391.3 574.7h0.9v0.9h-0.9zM389.1 575.6h0.9v0.9h-0.9zM387.2 576.0h0.9v0.9h-0.9zM404.6 575.3h0.9v0.9h-0.9zM395.4 579.0h0.9v0.9h-0.9zM395.6 578.2h0.9v0.9h-0.9zM389.7 579.0h0.9v0.9h-0.9zM402.5 576.6h0.9v0.9h-0.9zM383.7 574.4h0.9v0.9h-0.9zM406.8 575.3h0.9v0.9h-0.9zM414.0 579.0h0.9v0.9h-0.9zM399.8 574.8h0.9v0.9h-0.9zM386.6 578.4h0.9v0.9h-0.9zM398.6 576.7h0.9v0.9h-0.9zM394.8 576.1h0.9v0.9h-0.9zM387.3 575.8h0.9v0.9h-0.9zM386.8 575.4h0.9v0.9h-0.9zM387.3 575.7h0.9v0.9h-0.9zM385.0 574.9h0.9v0.9h-0.9zM384.2 573.9h0.9v0.9h-0.9zM402.6 574.9h0.9v0.9h-0.9zM388.3 578.8h0.9v0.9h-0.9zM399.0 579.0h0.9v0.9h-0.9zM401.1 576.4h0.9v0.9h-0.9zM387.1 578.4h0.9v0.9h-0.9z"/><path fill="#9a9a9a" d="M389.0 574.7h0.9v0.9h-0.9zM392.4 576.4h0.9v0.9h-0.9zM406.8 576.1h0.9v0.9h-0.9zM388.5 577.2h0.9v0.9h-0.9zM385.6 573.5h0.9v0.9h-0.9zM401.2 576.2h0.9v0.9h-0.9zM384.2 577.4h0.9v0.9h-0.9zM394.1 578.9h0.9v0.9h-0.9zM385.6 578.3h0.9v0.9h-0.9zM384.7 573.7h0.9v0.9h-0.9zM405.7 575.4h0.9v0.9h-0.9zM385.7 575.4h0.9v0.9h-0.9zM405.2 576.8h0.9v0.9h-0.9zM384.9 575.5h0.9v0.9h-0.9zM395.9 577.6h0.9v0.9h-0.9zM395.6 575.0h0.9v0.9h-0.9zM409.5 576.4h0.9v0.9h-0.9zM395.8 579.0h0.9v0.9h-0.9zM387.3 573.8h0.9v0.9h-0.9zM391.9 574.8h0.9v0.9h-0.9zM387.1 579.0h0.9v0.9h-0.9zM399.8 579.0h0.9v0.9h-0.9zM404.2 579.0h0.9v0.9h-0.9zM391.9 579.0h0.9v0.9h-0.9zM389.5 579.0h0.9v0.9h-0.9zM388.1 573.7h0.9v0.9h-0.9zM411.0 577.7h0.9v0.9h-0.9zM389.9 576.0h0.9v0.9h-0.9zM385.8 578.4h0.9v0.9h-0.9zM403.7 579.0h0.9v0.9h-0.9zM383.8 574.3h0.9v0.9h-0.9zM391.6 573.8h0.9v0.9h-0.9zM384.0 577.4h0.9v0.9h-0.9zM394.1 578.1h0.9v0.9h-0.9zM389.8 574.7h0.9v0.9h-0.9zM389.1 574.9h0.9v0.9h-0.9zM392.5 579.0h0.9v0.9h-0.9zM396.2 575.0h0.9v0.9h-0.9zM393.0 574.9h0.9v0.9h-0.9zM402.2 578.5h0.9v0.9h-0.9z"/><path fill="#ffffff" d="M409.9 543.7h1.0v1.0h-1.0zM391.9 541.1h1.0v1.0h-1.0zM398.0 554.2h1.0v1.0h-1.0zM402.8 567.1h1.0v1.0h-1.0zM406.8 564.0h1.0v1.0h-1.0zM402.9 553.6h1.0v1.0h-1.0zM393.4 546.3h1.0v1.0h-1.0zM388.5 570.6h1.0v1.0h-1.0zM387.1 549.4h1.0v1.0h-1.0zM399.0 569.0h1.0v1.0h-1.0zM402.5 561.1h1.0v1.0h-1.0zM389.3 573.1h1.0v1.0h-1.0zM406.5 560.9h1.0v1.0h-1.0zM384.9 557.7h1.0v1.0h-1.0zM404.0 543.5h1.0v1.0h-1.0zM400.8 555.0h1.0v1.0h-1.0zM391.5 550.7h1.0v1.0h-1.0zM415.0 563.2h1.0v1.0h-1.0zM392.2 572.7h1.0v1.0h-1.0zM386.3 559.1h1.0v1.0h-1.0zM390.5 557.1h1.0v1.0h-1.0zM406.3 570.3h1.0v1.0h-1.0zM402.3 550.9h1.0v1.0h-1.0zM390.1 562.2h1.0v1.0h-1.0zM400.4 557.7h1.0v1.0h-1.0zM413.1 561.6h1.0v1.0h-1.0zM393.5 551.7h1.0v1.0h-1.0zM400.2 565.6h1.0v1.0h-1.0zM403.2 563.4h1.0v1.0h-1.0zM388.0 558.5h1.0v1.0h-1.0zM396.8 571.8h1.0v1.0h-1.0zM398.2 562.1h1.0v1.0h-1.0zM404.4 545.4h1.0v1.0h-1.0zM386.4 550.6h1.0v1.0h-1.0zM415.9 558.0h1.0v1.0h-1.0zM394.2 562.0h1.0v1.0h-1.0zM404.6 564.8h1.0v1.0h-1.0zM401.8 567.2h1.0v1.0h-1.0zM400.3 545.5h1.0v1.0h-1.0zM404.6 562.2h1.0v1.0h-1.0zM397.9 569.8h1.0v1.0h-1.0zM403.7 555.7h1.0v1.0h-1.0zM397.3 564.0h1.0v1.0h-1.0zM399.6 570.8h1.0v1.0h-1.0zM407.3 553.8h1.0v1.0h-1.0zM411.6 570.2h1.0v1.0h-1.0zM403.8 568.0h1.0v1.0h-1.0zM408.3 570.3h1.0v1.0h-1.0zM409.4 547.2h1.0v1.0h-1.0zM402.7 564.2h1.0v1.0h-1.0zM413.6 562.5h1.0v1.0h-1.0zM410.6 568.7h1.0v1.0h-1.0zM398.5 545.2h1.0v1.0h-1.0zM411.2 558.0h1.0v1.0h-1.0zM403.3 552.8h1.0v1.0h-1.0zM392.0 549.6h1.0v1.0h-1.0zM409.5 568.3h1.0v1.0h-1.0zM394.8 542.3h1.0v1.0h-1.0zM385.2 545.2h1.0v1.0h-1.0zM391.1 556.2h1.0v1.0h-1.0zM411.6 573.7h1.0v1.0h-1.0zM398.7 551.6h1.0v1.0h-1.0zM385.6 571.9h1.0v1.0h-1.0zM397.2 552.1h1.0v1.0h-1.0zM417.0 558.9h1.0v1.0h-1.0zM399.0 547.1h1.0v1.0h-1.0zM397.6 560.6h1.0v1.0h-1.0zM399.8 566.9h1.0v1.0h-1.0zM418.3 544.1h1.0v1.0h-1.0zM407.5 570.5h1.0v1.0h-1.0zM414.5 548.9h1.0v1.0h-1.0zM400.1 572.1h1.0v1.0h-1.0zM402.0 558.5h1.0v1.0h-1.0zM415.0 562.4h1.0v1.0h-1.0zM385.8 554.5h1.0v1.0h-1.0zM386.6 561.4h1.0v1.0h-1.0zM404.3 570.6h1.0v1.0h-1.0zM403.8 541.0h1.0v1.0h-1.0zM415.9 567.5h1.0v1.0h-1.0zM406.8 560.1h1.0v1.0h-1.0zM412.5 556.7h1.0v1.0h-1.0zM404.5 556.8h1.0v1.0h-1.0zM404.7 546.7h1.0v1.0h-1.0zM416.3 546.4h1.0v1.0h-1.0zM394.0 557.6h1.0v1.0h-1.0zM410.1 553.7h1.0v1.0h-1.0zM387.1 566.8h1.0v1.0h-1.0zM396.9 571.6h1.0v1.0h-1.0zM408.4 559.2h1.0v1.0h-1.0zM406.1 571.8h1.0v1.0h-1.0zM395.3 564.8h1.0v1.0h-1.0zM389.7 555.9h1.0v1.0h-1.0zM396.0 558.0h1.0v1.0h-1.0zM396.2 571.2h1.0v1.0h-1.0z"/><path fill="#e8604a" d="M392.7 546.4h1.0v1.0h-1.0zM402.8 568.1h1.0v1.0h-1.0zM400.0 560.6h1.0v1.0h-1.0zM405.6 559.9h1.0v1.0h-1.0zM401.3 555.0h1.0v1.0h-1.0zM408.9 560.9h1.0v1.0h-1.0zM397.3 544.7h1.0v1.0h-1.0zM394.4 559.1h1.0v1.0h-1.0zM400.3 572.5h1.0v1.0h-1.0zM389.9 548.7h1.0v1.0h-1.0zM401.9 571.5h1.0v1.0h-1.0zM411.4 550.3h1.0v1.0h-1.0zM410.9 559.1h1.0v1.0h-1.0zM396.3 554.7h1.0v1.0h-1.0zM405.7 544.7h1.0v1.0h-1.0zM402.9 560.2h1.0v1.0h-1.0zM384.3 543.3h1.0v1.0h-1.0zM402.8 555.6h1.0v1.0h-1.0zM392.0 570.7h1.0v1.0h-1.0zM408.5 544.1h1.0v1.0h-1.0zM405.2 542.3h1.0v1.0h-1.0zM413.6 565.2h1.0v1.0h-1.0zM413.6 562.8h1.0v1.0h-1.0zM397.2 559.8h1.0v1.0h-1.0zM415.9 548.6h1.0v1.0h-1.0zM394.7 559.6h1.0v1.0h-1.0zM397.2 545.6h1.0v1.0h-1.0zM410.1 551.8h1.0v1.0h-1.0zM388.9 565.4h1.0v1.0h-1.0zM392.9 562.5h1.0v1.0h-1.0zM397.9 543.5h1.0v1.0h-1.0zM391.0 569.1h1.0v1.0h-1.0zM386.3 569.1h1.0v1.0h-1.0zM394.6 565.6h1.0v1.0h-1.0zM398.6 567.1h1.0v1.0h-1.0zM406.4 552.5h1.0v1.0h-1.0zM399.3 551.2h1.0v1.0h-1.0zM406.5 542.1h1.0v1.0h-1.0zM390.5 562.5h1.0v1.0h-1.0zM401.3 560.9h1.0v1.0h-1.0zM409.9 572.8h1.0v1.0h-1.0zM400.4 571.9h1.0v1.0h-1.0zM407.0 548.3h1.0v1.0h-1.0zM390.5 572.5h1.0v1.0h-1.0zM383.6 547.1h1.0v1.0h-1.0zM411.3 567.7h1.0v1.0h-1.0zM390.1 559.3h1.0v1.0h-1.0zM404.4 549.5h1.0v1.0h-1.0zM393.1 544.5h1.0v1.0h-1.0zM393.9 542.6h1.0v1.0h-1.0zM393.6 572.0h1.0v1.0h-1.0zM389.3 552.4h1.0v1.0h-1.0zM418.5 548.4h1.0v1.0h-1.0zM400.5 557.2h1.0v1.0h-1.0zM401.3 563.4h1.0v1.0h-1.0zM418.9 551.8h1.0v1.0h-1.0zM390.9 556.4h1.0v1.0h-1.0zM391.2 571.2h1.0v1.0h-1.0zM388.1 547.1h1.0v1.0h-1.0zM414.0 566.6h1.0v1.0h-1.0zM390.6 546.8h1.0v1.0h-1.0zM410.7 572.5h1.0v1.0h-1.0zM390.6 541.6h1.0v1.0h-1.0zM398.1 551.8h1.0v1.0h-1.0zM386.5 573.0h1.0v1.0h-1.0zM392.5 558.3h1.0v1.0h-1.0zM397.1 551.0h1.0v1.0h-1.0zM400.5 547.2h1.0v1.0h-1.0zM400.2 544.9h1.0v1.0h-1.0zM418.5 553.9h1.0v1.0h-1.0zM395.0 542.0h1.0v1.0h-1.0zM390.9 559.4h1.0v1.0h-1.0zM399.8 571.0h1.0v1.0h-1.0zM393.9 552.1h1.0v1.0h-1.0zM395.6 562.0h1.0v1.0h-1.0zM387.9 567.5h1.0v1.0h-1.0zM401.7 563.3h1.0v1.0h-1.0zM402.2 553.0h1.0v1.0h-1.0zM402.2 543.4h1.0v1.0h-1.0zM385.0 568.5h1.0v1.0h-1.0zM405.2 573.9h1.0v1.0h-1.0zM403.1 552.9h1.0v1.0h-1.0zM403.5 559.5h1.0v1.0h-1.0zM406.9 546.2h1.0v1.0h-1.0zM404.9 570.1h1.0v1.0h-1.0zM410.4 569.7h1.0v1.0h-1.0zM403.0 542.9h1.0v1.0h-1.0zM399.4 554.8h1.0v1.0h-1.0zM404.4 557.8h1.0v1.0h-1.0zM388.5 560.1h1.0v1.0h-1.0zM412.9 568.4h1.0v1.0h-1.0zM403.4 558.7h1.0v1.0h-1.0zM388.8 569.8h1.0v1.0h-1.0zM404.8 565.3h1.0v1.0h-1.0zM411.0 560.4h1.0v1.0h-1.0zM404.2 541.5h1.0v1.0h-1.0zM391.3 550.5h1.0v1.0h-1.0zM400.3 558.6h1.0v1.0h-1.0zM384.7 566.2h1.0v1.0h-1.0zM397.6 568.6h1.0v1.0h-1.0zM409.3 560.7h1.0v1.0h-1.0zM395.1 553.5h1.0v1.0h-1.0zM406.0 550.7h1.0v1.0h-1.0zM417.0 562.2h1.0v1.0h-1.0zM403.7 556.6h1.0v1.0h-1.0zM400.3 550.0h1.0v1.0h-1.0zM400.5 556.7h1.0v1.0h-1.0zM391.6 566.0h1.0v1.0h-1.0zM399.0 542.5h1.0v1.0h-1.0zM398.9 573.2h1.0v1.0h-1.0zM410.7 548.8h1.0v1.0h-1.0zM386.5 545.6h1.0v1.0h-1.0zM392.1 570.1h1.0v1.0h-1.0zM404.0 555.7h1.0v1.0h-1.0zM386.3 555.4h1.0v1.0h-1.0zM405.5 559.6h1.0v1.0h-1.0zM396.3 573.8h1.0v1.0h-1.0zM392.1 554.0h1.0v1.0h-1.0zM394.1 556.7h1.0v1.0h-1.0zM401.5 554.7h1.0v1.0h-1.0zM397.5 552.3h1.0v1.0h-1.0zM412.3 541.2h1.0v1.0h-1.0zM415.4 572.5h1.0v1.0h-1.0zM399.6 547.2h1.0v1.0h-1.0zM401.9 551.6h1.0v1.0h-1.0zM405.1 573.2h1.0v1.0h-1.0zM392.9 561.7h1.0v1.0h-1.0zM387.2 562.8h1.0v1.0h-1.0zM399.5 566.3h1.0v1.0h-1.0zM406.7 570.4h1.0v1.0h-1.0zM397.5 571.2h1.0v1.0h-1.0zM390.9 553.4h1.0v1.0h-1.0zM409.9 570.5h1.0v1.0h-1.0zM398.6 555.6h1.0v1.0h-1.0zM397.3 564.1h1.0v1.0h-1.0zM405.5 543.9h1.0v1.0h-1.0zM396.0 558.5h1.0v1.0h-1.0zM419.1 542.0h1.0v1.0h-1.0zM406.2 563.0h1.0v1.0h-1.0zM407.3 561.1h1.0v1.0h-1.0zM384.7 545.9h1.0v1.0h-1.0zM397.6 565.9h1.0v1.0h-1.0zM412.4 563.1h1.0v1.0h-1.0zM392.3 570.7h1.0v1.0h-1.0zM389.3 546.7h1.0v1.0h-1.0zM401.6 559.5h1.0v1.0h-1.0zM403.6 554.4h1.0v1.0h-1.0zM397.8 555.1h1.0v1.0h-1.0zM395.7 554.8h1.0v1.0h-1.0zM400.5 548.0h1.0v1.0h-1.0zM413.4 550.6h1.0v1.0h-1.0zM394.4 569.9h1.0v1.0h-1.0zM400.3 561.9h1.0v1.0h-1.0zM398.0 553.5h1.0v1.0h-1.0zM396.7 554.2h1.0v1.0h-1.0zM400.0 560.2h1.0v1.0h-1.0zM400.1 564.6h1.0v1.0h-1.0zM398.5 565.4h1.0v1.0h-1.0zM405.9 561.0h1.0v1.0h-1.0zM390.2 548.8h1.0v1.0h-1.0zM409.5 548.7h1.0v1.0h-1.0zM403.4 558.2h1.0v1.0h-1.0zM394.4 566.0h1.0v1.0h-1.0zM395.8 541.8h1.0v1.0h-1.0zM406.6 560.0h1.0v1.0h-1.0zM414.1 563.8h1.0v1.0h-1.0zM398.0 563.1h1.0v1.0h-1.0zM394.5 558.2h1.0v1.0h-1.0zM397.3 559.2h1.0v1.0h-1.0zM386.2 565.9h1.0v1.0h-1.0zM392.1 550.2h1.0v1.0h-1.0zM404.9 558.5h1.0v1.0h-1.0zM394.7 563.5h1.0v1.0h-1.0zM399.7 549.3h1.0v1.0h-1.0zM387.0 550.7h1.0v1.0h-1.0zM399.2 540.8h1.0v1.0h-1.0zM398.3 563.0h1.0v1.0h-1.0zM402.8 568.1h1.0v1.0h-1.0zM387.9 552.5h1.0v1.0h-1.0zM401.8 563.1h1.0v1.0h-1.0zM389.3 548.1h1.0v1.0h-1.0zM398.1 542.6h1.0v1.0h-1.0zM399.9 554.7h1.0v1.0h-1.0zM394.7 551.2h1.0v1.0h-1.0zM406.0 552.2h1.0v1.0h-1.0zM393.9 565.8h1.0v1.0h-1.0zM396.4 560.2h1.0v1.0h-1.0zM408.3 549.2h1.0v1.0h-1.0zM396.2 565.0h1.0v1.0h-1.0zM400.5 547.2h1.0v1.0h-1.0zM391.5 550.2h1.0v1.0h-1.0zM391.7 567.1h1.0v1.0h-1.0zM383.9 548.4h1.0v1.0h-1.0zM396.4 554.8h1.0v1.0h-1.0zM400.1 552.0h1.0v1.0h-1.0zM393.2 564.8h1.0v1.0h-1.0zM402.9 561.8h1.0v1.0h-1.0zM409.7 548.0h1.0v1.0h-1.0zM395.1 553.1h1.0v1.0h-1.0zM400.0 551.3h1.0v1.0h-1.0zM403.9 565.9h1.0v1.0h-1.0z"/><path fill="#c02810" d="M396.0 564.7h1.0v1.0h-1.0zM398.8 551.1h1.0v1.0h-1.0zM403.6 553.7h1.0v1.0h-1.0zM400.4 545.6h1.0v1.0h-1.0zM418.6 559.6h1.0v1.0h-1.0zM384.8 561.3h1.0v1.0h-1.0zM387.4 564.7h1.0v1.0h-1.0zM407.5 544.4h1.0v1.0h-1.0zM399.4 569.9h1.0v1.0h-1.0zM389.7 541.7h1.0v1.0h-1.0zM389.9 552.4h1.0v1.0h-1.0zM399.5 564.3h1.0v1.0h-1.0zM397.1 560.5h1.0v1.0h-1.0zM397.6 567.7h1.0v1.0h-1.0zM408.3 547.7h1.0v1.0h-1.0zM410.3 548.7h1.0v1.0h-1.0zM393.4 571.8h1.0v1.0h-1.0zM404.5 541.9h1.0v1.0h-1.0zM397.2 559.1h1.0v1.0h-1.0zM410.6 557.9h1.0v1.0h-1.0zM398.0 548.6h1.0v1.0h-1.0zM390.1 564.7h1.0v1.0h-1.0zM399.1 561.8h1.0v1.0h-1.0zM411.0 541.3h1.0v1.0h-1.0zM390.9 546.7h1.0v1.0h-1.0zM396.0 561.6h1.0v1.0h-1.0zM396.4 551.2h1.0v1.0h-1.0zM400.3 557.6h1.0v1.0h-1.0zM395.7 550.0h1.0v1.0h-1.0zM388.5 573.1h1.0v1.0h-1.0zM400.3 557.4h1.0v1.0h-1.0zM409.2 558.4h1.0v1.0h-1.0zM408.9 560.5h1.0v1.0h-1.0zM395.9 549.2h1.0v1.0h-1.0zM393.4 569.2h1.0v1.0h-1.0zM404.5 543.6h1.0v1.0h-1.0zM393.6 556.4h1.0v1.0h-1.0zM400.4 550.8h1.0v1.0h-1.0zM399.8 542.8h1.0v1.0h-1.0zM384.4 572.5h1.0v1.0h-1.0zM400.2 567.5h1.0v1.0h-1.0zM393.7 546.5h1.0v1.0h-1.0zM404.9 549.0h1.0v1.0h-1.0zM391.6 542.8h1.0v1.0h-1.0zM397.8 565.3h1.0v1.0h-1.0zM403.1 552.2h1.0v1.0h-1.0zM386.0 554.6h1.0v1.0h-1.0zM407.9 562.9h1.0v1.0h-1.0zM408.6 549.7h1.0v1.0h-1.0zM391.7 569.8h1.0v1.0h-1.0zM387.6 554.0h1.0v1.0h-1.0zM397.4 558.2h1.0v1.0h-1.0zM405.8 546.3h1.0v1.0h-1.0zM414.0 547.6h1.0v1.0h-1.0zM408.6 553.8h1.0v1.0h-1.0zM400.0 564.9h1.0v1.0h-1.0zM399.9 567.4h1.0v1.0h-1.0zM399.5 572.2h1.0v1.0h-1.0zM400.2 559.3h1.0v1.0h-1.0zM393.7 560.6h1.0v1.0h-1.0zM406.6 549.2h1.0v1.0h-1.0zM399.1 557.8h1.0v1.0h-1.0zM391.8 564.1h1.0v1.0h-1.0zM398.5 549.5h1.0v1.0h-1.0zM403.0 567.5h1.0v1.0h-1.0zM400.8 558.3h1.0v1.0h-1.0zM401.4 556.0h1.0v1.0h-1.0zM394.9 552.0h1.0v1.0h-1.0zM398.0 570.9h1.0v1.0h-1.0zM391.5 572.3h1.0v1.0h-1.0zM395.6 544.5h1.0v1.0h-1.0zM401.7 556.8h1.0v1.0h-1.0zM389.4 541.0h1.0v1.0h-1.0zM403.0 558.8h1.0v1.0h-1.0zM399.5 550.2h1.0v1.0h-1.0zM396.6 552.4h1.0v1.0h-1.0zM406.0 559.5h1.0v1.0h-1.0zM394.6 554.3h1.0v1.0h-1.0zM398.3 571.5h1.0v1.0h-1.0zM402.8 560.4h1.0v1.0h-1.0zM405.9 565.9h1.0v1.0h-1.0zM411.9 546.2h1.0v1.0h-1.0zM386.0 543.8h1.0v1.0h-1.0zM409.8 561.9h1.0v1.0h-1.0zM386.6 548.2h1.0v1.0h-1.0zM394.8 562.6h1.0v1.0h-1.0zM397.3 545.4h1.0v1.0h-1.0zM417.4 571.9h1.0v1.0h-1.0zM399.8 565.2h1.0v1.0h-1.0zM398.5 543.4h1.0v1.0h-1.0zM393.5 562.4h1.0v1.0h-1.0zM407.7 550.1h1.0v1.0h-1.0zM406.3 549.6h1.0v1.0h-1.0zM385.2 553.3h1.0v1.0h-1.0zM406.3 566.2h1.0v1.0h-1.0zM395.1 548.6h1.0v1.0h-1.0zM392.6 543.2h1.0v1.0h-1.0zM400.7 552.3h1.0v1.0h-1.0zM408.0 564.2h1.0v1.0h-1.0zM395.7 557.2h1.0v1.0h-1.0zM400.4 573.5h1.0v1.0h-1.0zM419.4 544.7h1.0v1.0h-1.0zM399.3 567.8h1.0v1.0h-1.0zM414.8 542.8h1.0v1.0h-1.0zM408.3 566.9h1.0v1.0h-1.0zM394.5 543.7h1.0v1.0h-1.0zM410.7 548.8h1.0v1.0h-1.0zM405.5 556.5h1.0v1.0h-1.0zM392.7 569.7h1.0v1.0h-1.0zM402.7 541.1h1.0v1.0h-1.0zM407.2 570.0h1.0v1.0h-1.0zM396.6 546.7h1.0v1.0h-1.0zM419.8 548.4h1.0v1.0h-1.0zM401.4 570.2h1.0v1.0h-1.0zM402.9 571.2h1.0v1.0h-1.0zM407.1 569.2h1.0v1.0h-1.0zM393.6 573.1h1.0v1.0h-1.0zM402.8 569.7h1.0v1.0h-1.0zM397.6 552.8h1.0v1.0h-1.0zM405.5 546.5h1.0v1.0h-1.0zM392.3 567.1h1.0v1.0h-1.0zM397.4 545.1h1.0v1.0h-1.0zM400.5 559.3h1.0v1.0h-1.0zM393.8 556.0h1.0v1.0h-1.0zM407.5 570.9h1.0v1.0h-1.0zM399.7 548.2h1.0v1.0h-1.0zM412.3 563.4h1.0v1.0h-1.0zM404.9 569.6h1.0v1.0h-1.0zM407.3 542.8h1.0v1.0h-1.0zM404.3 570.1h1.0v1.0h-1.0zM393.8 543.0h1.0v1.0h-1.0zM397.7 556.6h1.0v1.0h-1.0zM395.1 560.9h1.0v1.0h-1.0zM403.2 551.8h1.0v1.0h-1.0zM419.6 561.1h1.0v1.0h-1.0zM396.0 554.6h1.0v1.0h-1.0zM386.5 560.8h1.0v1.0h-1.0zM400.1 552.8h1.0v1.0h-1.0zM395.0 557.2h1.0v1.0h-1.0zM384.8 547.8h1.0v1.0h-1.0zM419.6 555.8h1.0v1.0h-1.0zM401.7 561.0h1.0v1.0h-1.0zM397.3 543.2h1.0v1.0h-1.0zM407.5 566.5h1.0v1.0h-1.0zM398.8 561.6h1.0v1.0h-1.0zM415.6 548.9h1.0v1.0h-1.0zM401.6 564.5h1.0v1.0h-1.0zM395.9 568.6h1.0v1.0h-1.0zM407.1 563.0h1.0v1.0h-1.0zM407.9 550.2h1.0v1.0h-1.0zM405.9 563.6h1.0v1.0h-1.0zM392.1 552.0h1.0v1.0h-1.0zM398.9 547.0h1.0v1.0h-1.0zM393.6 555.6h1.0v1.0h-1.0zM389.2 555.5h1.0v1.0h-1.0zM407.4 564.1h1.0v1.0h-1.0zM404.2 562.1h1.0v1.0h-1.0zM401.8 551.3h1.0v1.0h-1.0zM401.2 556.4h1.0v1.0h-1.0zM404.8 542.6h1.0v1.0h-1.0zM384.6 569.4h1.0v1.0h-1.0zM401.7 546.9h1.0v1.0h-1.0zM391.2 545.9h1.0v1.0h-1.0zM392.8 556.9h1.0v1.0h-1.0zM389.9 571.1h1.0v1.0h-1.0zM402.2 564.4h1.0v1.0h-1.0zM399.0 566.2h1.0v1.0h-1.0zM392.4 557.3h1.0v1.0h-1.0zM414.6 548.4h1.0v1.0h-1.0zM411.8 558.2h1.0v1.0h-1.0zM396.2 557.2h1.0v1.0h-1.0zM399.3 562.5h1.0v1.0h-1.0zM408.1 544.3h1.0v1.0h-1.0zM412.3 569.1h1.0v1.0h-1.0z"/></g>
<rect x="382.8" y="540" width="40.0" height="40.5" fill="none" stroke="#8a8a8a" stroke-width="0.9"/>
<text x="380.30" y="542.76" font-size="4.6" text-anchor="end" fill="#333">1000</text>
<text x="380.30" y="550.86" font-size="4.6" text-anchor="end" fill="#333">800</text>
<text x="380.30" y="558.16" font-size="4.6" text-anchor="end" fill="#333">600</text>
<text x="380.30" y="565.86" font-size="4.6" text-anchor="end" fill="#333">400</text>
<text x="380.30" y="573.46" font-size="4.6" text-anchor="end" fill="#333">200</text>
<text x="380.30" y="581.16" font-size="4.6" text-anchor="end" fill="#333">0</text>
<text x="393.60" y="585.78" font-size="4.4" text-anchor="end" fill="#444">10</text>
<text x="393.60" y="583.78" font-size="3.0" text-anchor="start" fill="#444">2</text>
<text x="403.60" y="585.78" font-size="4.4" text-anchor="end" fill="#444">10</text>
<text x="403.60" y="583.78" font-size="3.0" text-anchor="start" fill="#444">3</text>
<text x="413.60" y="585.78" font-size="4.4" text-anchor="end" fill="#444">10</text>
<text x="413.60" y="583.78" font-size="3.0" text-anchor="start" fill="#444">4</text>
<text x="422.80" y="585.78" font-size="4.4" text-anchor="end" fill="#444">10</text>
<text x="422.80" y="583.78" font-size="3.0" text-anchor="start" fill="#444">5</text>
<text x="431.72" y="559.60" font-size="7.0" text-anchor="middle" transform="rotate(-90 431.72 559.60)" fill="#222" textLength="21.00" lengthAdjust="spacingAndGlyphs">Normal</text>
<rect x="382.3" y="591.2" width="40.80000000000001" height="40.69999999999993" fill="#fff" stroke="#8a8a8a" stroke-width="0.9"/>
<defs><linearGradient id="gb_mds" x1="0" x2="1" y1="0" y2="0"><stop offset="0" stop-color="#707070"/><stop offset="0.75" stop-color="#a0a0a0"/><stop offset="1" stop-color="#dcdcdc"/></linearGradient></defs>
<path d="M382.90000000000003 624.6999999999999 C392.3 624.6999999999999 402.3 626.1 412.3 627.4 L412.3 629.4 C402.3 630.6999999999999 392.3 631.1 382.90000000000003 631.3 Z" fill="url(#gb_mds)"/>
<path d="M412.5 591.8 L422.6 591.8 L422.6 617 C421.5 621 417 622.3 413.5 621 C411 619 409.8 613 410.3 607 C410.6 601 411.5 596 412.5 591.8 Z" fill="#d02a12"/>
<g><path fill="#6e6e6e" d="M399.2 627.8h0.9v0.9h-0.9zM394.0 625.7h0.9v0.9h-0.9zM399.1 630.4h0.9v0.9h-0.9zM394.0 625.8h0.9v0.9h-0.9zM386.3 625.4h0.9v0.9h-0.9zM400.9 627.9h0.9v0.9h-0.9zM393.9 627.0h0.9v0.9h-0.9zM395.2 627.3h0.9v0.9h-0.9zM402.7 628.6h0.9v0.9h-0.9zM391.5 629.8h0.9v0.9h-0.9zM408.6 630.4h0.9v0.9h-0.9zM406.9 627.0h0.9v0.9h-0.9zM396.9 630.4h0.9v0.9h-0.9zM405.1 630.4h0.9v0.9h-0.9zM387.4 627.8h0.9v0.9h-0.9zM384.6 627.2h0.9v0.9h-0.9zM386.6 625.5h0.9v0.9h-0.9zM390.3 625.1h0.9v0.9h-0.9zM398.8 626.1h0.9v0.9h-0.9zM387.5 628.3h0.9v0.9h-0.9zM388.5 630.3h0.9v0.9h-0.9zM385.2 624.9h0.9v0.9h-0.9zM398.0 627.8h0.9v0.9h-0.9zM388.1 629.5h0.9v0.9h-0.9zM399.7 630.4h0.9v0.9h-0.9zM402.5 626.5h0.9v0.9h-0.9zM395.6 627.7h0.9v0.9h-0.9zM390.8 627.3h0.9v0.9h-0.9zM398.2 626.9h0.9v0.9h-0.9zM404.8 627.5h0.9v0.9h-0.9zM396.7 625.3h0.9v0.9h-0.9zM387.5 627.6h0.9v0.9h-0.9zM390.2 630.2h0.9v0.9h-0.9zM391.0 627.5h0.9v0.9h-0.9zM388.7 629.4h0.9v0.9h-0.9zM396.9 628.4h0.9v0.9h-0.9zM383.6 628.0h0.9v0.9h-0.9zM383.9 625.0h0.9v0.9h-0.9zM391.5 626.2h0.9v0.9h-0.9zM403.1 629.4h0.9v0.9h-0.9zM386.2 625.8h0.9v0.9h-0.9zM397.2 628.2h0.9v0.9h-0.9zM393.1 625.7h0.9v0.9h-0.9zM389.3 630.4h0.9v0.9h-0.9zM390.0 629.6h0.9v0.9h-0.9zM396.1 629.3h0.9v0.9h-0.9zM408.5 629.7h0.9v0.9h-0.9zM387.8 628.6h0.9v0.9h-0.9zM397.4 630.4h0.9v0.9h-0.9zM386.2 630.4h0.9v0.9h-0.9zM393.4 627.2h0.9v0.9h-0.9zM384.1 628.9h0.9v0.9h-0.9zM387.2 625.1h0.9v0.9h-0.9zM397.3 627.7h0.9v0.9h-0.9zM396.1 626.8h0.9v0.9h-0.9zM404.8 630.4h0.9v0.9h-0.9zM413.6 626.6h0.9v0.9h-0.9zM387.8 630.0h0.9v0.9h-0.9zM386.4 630.4h0.9v0.9h-0.9zM388.6 625.5h0.9v0.9h-0.9zM386.8 628.5h0.9v0.9h-0.9zM383.2 624.7h0.9v0.9h-0.9zM413.9 630.2h0.9v0.9h-0.9zM399.0 630.4h0.9v0.9h-0.9zM413.7 629.7h0.9v0.9h-0.9zM417.5 627.3h0.9v0.9h-0.9zM405.2 630.4h0.9v0.9h-0.9zM402.1 630.4h0.9v0.9h-0.9zM391.2 630.4h0.9v0.9h-0.9zM390.8 627.5h0.9v0.9h-0.9zM394.0 627.6h0.9v0.9h-0.9zM398.3 627.7h0.9v0.9h-0.9zM397.0 630.4h0.9v0.9h-0.9zM409.8 626.1h0.9v0.9h-0.9zM402.3 629.9h0.9v0.9h-0.9zM393.7 625.4h0.9v0.9h-0.9zM384.4 627.8h0.9v0.9h-0.9zM390.1 629.9h0.9v0.9h-0.9zM417.8 630.4h0.9v0.9h-0.9zM397.5 630.4h0.9v0.9h-0.9z"/><path fill="#9a9a9a" d="M394.3 628.8h0.9v0.9h-0.9zM387.0 629.6h0.9v0.9h-0.9zM409.7 628.0h0.9v0.9h-0.9zM412.8 630.4h0.9v0.9h-0.9zM386.3 629.5h0.9v0.9h-0.9zM392.6 626.0h0.9v0.9h-0.9zM391.2 629.9h0.9v0.9h-0.9zM388.5 626.0h0.9v0.9h-0.9zM390.3 630.1h0.9v0.9h-0.9zM410.4 629.8h0.9v0.9h-0.9zM413.5 630.4h0.9v0.9h-0.9zM400.4 630.4h0.9v0.9h-0.9zM392.5 625.9h0.9v0.9h-0.9zM393.8 627.9h0.9v0.9h-0.9zM389.4 625.7h0.9v0.9h-0.9zM387.8 626.2h0.9v0.9h-0.9zM388.7 628.1h0.9v0.9h-0.9zM385.4 626.8h0.9v0.9h-0.9zM387.1 630.4h0.9v0.9h-0.9zM408.0 629.5h0.9v0.9h-0.9zM419.3 627.8h0.9v0.9h-0.9zM388.1 625.0h0.9v0.9h-0.9zM401.8 629.6h0.9v0.9h-0.9zM403.0 629.1h0.9v0.9h-0.9zM385.3 624.9h0.9v0.9h-0.9zM397.5 628.5h0.9v0.9h-0.9zM395.4 625.6h0.9v0.9h-0.9zM384.3 629.6h0.9v0.9h-0.9zM395.7 630.1h0.9v0.9h-0.9zM384.9 627.7h0.9v0.9h-0.9zM400.3 626.9h0.9v0.9h-0.9zM396.3 628.6h0.9v0.9h-0.9zM384.9 629.5h0.9v0.9h-0.9zM393.3 629.5h0.9v0.9h-0.9z"/><path fill="#e2644c" d="M394.2 597.9h1.0v1.0h-1.0zM405.3 595.6h1.0v1.0h-1.0zM397.1 600.3h1.0v1.0h-1.0zM396.9 597.7h1.0v1.0h-1.0zM391.9 620.9h1.0v1.0h-1.0zM395.0 603.5h1.0v1.0h-1.0zM398.4 596.3h1.0v1.0h-1.0zM399.1 612.6h1.0v1.0h-1.0zM393.4 622.1h1.0v1.0h-1.0zM395.0 616.5h1.0v1.0h-1.0zM397.7 612.0h1.0v1.0h-1.0zM394.8 603.7h1.0v1.0h-1.0zM398.7 604.5h1.0v1.0h-1.0zM405.6 601.3h1.0v1.0h-1.0zM395.7 616.9h1.0v1.0h-1.0zM406.2 616.8h1.0v1.0h-1.0zM399.5 607.1h1.0v1.0h-1.0zM395.8 618.6h1.0v1.0h-1.0zM400.3 612.2h1.0v1.0h-1.0zM401.4 613.2h1.0v1.0h-1.0zM392.5 600.3h1.0v1.0h-1.0zM396.4 599.5h1.0v1.0h-1.0zM400.9 599.0h1.0v1.0h-1.0zM400.2 620.2h1.0v1.0h-1.0zM397.3 616.7h1.0v1.0h-1.0zM392.3 619.8h1.0v1.0h-1.0zM394.1 617.4h1.0v1.0h-1.0zM395.8 616.9h1.0v1.0h-1.0zM404.8 605.5h1.0v1.0h-1.0zM403.4 615.7h1.0v1.0h-1.0zM395.5 597.1h1.0v1.0h-1.0zM394.5 612.3h1.0v1.0h-1.0zM399.0 593.3h1.0v1.0h-1.0zM404.0 621.8h1.0v1.0h-1.0zM401.5 619.2h1.0v1.0h-1.0zM395.4 597.1h1.0v1.0h-1.0zM393.9 615.8h1.0v1.0h-1.0zM399.8 617.5h1.0v1.0h-1.0zM395.3 593.3h1.0v1.0h-1.0zM403.0 609.5h1.0v1.0h-1.0zM393.8 605.0h1.0v1.0h-1.0zM395.7 611.1h1.0v1.0h-1.0zM401.4 619.4h1.0v1.0h-1.0zM394.8 614.3h1.0v1.0h-1.0zM391.6 598.5h1.0v1.0h-1.0zM395.9 609.1h1.0v1.0h-1.0zM402.9 609.4h1.0v1.0h-1.0zM400.1 592.4h1.0v1.0h-1.0zM394.9 596.1h1.0v1.0h-1.0zM392.9 603.1h1.0v1.0h-1.0zM394.0 597.5h1.0v1.0h-1.0zM395.4 599.3h1.0v1.0h-1.0zM393.0 612.9h1.0v1.0h-1.0zM393.0 621.7h1.0v1.0h-1.0zM398.9 606.2h1.0v1.0h-1.0zM407.5 612.0h1.0v1.0h-1.0zM395.2 615.5h1.0v1.0h-1.0zM398.5 612.8h1.0v1.0h-1.0zM396.2 612.3h1.0v1.0h-1.0zM393.4 592.0h1.0v1.0h-1.0zM400.6 618.9h1.0v1.0h-1.0zM399.6 597.0h1.0v1.0h-1.0zM392.1 597.6h1.0v1.0h-1.0zM392.2 607.8h1.0v1.0h-1.0zM396.2 610.1h1.0v1.0h-1.0zM395.0 615.3h1.0v1.0h-1.0zM392.9 601.1h1.0v1.0h-1.0zM398.9 621.2h1.0v1.0h-1.0zM391.6 611.4h1.0v1.0h-1.0zM405.4 618.1h1.0v1.0h-1.0zM396.4 606.7h1.0v1.0h-1.0zM400.0 594.2h1.0v1.0h-1.0zM401.6 592.4h1.0v1.0h-1.0zM402.5 611.8h1.0v1.0h-1.0zM397.5 605.2h1.0v1.0h-1.0zM406.4 605.6h1.0v1.0h-1.0zM392.2 602.1h1.0v1.0h-1.0zM393.2 597.5h1.0v1.0h-1.0zM393.0 606.6h1.0v1.0h-1.0zM395.8 599.9h1.0v1.0h-1.0zM391.7 619.6h1.0v1.0h-1.0zM392.6 597.5h1.0v1.0h-1.0zM400.9 621.9h1.0v1.0h-1.0zM396.7 618.6h1.0v1.0h-1.0zM399.1 603.9h1.0v1.0h-1.0zM397.2 615.9h1.0v1.0h-1.0zM396.6 609.9h1.0v1.0h-1.0zM399.5 606.4h1.0v1.0h-1.0zM399.3 617.1h1.0v1.0h-1.0zM399.4 617.7h1.0v1.0h-1.0zM394.9 598.2h1.0v1.0h-1.0zM404.5 620.0h1.0v1.0h-1.0zM400.7 593.0h1.0v1.0h-1.0zM392.9 592.2h1.0v1.0h-1.0zM393.4 606.9h1.0v1.0h-1.0zM403.2 601.3h1.0v1.0h-1.0zM396.7 605.1h1.0v1.0h-1.0zM399.8 606.8h1.0v1.0h-1.0zM394.8 606.5h1.0v1.0h-1.0zM396.7 620.1h1.0v1.0h-1.0zM397.8 620.4h1.0v1.0h-1.0zM398.7 602.7h1.0v1.0h-1.0zM398.7 600.9h1.0v1.0h-1.0zM397.2 612.2h1.0v1.0h-1.0zM391.7 598.1h1.0v1.0h-1.0zM399.0 604.4h1.0v1.0h-1.0zM396.2 614.2h1.0v1.0h-1.0zM396.9 592.2h1.0v1.0h-1.0zM397.5 615.8h1.0v1.0h-1.0zM403.0 614.7h1.0v1.0h-1.0zM399.9 604.0h1.0v1.0h-1.0zM410.8 599.7h1.0v1.0h-1.0zM402.2 608.7h1.0v1.0h-1.0zM398.9 601.1h1.0v1.0h-1.0zM392.3 617.4h1.0v1.0h-1.0zM395.9 610.2h1.0v1.0h-1.0zM392.4 601.5h1.0v1.0h-1.0zM396.6 617.0h1.0v1.0h-1.0zM392.5 610.8h1.0v1.0h-1.0zM398.5 596.1h1.0v1.0h-1.0zM391.7 604.8h1.0v1.0h-1.0zM396.1 607.1h1.0v1.0h-1.0zM397.4 601.9h1.0v1.0h-1.0zM397.6 605.9h1.0v1.0h-1.0zM398.8 622.2h1.0v1.0h-1.0zM394.6 605.2h1.0v1.0h-1.0zM403.6 617.6h1.0v1.0h-1.0zM396.8 595.0h1.0v1.0h-1.0zM396.8 604.2h1.0v1.0h-1.0zM397.9 597.7h1.0v1.0h-1.0zM394.5 619.3h1.0v1.0h-1.0zM397.2 609.1h1.0v1.0h-1.0zM401.4 598.8h1.0v1.0h-1.0zM400.1 594.8h1.0v1.0h-1.0zM391.8 605.0h1.0v1.0h-1.0zM392.9 595.0h1.0v1.0h-1.0zM399.8 607.0h1.0v1.0h-1.0zM396.0 614.5h1.0v1.0h-1.0zM399.2 601.6h1.0v1.0h-1.0zM393.2 597.2h1.0v1.0h-1.0zM391.3 603.2h1.0v1.0h-1.0zM406.4 597.1h1.0v1.0h-1.0zM401.0 618.1h1.0v1.0h-1.0zM396.9 595.0h1.0v1.0h-1.0zM401.8 614.9h1.0v1.0h-1.0zM392.8 602.3h1.0v1.0h-1.0zM397.0 614.5h1.0v1.0h-1.0zM394.4 615.8h1.0v1.0h-1.0zM394.1 596.2h1.0v1.0h-1.0zM396.3 615.4h1.0v1.0h-1.0zM398.6 621.2h1.0v1.0h-1.0zM393.9 609.5h1.0v1.0h-1.0zM393.1 611.9h1.0v1.0h-1.0zM393.8 602.0h1.0v1.0h-1.0zM395.5 597.4h1.0v1.0h-1.0zM393.7 615.0h1.0v1.0h-1.0zM397.5 617.4h1.0v1.0h-1.0zM404.2 598.4h1.0v1.0h-1.0zM393.2 595.5h1.0v1.0h-1.0zM391.4 602.9h1.0v1.0h-1.0zM402.4 611.3h1.0v1.0h-1.0zM399.0 603.3h1.0v1.0h-1.0zM392.0 621.8h1.0v1.0h-1.0zM395.3 616.5h1.0v1.0h-1.0zM399.3 620.3h1.0v1.0h-1.0zM396.1 610.5h1.0v1.0h-1.0zM408.3 615.4h1.0v1.0h-1.0zM400.5 621.4h1.0v1.0h-1.0zM405.5 593.1h1.0v1.0h-1.0zM396.4 609.8h1.0v1.0h-1.0zM397.5 597.8h1.0v1.0h-1.0zM398.6 616.6h1.0v1.0h-1.0zM392.8 599.2h1.0v1.0h-1.0zM393.3 614.9h1.0v1.0h-1.0zM395.9 602.3h1.0v1.0h-1.0zM404.6 612.1h1.0v1.0h-1.0zM394.0 613.0h1.0v1.0h-1.0zM397.9 620.1h1.0v1.0h-1.0zM395.8 619.0h1.0v1.0h-1.0zM396.7 605.5h1.0v1.0h-1.0zM392.4 613.3h1.0v1.0h-1.0zM394.8 597.6h1.0v1.0h-1.0zM392.0 595.0h1.0v1.0h-1.0zM391.8 614.1h1.0v1.0h-1.0zM392.7 620.0h1.0v1.0h-1.0zM394.3 615.1h1.0v1.0h-1.0zM395.1 608.0h1.0v1.0h-1.0zM396.9 611.5h1.0v1.0h-1.0zM396.9 614.6h1.0v1.0h-1.0zM404.0 609.6h1.0v1.0h-1.0zM395.9 603.2h1.0v1.0h-1.0zM402.9 618.3h1.0v1.0h-1.0zM396.5 619.9h1.0v1.0h-1.0zM396.5 616.7h1.0v1.0h-1.0zM403.7 616.5h1.0v1.0h-1.0zM410.8 617.8h1.0v1.0h-1.0zM410.7 622.5h1.0v1.0h-1.0zM402.1 622.6h1.0v1.0h-1.0zM403.0 607.5h1.0v1.0h-1.0zM398.2 603.7h1.0v1.0h-1.0zM393.0 614.7h1.0v1.0h-1.0zM394.0 621.9h1.0v1.0h-1.0zM398.0 611.5h1.0v1.0h-1.0zM397.4 592.8h1.0v1.0h-1.0zM399.7 593.2h1.0v1.0h-1.0zM393.4 606.3h1.0v1.0h-1.0zM398.8 616.3h1.0v1.0h-1.0zM399.7 619.4h1.0v1.0h-1.0zM394.0 603.6h1.0v1.0h-1.0zM392.5 608.0h1.0v1.0h-1.0zM401.4 607.9h1.0v1.0h-1.0zM400.0 594.9h1.0v1.0h-1.0zM393.9 592.0h1.0v1.0h-1.0zM402.7 608.2h1.0v1.0h-1.0zM391.7 607.6h1.0v1.0h-1.0zM397.1 618.7h1.0v1.0h-1.0zM396.2 597.6h1.0v1.0h-1.0zM391.9 618.3h1.0v1.0h-1.0zM396.6 600.4h1.0v1.0h-1.0zM398.5 608.7h1.0v1.0h-1.0zM396.6 613.8h1.0v1.0h-1.0zM398.7 596.5h1.0v1.0h-1.0zM391.6 621.2h1.0v1.0h-1.0zM397.7 621.6h1.0v1.0h-1.0zM395.4 622.0h1.0v1.0h-1.0zM395.1 592.1h1.0v1.0h-1.0zM399.9 611.9h1.0v1.0h-1.0zM395.6 612.7h1.0v1.0h-1.0zM398.3 619.2h1.0v1.0h-1.0zM407.2 598.2h1.0v1.0h-1.0zM401.0 595.8h1.0v1.0h-1.0zM393.2 617.0h1.0v1.0h-1.0zM392.9 600.1h1.0v1.0h-1.0zM394.2 594.0h1.0v1.0h-1.0zM391.5 594.8h1.0v1.0h-1.0zM402.3 611.9h1.0v1.0h-1.0zM398.4 608.6h1.0v1.0h-1.0zM397.6 615.1h1.0v1.0h-1.0zM396.5 616.9h1.0v1.0h-1.0zM401.6 592.1h1.0v1.0h-1.0zM393.6 620.8h1.0v1.0h-1.0zM393.0 619.2h1.0v1.0h-1.0zM400.2 620.8h1.0v1.0h-1.0zM394.2 615.8h1.0v1.0h-1.0zM393.4 603.9h1.0v1.0h-1.0zM394.8 599.7h1.0v1.0h-1.0zM406.0 620.2h1.0v1.0h-1.0zM397.8 605.0h1.0v1.0h-1.0zM400.4 607.1h1.0v1.0h-1.0zM395.6 613.6h1.0v1.0h-1.0zM396.9 613.3h1.0v1.0h-1.0zM396.8 613.4h1.0v1.0h-1.0zM391.8 611.3h1.0v1.0h-1.0zM391.4 607.7h1.0v1.0h-1.0zM403.9 615.7h1.0v1.0h-1.0zM392.0 604.2h1.0v1.0h-1.0zM402.4 600.1h1.0v1.0h-1.0zM393.6 620.1h1.0v1.0h-1.0zM394.1 618.1h1.0v1.0h-1.0zM391.4 614.2h1.0v1.0h-1.0zM406.6 597.2h1.0v1.0h-1.0zM395.3 593.4h1.0v1.0h-1.0zM395.8 620.5h1.0v1.0h-1.0zM392.4 621.1h1.0v1.0h-1.0zM392.7 600.4h1.0v1.0h-1.0zM398.5 611.5h1.0v1.0h-1.0zM399.6 592.6h1.0v1.0h-1.0zM401.1 604.2h1.0v1.0h-1.0zM399.2 613.8h1.0v1.0h-1.0zM395.2 603.2h1.0v1.0h-1.0zM398.5 616.9h1.0v1.0h-1.0zM394.8 620.2h1.0v1.0h-1.0zM400.6 596.2h1.0v1.0h-1.0zM400.1 613.3h1.0v1.0h-1.0zM405.0 603.6h1.0v1.0h-1.0zM393.2 597.4h1.0v1.0h-1.0zM401.9 602.8h1.0v1.0h-1.0zM393.9 606.9h1.0v1.0h-1.0zM394.0 619.7h1.0v1.0h-1.0zM405.1 615.7h1.0v1.0h-1.0zM408.5 592.2h1.0v1.0h-1.0zM403.3 593.7h1.0v1.0h-1.0zM393.3 622.7h1.0v1.0h-1.0zM391.7 609.2h1.0v1.0h-1.0zM393.2 610.9h1.0v1.0h-1.0zM393.4 602.9h1.0v1.0h-1.0zM395.8 617.7h1.0v1.0h-1.0zM407.1 609.2h1.0v1.0h-1.0zM393.6 610.3h1.0v1.0h-1.0zM397.5 599.7h1.0v1.0h-1.0zM400.5 616.0h1.0v1.0h-1.0zM395.4 598.6h1.0v1.0h-1.0zM392.2 596.2h1.0v1.0h-1.0zM393.3 610.5h1.0v1.0h-1.0zM402.2 617.7h1.0v1.0h-1.0zM394.9 601.1h1.0v1.0h-1.0zM406.4 601.3h1.0v1.0h-1.0zM399.2 596.6h1.0v1.0h-1.0zM404.0 610.6h1.0v1.0h-1.0zM393.4 615.8h1.0v1.0h-1.0zM395.8 595.9h1.0v1.0h-1.0zM394.8 608.5h1.0v1.0h-1.0zM399.7 608.7h1.0v1.0h-1.0zM398.8 595.3h1.0v1.0h-1.0zM397.2 608.4h1.0v1.0h-1.0zM399.8 600.4h1.0v1.0h-1.0zM395.9 598.2h1.0v1.0h-1.0zM392.1 622.5h1.0v1.0h-1.0zM396.7 594.8h1.0v1.0h-1.0zM396.0 602.6h1.0v1.0h-1.0zM391.5 611.1h1.0v1.0h-1.0zM398.3 604.5h1.0v1.0h-1.0zM391.9 592.6h1.0v1.0h-1.0zM398.0 618.8h1.0v1.0h-1.0zM401.8 599.4h1.0v1.0h-1.0zM403.1 604.7h1.0v1.0h-1.0zM397.1 620.1h1.0v1.0h-1.0zM401.7 622.0h1.0v1.0h-1.0zM393.6 620.3h1.0v1.0h-1.0zM392.0 604.7h1.0v1.0h-1.0zM395.0 615.0h1.0v1.0h-1.0zM394.7 618.2h1.0v1.0h-1.0zM401.7 598.1h1.0v1.0h-1.0zM410.3 622.0h1.0v1.0h-1.0zM397.9 595.1h1.0v1.0h-1.0zM408.5 612.3h1.0v1.0h-1.0zM391.5 599.4h1.0v1.0h-1.0zM391.4 598.6h1.0v1.0h-1.0zM396.7 596.2h1.0v1.0h-1.0zM405.0 621.1h1.0v1.0h-1.0zM400.2 596.0h1.0v1.0h-1.0zM392.0 620.2h1.0v1.0h-1.0zM392.7 597.1h1.0v1.0h-1.0zM395.5 602.2h1.0v1.0h-1.0zM392.5 598.5h1.0v1.0h-1.0zM396.2 622.5h1.0v1.0h-1.0zM394.5 594.9h1.0v1.0h-1.0zM391.7 618.6h1.0v1.0h-1.0zM396.3 601.3h1.0v1.0h-1.0zM396.3 621.4h1.0v1.0h-1.0zM392.4 615.2h1.0v1.0h-1.0zM392.4 600.2h1.0v1.0h-1.0zM400.1 607.8h1.0v1.0h-1.0zM403.1 597.0h1.0v1.0h-1.0zM392.3 604.6h1.0v1.0h-1.0zM401.7 592.8h1.0v1.0h-1.0zM399.6 613.1h1.0v1.0h-1.0zM396.9 610.3h1.0v1.0h-1.0zM395.1 600.4h1.0v1.0h-1.0zM391.4 592.4h1.0v1.0h-1.0zM393.2 621.0h1.0v1.0h-1.0zM392.6 595.9h1.0v1.0h-1.0zM395.6 602.1h1.0v1.0h-1.0zM391.6 592.8h1.0v1.0h-1.0zM406.5 603.8h1.0v1.0h-1.0zM408.1 604.4h1.0v1.0h-1.0zM391.8 608.5h1.0v1.0h-1.0zM394.6 602.0h1.0v1.0h-1.0zM399.2 599.7h1.0v1.0h-1.0zM401.6 616.3h1.0v1.0h-1.0zM407.5 600.6h1.0v1.0h-1.0zM394.1 602.3h1.0v1.0h-1.0zM406.9 607.2h1.0v1.0h-1.0zM395.3 600.5h1.0v1.0h-1.0zM391.9 614.5h1.0v1.0h-1.0zM394.9 594.6h1.0v1.0h-1.0zM396.1 602.0h1.0v1.0h-1.0zM400.1 605.0h1.0v1.0h-1.0zM394.6 600.0h1.0v1.0h-1.0zM392.4 618.0h1.0v1.0h-1.0zM392.6 602.9h1.0v1.0h-1.0zM401.4 605.0h1.0v1.0h-1.0zM397.4 606.5h1.0v1.0h-1.0zM398.8 617.7h1.0v1.0h-1.0zM396.1 598.8h1.0v1.0h-1.0zM393.8 617.6h1.0v1.0h-1.0zM396.0 621.3h1.0v1.0h-1.0zM394.1 600.2h1.0v1.0h-1.0zM398.5 597.2h1.0v1.0h-1.0zM393.3 616.4h1.0v1.0h-1.0zM394.5 601.7h1.0v1.0h-1.0zM398.8 599.0h1.0v1.0h-1.0zM391.4 594.4h1.0v1.0h-1.0zM406.9 611.0h1.0v1.0h-1.0zM391.9 621.0h1.0v1.0h-1.0zM398.8 610.2h1.0v1.0h-1.0zM395.0 605.6h1.0v1.0h-1.0zM395.0 622.2h1.0v1.0h-1.0zM392.5 621.5h1.0v1.0h-1.0zM392.6 613.3h1.0v1.0h-1.0zM405.7 613.5h1.0v1.0h-1.0zM401.6 613.7h1.0v1.0h-1.0zM405.6 595.9h1.0v1.0h-1.0zM393.2 599.8h1.0v1.0h-1.0zM396.7 594.0h1.0v1.0h-1.0zM410.3 620.8h1.0v1.0h-1.0zM392.3 622.7h1.0v1.0h-1.0zM393.9 610.7h1.0v1.0h-1.0zM396.4 596.8h1.0v1.0h-1.0zM392.0 595.8h1.0v1.0h-1.0zM399.9 605.8h1.0v1.0h-1.0zM398.4 604.1h1.0v1.0h-1.0zM396.5 598.0h1.0v1.0h-1.0zM395.8 594.8h1.0v1.0h-1.0zM398.9 612.0h1.0v1.0h-1.0zM399.6 616.5h1.0v1.0h-1.0zM391.5 593.9h1.0v1.0h-1.0zM401.5 601.6h1.0v1.0h-1.0zM401.7 601.3h1.0v1.0h-1.0zM401.4 608.8h1.0v1.0h-1.0zM396.6 610.7h1.0v1.0h-1.0zM392.1 604.7h1.0v1.0h-1.0zM394.6 618.8h1.0v1.0h-1.0zM391.5 604.1h1.0v1.0h-1.0zM391.5 601.4h1.0v1.0h-1.0zM393.8 615.7h1.0v1.0h-1.0z"/><path fill="#d02a12" d="M411.3 608.5h1.1v1.1h-1.1zM413.5 595.6h1.1v1.1h-1.1zM414.4 611.7h1.1v1.1h-1.1zM411.6 602.8h1.1v1.1h-1.1zM414.3 611.6h1.1v1.1h-1.1zM416.1 599.7h1.1v1.1h-1.1zM415.7 594.2h1.1v1.1h-1.1zM410.4 597.4h1.1v1.1h-1.1zM411.6 600.2h1.1v1.1h-1.1zM410.4 596.9h1.1v1.1h-1.1zM415.7 597.9h1.1v1.1h-1.1zM414.8 608.3h1.1v1.1h-1.1zM415.0 605.1h1.1v1.1h-1.1zM411.8 616.7h1.1v1.1h-1.1zM411.3 606.9h1.1v1.1h-1.1zM413.8 608.1h1.1v1.1h-1.1zM413.8 613.2h1.1v1.1h-1.1zM411.9 617.5h1.1v1.1h-1.1zM413.9 609.5h1.1v1.1h-1.1zM414.9 593.1h1.1v1.1h-1.1zM414.1 605.7h1.1v1.1h-1.1zM411.5 593.0h1.1v1.1h-1.1zM409.4 610.1h1.1v1.1h-1.1zM413.1 593.9h1.1v1.1h-1.1zM413.9 608.1h1.1v1.1h-1.1zM413.1 596.5h1.1v1.1h-1.1zM412.7 617.6h1.1v1.1h-1.1zM412.2 594.8h1.1v1.1h-1.1zM415.0 611.7h1.1v1.1h-1.1zM413.5 613.0h1.1v1.1h-1.1zM413.8 600.2h1.1v1.1h-1.1zM411.7 609.7h1.1v1.1h-1.1zM412.4 601.9h1.1v1.1h-1.1zM413.9 599.7h1.1v1.1h-1.1zM411.6 599.8h1.1v1.1h-1.1zM411.1 592.5h1.1v1.1h-1.1zM412.9 612.1h1.1v1.1h-1.1zM416.0 594.1h1.1v1.1h-1.1zM414.0 597.9h1.1v1.1h-1.1zM416.5 594.6h1.1v1.1h-1.1zM413.3 616.0h1.1v1.1h-1.1zM413.0 607.8h1.1v1.1h-1.1zM410.8 606.0h1.1v1.1h-1.1zM412.4 609.4h1.1v1.1h-1.1zM416.5 616.2h1.1v1.1h-1.1zM414.3 610.7h1.1v1.1h-1.1zM415.1 607.3h1.1v1.1h-1.1zM415.0 601.4h1.1v1.1h-1.1zM413.6 607.5h1.1v1.1h-1.1zM413.2 621.5h1.1v1.1h-1.1zM413.8 609.0h1.1v1.1h-1.1zM414.9 606.3h1.1v1.1h-1.1zM414.5 618.6h1.1v1.1h-1.1zM414.6 593.6h1.1v1.1h-1.1zM413.9 593.9h1.1v1.1h-1.1zM412.1 615.6h1.1v1.1h-1.1zM413.1 620.2h1.1v1.1h-1.1zM411.7 593.5h1.1v1.1h-1.1zM415.6 592.7h1.1v1.1h-1.1zM409.4 592.3h1.1v1.1h-1.1zM413.2 609.3h1.1v1.1h-1.1zM418.4 596.1h1.1v1.1h-1.1zM412.9 608.8h1.1v1.1h-1.1zM411.3 611.8h1.1v1.1h-1.1zM413.6 592.5h1.1v1.1h-1.1zM416.2 618.0h1.1v1.1h-1.1zM413.3 599.6h1.1v1.1h-1.1zM414.8 608.6h1.1v1.1h-1.1zM413.8 602.6h1.1v1.1h-1.1zM412.9 602.3h1.1v1.1h-1.1zM419.9 604.1h1.1v1.1h-1.1zM413.7 592.1h1.1v1.1h-1.1zM412.5 604.8h1.1v1.1h-1.1zM412.6 599.9h1.1v1.1h-1.1zM414.4 602.7h1.1v1.1h-1.1zM414.4 596.9h1.1v1.1h-1.1zM415.1 602.0h1.1v1.1h-1.1zM413.9 612.9h1.1v1.1h-1.1zM410.7 621.4h1.1v1.1h-1.1zM414.7 597.9h1.1v1.1h-1.1zM413.0 617.9h1.1v1.1h-1.1zM413.0 610.4h1.1v1.1h-1.1zM410.6 595.0h1.1v1.1h-1.1zM412.5 592.4h1.1v1.1h-1.1zM412.1 618.4h1.1v1.1h-1.1zM413.5 599.0h1.1v1.1h-1.1zM410.7 595.2h1.1v1.1h-1.1zM413.7 611.6h1.1v1.1h-1.1zM413.8 613.1h1.1v1.1h-1.1zM411.4 618.8h1.1v1.1h-1.1zM412.4 607.0h1.1v1.1h-1.1zM411.9 601.3h1.1v1.1h-1.1zM415.4 601.5h1.1v1.1h-1.1zM408.5 598.1h1.1v1.1h-1.1zM412.9 611.0h1.1v1.1h-1.1zM410.3 620.2h1.1v1.1h-1.1zM412.7 594.5h1.1v1.1h-1.1zM415.3 603.6h1.1v1.1h-1.1zM412.3 602.5h1.1v1.1h-1.1zM413.9 594.4h1.1v1.1h-1.1zM411.9 609.8h1.1v1.1h-1.1zM417.5 621.4h1.1v1.1h-1.1zM415.4 600.3h1.1v1.1h-1.1zM415.9 613.7h1.1v1.1h-1.1zM410.9 618.9h1.1v1.1h-1.1zM411.4 600.1h1.1v1.1h-1.1zM415.8 619.5h1.1v1.1h-1.1zM413.2 614.4h1.1v1.1h-1.1zM413.1 611.3h1.1v1.1h-1.1zM414.3 597.8h1.1v1.1h-1.1zM411.1 600.3h1.1v1.1h-1.1zM415.1 595.0h1.1v1.1h-1.1zM413.6 618.8h1.1v1.1h-1.1zM414.6 616.2h1.1v1.1h-1.1zM412.3 594.6h1.1v1.1h-1.1zM414.6 607.9h1.1v1.1h-1.1zM412.2 598.4h1.1v1.1h-1.1zM415.5 614.9h1.1v1.1h-1.1zM415.9 609.1h1.1v1.1h-1.1zM415.4 620.3h1.1v1.1h-1.1zM414.6 613.7h1.1v1.1h-1.1zM414.9 595.0h1.1v1.1h-1.1zM408.2 603.1h1.1v1.1h-1.1zM415.3 609.2h1.1v1.1h-1.1zM413.1 619.3h1.1v1.1h-1.1zM413.8 603.1h1.1v1.1h-1.1zM413.0 597.6h1.1v1.1h-1.1zM410.8 600.5h1.1v1.1h-1.1zM412.5 599.4h1.1v1.1h-1.1zM414.9 596.6h1.1v1.1h-1.1zM416.4 602.3h1.1v1.1h-1.1zM412.4 599.4h1.1v1.1h-1.1zM411.8 607.3h1.1v1.1h-1.1zM416.5 618.7h1.1v1.1h-1.1zM411.8 620.5h1.1v1.1h-1.1zM417.7 596.8h1.1v1.1h-1.1zM413.7 609.0h1.1v1.1h-1.1zM411.8 612.1h1.1v1.1h-1.1zM415.6 596.6h1.1v1.1h-1.1zM417.0 607.9h1.1v1.1h-1.1zM410.7 598.0h1.1v1.1h-1.1zM416.7 602.9h1.1v1.1h-1.1zM413.0 601.7h1.1v1.1h-1.1zM416.6 616.4h1.1v1.1h-1.1zM412.8 599.0h1.1v1.1h-1.1zM410.4 608.1h1.1v1.1h-1.1zM414.6 609.5h1.1v1.1h-1.1zM415.5 601.9h1.1v1.1h-1.1zM417.8 619.8h1.1v1.1h-1.1zM417.0 601.9h1.1v1.1h-1.1zM415.0 601.8h1.1v1.1h-1.1zM413.1 612.7h1.1v1.1h-1.1zM412.6 606.6h1.1v1.1h-1.1zM413.0 613.7h1.1v1.1h-1.1zM411.9 596.6h1.1v1.1h-1.1zM413.1 596.4h1.1v1.1h-1.1zM408.5 614.0h1.1v1.1h-1.1zM414.0 603.6h1.1v1.1h-1.1zM413.5 617.6h1.1v1.1h-1.1zM418.7 599.0h1.1v1.1h-1.1zM415.1 599.2h1.1v1.1h-1.1zM412.6 617.8h1.1v1.1h-1.1zM414.7 602.8h1.1v1.1h-1.1zM411.1 595.3h1.1v1.1h-1.1zM412.4 598.6h1.1v1.1h-1.1zM409.9 615.0h1.1v1.1h-1.1zM416.5 599.9h1.1v1.1h-1.1zM414.8 608.6h1.1v1.1h-1.1zM411.2 617.0h1.1v1.1h-1.1zM413.5 610.3h1.1v1.1h-1.1zM415.5 614.5h1.1v1.1h-1.1zM414.6 621.2h1.1v1.1h-1.1zM414.4 600.9h1.1v1.1h-1.1zM411.9 618.2h1.1v1.1h-1.1zM412.3 608.5h1.1v1.1h-1.1zM413.8 598.0h1.1v1.1h-1.1zM415.4 595.9h1.1v1.1h-1.1zM411.9 601.8h1.1v1.1h-1.1zM411.4 596.1h1.1v1.1h-1.1zM415.9 615.1h1.1v1.1h-1.1zM411.7 608.7h1.1v1.1h-1.1zM415.8 593.3h1.1v1.1h-1.1zM414.1 618.3h1.1v1.1h-1.1zM415.4 609.8h1.1v1.1h-1.1zM417.1 605.2h1.1v1.1h-1.1zM415.0 596.2h1.1v1.1h-1.1zM415.2 606.0h1.1v1.1h-1.1zM411.8 619.4h1.1v1.1h-1.1zM412.2 609.5h1.1v1.1h-1.1zM414.9 605.7h1.1v1.1h-1.1zM416.7 610.2h1.1v1.1h-1.1zM416.4 608.5h1.1v1.1h-1.1zM418.2 610.6h1.1v1.1h-1.1zM414.2 597.9h1.1v1.1h-1.1zM414.0 596.4h1.1v1.1h-1.1zM415.6 592.4h1.1v1.1h-1.1zM413.6 616.9h1.1v1.1h-1.1zM413.5 592.1h1.1v1.1h-1.1zM411.5 599.7h1.1v1.1h-1.1zM415.6 609.5h1.1v1.1h-1.1zM411.5 606.9h1.1v1.1h-1.1zM414.6 619.0h1.1v1.1h-1.1zM410.8 598.4h1.1v1.1h-1.1zM415.8 595.4h1.1v1.1h-1.1zM411.5 596.8h1.1v1.1h-1.1zM415.3 606.9h1.1v1.1h-1.1zM410.4 600.7h1.1v1.1h-1.1zM412.7 605.6h1.1v1.1h-1.1zM416.0 612.6h1.1v1.1h-1.1zM412.0 601.6h1.1v1.1h-1.1zM413.7 611.9h1.1v1.1h-1.1zM412.6 592.6h1.1v1.1h-1.1zM409.0 608.3h1.1v1.1h-1.1zM414.2 619.1h1.1v1.1h-1.1zM414.5 619.9h1.1v1.1h-1.1zM411.4 609.1h1.1v1.1h-1.1zM414.7 621.4h1.1v1.1h-1.1zM412.0 599.0h1.1v1.1h-1.1zM411.6 600.9h1.1v1.1h-1.1zM413.6 605.4h1.1v1.1h-1.1zM412.2 607.2h1.1v1.1h-1.1zM418.2 616.5h1.1v1.1h-1.1zM410.5 605.4h1.1v1.1h-1.1zM415.1 593.4h1.1v1.1h-1.1zM415.6 612.9h1.1v1.1h-1.1zM409.6 598.7h1.1v1.1h-1.1zM410.1 618.4h1.1v1.1h-1.1zM414.7 598.3h1.1v1.1h-1.1zM412.6 600.8h1.1v1.1h-1.1zM414.4 596.1h1.1v1.1h-1.1zM415.9 601.0h1.1v1.1h-1.1zM412.9 610.0h1.1v1.1h-1.1zM411.5 600.0h1.1v1.1h-1.1zM408.1 593.4h1.1v1.1h-1.1zM414.0 609.5h1.1v1.1h-1.1zM411.7 614.0h1.1v1.1h-1.1zM414.2 595.3h1.1v1.1h-1.1zM414.1 604.7h1.1v1.1h-1.1zM410.8 594.0h1.1v1.1h-1.1zM417.0 592.5h1.1v1.1h-1.1zM415.8 603.2h1.1v1.1h-1.1zM415.3 600.6h1.1v1.1h-1.1zM411.2 618.2h1.1v1.1h-1.1zM412.8 592.4h1.1v1.1h-1.1zM412.5 611.3h1.1v1.1h-1.1zM412.8 613.9h1.1v1.1h-1.1zM411.4 604.5h1.1v1.1h-1.1zM414.5 607.0h1.1v1.1h-1.1zM414.1 599.4h1.1v1.1h-1.1zM414.3 599.5h1.1v1.1h-1.1z"/></g>
<rect x="382.3" y="591.2" width="40.80000000000001" height="40.69999999999993" fill="none" stroke="#8a8a8a" stroke-width="0.9"/>
<text x="379.80" y="593.56" font-size="4.6" text-anchor="end" fill="#333">1000</text>
<text x="379.80" y="601.76" font-size="4.6" text-anchor="end" fill="#333">800</text>
<text x="379.80" y="609.46" font-size="4.6" text-anchor="end" fill="#333">600</text>
<text x="379.80" y="617.46" font-size="4.6" text-anchor="end" fill="#333">400</text>
<text x="379.80" y="625.16" font-size="4.6" text-anchor="end" fill="#333">200</text>
<text x="379.80" y="632.86" font-size="4.6" text-anchor="end" fill="#333">0</text>
<text x="393.60" y="637.18" font-size="4.4" text-anchor="end" fill="#444">10</text>
<text x="393.60" y="635.18" font-size="3.0" text-anchor="start" fill="#444">2</text>
<text x="403.60" y="637.18" font-size="4.4" text-anchor="end" fill="#444">10</text>
<text x="403.60" y="635.18" font-size="3.0" text-anchor="start" fill="#444">3</text>
<text x="413.60" y="637.18" font-size="4.4" text-anchor="end" fill="#444">10</text>
<text x="413.60" y="635.18" font-size="3.0" text-anchor="start" fill="#444">4</text>
<text x="422.80" y="637.18" font-size="4.4" text-anchor="end" fill="#444">10</text>
<text x="422.80" y="635.18" font-size="3.0" text-anchor="start" fill="#444">5</text>
<text x="431.72" y="611.50" font-size="7.0" text-anchor="middle" transform="rotate(-90 431.72 611.50)" fill="#222" textLength="37.70" lengthAdjust="spacingAndGlyphs">Del(5q) MDS</text>
<path d="M365.4 644.2 L365.4 620" fill="none" stroke="#111" stroke-width="1.4"/>
<path d="M362.9 623 L365.4 617 L367.9 623 Z" fill="#111" stroke="#111" stroke-width="0.3"/>
<path d="M365.4 644.2 L386 644.2" fill="none" stroke="#111" stroke-width="1.4"/>
<path d="M383.5 641.7 L389.6 644.2 L383.5 646.7 Z" fill="#111" stroke="#111" stroke-width="0.3"/>
<text x="367.82" y="610.00" font-size="9.5" text-anchor="middle" transform="rotate(-90 367.82 610.00)" font-weight="bold" fill="#111" textLength="12.00" lengthAdjust="spacingAndGlyphs">SSC</text>
<text x="400.60" y="647.62" font-size="9.5" text-anchor="middle" font-weight="bold" fill="#111" textLength="16.80" lengthAdjust="spacingAndGlyphs">CD11b</text>
<text x="443.20" y="533.96" font-size="11" text-anchor="start" font-weight="bold" fill="#000">O</text>
<line x1="481.00" y1="621.50" x2="481.00" y2="572.90" stroke="#1a1a1a" stroke-width="1.3"/>
<line x1="478.40" y1="620.70" x2="481.00" y2="620.70" stroke="#1a1a1a" stroke-width="1.1700000000000002"/>
<text x="476.10" y="622.93" font-size="6.2" text-anchor="end" fill="#2a2a2a" textLength="3.72" lengthAdjust="spacingAndGlyphs">0</text>
<line x1="478.40" y1="609.80" x2="481.00" y2="609.80" stroke="#1a1a1a" stroke-width="1.1700000000000002"/>
<text x="476.10" y="612.03" font-size="6.2" text-anchor="end" fill="#2a2a2a" textLength="18.61" lengthAdjust="spacingAndGlyphs">20000</text>
<line x1="478.40" y1="599.10" x2="481.00" y2="599.10" stroke="#1a1a1a" stroke-width="1.1700000000000002"/>
<text x="476.10" y="601.33" font-size="6.2" text-anchor="end" fill="#2a2a2a" textLength="18.61" lengthAdjust="spacingAndGlyphs">40000</text>
<line x1="478.40" y1="588.20" x2="481.00" y2="588.20" stroke="#1a1a1a" stroke-width="1.1700000000000002"/>
<text x="476.10" y="590.43" font-size="6.2" text-anchor="end" fill="#2a2a2a" textLength="18.61" lengthAdjust="spacingAndGlyphs">60000</text>
<line x1="478.40" y1="577.20" x2="481.00" y2="577.20" stroke="#1a1a1a" stroke-width="1.1700000000000002"/>
<text x="476.10" y="579.43" font-size="6.2" text-anchor="end" fill="#2a2a2a" textLength="18.61" lengthAdjust="spacingAndGlyphs">80000</text>
<line x1="480.50" y1="621.00" x2="512.30" y2="621.00" stroke="#1a1a1a" stroke-width="1.3"/>
<text x="449.66" y="597.40" font-size="7.4" text-anchor="middle" transform="rotate(-90 449.66 597.40)" font-weight="bold" fill="#222" textLength="65.40" lengthAdjust="spacingAndGlyphs">Bone marrow CD11b MFI</text>
<circle cx="488.80" cy="579.60" r="1.10" fill="#8a1a3a"/>
<circle cx="488.80" cy="591.30" r="1.10" fill="#8a1a3a"/>
<circle cx="488.80" cy="614.00" r="1.10" fill="#8a1a3a"/>
<circle cx="488.80" cy="620.20" r="1.10" fill="#8a1a3a"/>
<path d="M501.9 611.4 L503.0 609.4 L504.1 611.4 Z" fill="#1f2f5c" stroke="none" stroke-width="0"/>
<path d="M505.4 612.9 L506.5 610.9 L507.6 612.9 Z" fill="#1f2f5c" stroke="none" stroke-width="0"/>
<path d="M500.9 615.4 L502.0 613.4 L503.1 615.4 Z" fill="#1f2f5c" stroke="none" stroke-width="0"/>
<path d="M503.9 616.4 L505.0 614.4 L506.1 616.4 Z" fill="#1f2f5c" stroke="none" stroke-width="0"/>
<path d="M506.9 616.9 L508.0 614.9 L509.1 616.9 Z" fill="#1f2f5c" stroke="none" stroke-width="0"/>
<path d="M502.4 617.9 L503.5 615.9 L504.6 617.9 Z" fill="#1f2f5c" stroke="none" stroke-width="0"/>
<path d="M504.9 618.9 L506.0 616.9 L507.1 618.9 Z" fill="#1f2f5c" stroke="none" stroke-width="0"/>
<path d="M499.9 619.4 L501.0 617.4 L502.1 619.4 Z" fill="#1f2f5c" stroke="none" stroke-width="0"/>
<path d="M503.4 620.4 L504.5 618.4 L505.6 620.4 Z" fill="#1f2f5c" stroke="none" stroke-width="0"/>
<path d="M505.9 620.9 L507.0 618.9 L508.1 620.9 Z" fill="#1f2f5c" stroke="none" stroke-width="0"/>
<line x1="483.50" y1="602.30" x2="494.10" y2="602.30" stroke="#111" stroke-width="1.2"/>
<line x1="488.80" y1="597.60" x2="488.80" y2="607.00" stroke="#111" stroke-width="0.9"/>
<line x1="485.80" y1="597.60" x2="491.80" y2="597.60" stroke="#111" stroke-width="0.9"/>
<line x1="485.80" y1="607.00" x2="491.80" y2="607.00" stroke="#111" stroke-width="0.9"/>
<line x1="500.20" y1="616.00" x2="510.20" y2="616.00" stroke="#111" stroke-width="1.2"/>
<line x1="505.20" y1="614.50" x2="505.20" y2="617.50" stroke="#111" stroke-width="0.9"/>
<line x1="502.20" y1="614.50" x2="508.20" y2="614.50" stroke="#111" stroke-width="0.9"/>
<line x1="502.20" y1="617.50" x2="508.20" y2="617.50" stroke="#111" stroke-width="0.9"/>
<text x="497.10" y="573.24" font-size="5.4" text-anchor="middle" fill="#222" textLength="23.50" lengthAdjust="spacingAndGlyphs">P=0.0037</text>
<line x1="485.40" y1="574.60" x2="508.90" y2="574.60" stroke="#222" stroke-width="0.9"/>
<line x1="488.80" y1="621.00" x2="488.80" y2="623.50" stroke="#1a1a1a" stroke-width="1.0"/>
<line x1="505.20" y1="621.00" x2="505.20" y2="623.50" stroke="#1a1a1a" stroke-width="1.0"/>
<text x="492.6" y="629.6" font-size="7.2" text-anchor="end" fill="#222" textLength="37.4" lengthAdjust="spacingAndGlyphs" transform="rotate(-45 492.6 629.6)">Del(5q) MDS</text>
<text x="510.2" y="629.6" font-size="7.2" text-anchor="end" fill="#222" textLength="22.6" lengthAdjust="spacingAndGlyphs" transform="rotate(-45 510.2 629.6)">Control</text>
<text x="8.00" y="418.16" font-size="11" text-anchor="start" font-weight="bold" fill="#000">I</text>
<g transform="translate(0 0)"><path d="M22.3 438.6 C17.5 438.8 14.6 441.6 15.9 444.6 C17 446.8 22 446.6 30 446.4 C35 446.3 39 446.2 42 446.4" fill="none" stroke="#222" stroke-width="1.1"/><path d="M21.3 439.3 C21 433.5 25.5 428.3 31.5 428.2 C37.5 428.1 42.5 430.8 45.5 434.2 L47.8 437.6 L49.6 440.3 L47 440.9 C43 441.6 38 441.8 33 441.4 C28 441.0 23.5 440.5 21.3 439.3 Z" fill="#7a7a7a" stroke="#444" stroke-width="0.6"/><path d="M45.2 435 L47.8 437.6 L49.6 440.3 L47 440.9 C46 439.5 45.5 437.5 45.2 435 Z" fill="#d8d8d8"/><ellipse cx="45.9" cy="434.3" rx="1.0" ry="1.5" fill="#222"/><circle cx="47.6" cy="438.3" r="0.6" fill="#222"/><path d="M31.5 441 L32.3 442.2 L33.6 441.2 Z M39 441.3 L40 442.9 L41.2 441.4 Z" fill="#333"/></g>
<g transform="translate(-1.8 41)"><path d="M22.3 438.6 C17.5 438.8 14.6 441.6 15.9 444.6 C17 446.8 22 446.6 30 446.4 C35 446.3 39 446.2 42 446.4" fill="none" stroke="#222" stroke-width="1.1"/><path d="M21.3 439.3 C21 433.5 25.5 428.3 31.5 428.2 C37.5 428.1 42.5 430.8 45.5 434.2 L47.8 437.6 L49.6 440.3 L47 440.9 C43 441.6 38 441.8 33 441.4 C28 441.0 23.5 440.5 21.3 439.3 Z" fill="#7a7a7a" stroke="#444" stroke-width="0.6"/><path d="M45.2 435 L47.8 437.6 L49.6 440.3 L47 440.9 C46 439.5 45.5 437.5 45.2 435 Z" fill="#d8d8d8"/><ellipse cx="45.9" cy="434.3" rx="1.0" ry="1.5" fill="#222"/><circle cx="47.6" cy="438.3" r="0.6" fill="#222"/><path d="M31.5 441 L32.3 442.2 L33.6 441.2 Z M39 441.3 L40 442.9 L41.2 441.4 Z" fill="#333"/></g>
<line x1="54.60" y1="438.00" x2="71.70" y2="438.00" stroke="#111" stroke-width="1.6"/>
<path d="M76.20 438.00 L71.20 440.60 L72.40 438.00 L71.20 435.40 Z" fill="#111" stroke="#111" stroke-width="0.3"/>
<line x1="54.60" y1="482.00" x2="71.70" y2="482.00" stroke="#111" stroke-width="1.6"/>
<path d="M76.20 482.00 L71.20 484.60 L72.40 482.00 L71.20 479.40 Z" fill="#111" stroke="#111" stroke-width="0.3"/>
<text x="61.50" y="450.29" font-size="5.8" text-anchor="middle" fill="#222">WT</text>
<text x="61.50" y="494.09" font-size="5.8" text-anchor="middle" fill="#222">KO</text>
<text x="92.30" y="429.79" font-size="5.8" text-anchor="middle" fill="#222">BM</text>
<text x="93.80" y="475.19" font-size="5.8" text-anchor="middle" fill="#222">BM</text>
<ellipse cx="90.8" cy="442" rx="4.6" ry="3.1" fill="#fff" stroke="#111" stroke-width="1.1"/>
<ellipse cx="90.8" cy="442" rx="2.90" ry="1.60" fill="#fff" stroke="#111" stroke-width="0.9"/>
<ellipse cx="86.2" cy="436.2" rx="5.2" ry="3.6" fill="#fff" stroke="#111" stroke-width="1.1"/>
<ellipse cx="86.2" cy="436.2" rx="3.50" ry="2.10" fill="#fff" stroke="#111" stroke-width="0.9"/>
<ellipse cx="97.7" cy="436.2" rx="5.2" ry="3.6" fill="#fff" stroke="#111" stroke-width="1.1"/>
<ellipse cx="97.7" cy="436.2" rx="3.50" ry="2.10" fill="#fff" stroke="#111" stroke-width="0.9"/>
<text x="91.50" y="452.89" font-size="5.8" text-anchor="middle" fill="#222">GFP-</text>
<ellipse cx="86.9" cy="480.6" rx="3.6" ry="2.4" fill="#111"/>
<ellipse cx="98.5" cy="480.6" rx="3.6" ry="2.4" fill="#111"/>
<circle cx="92.3" cy="486" r="2.2" fill="#111"/>
<circle cx="86.2" cy="487.4" r="4.4" fill="#b4b4b4" stroke="#111" stroke-width="1"/>
<circle cx="97.9" cy="487.1" r="4.9" fill="#b4b4b4" stroke="#111" stroke-width="1"/>
<circle cx="92.3" cy="493.5" r="4.5" fill="#b4b4b4" stroke="#111" stroke-width="1"/>
<text x="93.00" y="505.59" font-size="5.8" text-anchor="middle" fill="#222">GFP+</text>
<line x1="106.20" y1="443.80" x2="118.52" y2="451.76" stroke="#111" stroke-width="1.6"/>
<path d="M122.30 454.20 L116.69 453.67 L119.11 452.14 L119.51 449.30 Z" fill="#111" stroke="#111" stroke-width="0.3"/>
<line x1="106.20" y1="482.00" x2="118.60" y2="473.45" stroke="#111" stroke-width="1.6"/>
<path d="M122.30 470.90 L119.66 475.88 L119.17 473.06 L116.71 471.60 Z" fill="#111" stroke="#111" stroke-width="0.3"/>
<text x="121.90" y="464.97" font-size="5.2" text-anchor="middle" fill="#222">1:1</text>
<g transform="translate(2.6 3.2) rotate(-31 131.5 445)"><rect x="129.9" y="433" width="3.2" height="19.5" fill="#e6e6e6" stroke="#333" stroke-width="0.7"/><line x1="131.5" y1="433" x2="131.5" y2="448" stroke="#666" stroke-width="0.5"/><rect x="129" y="432" width="5" height="1.3" fill="#333"/><line x1="131.5" y1="452.5" x2="131.5" y2="461.5" stroke="#333" stroke-width="0.6"/></g>
<line x1="133.50" y1="466.20" x2="152.80" y2="466.20" stroke="#111" stroke-width="1.6"/>
<path d="M157.30 466.20 L152.30 468.80 L153.50 466.20 L152.30 463.60 Z" fill="#111" stroke="#111" stroke-width="0.3"/>
<text x="168.20" y="448.22" font-size="5.6" text-anchor="middle" fill="#222" textLength="36.50" lengthAdjust="spacingAndGlyphs">lethal irradiation</text>
<path d="M164.6 463.5 C164 459 167.5 456 172.5 456 C178 456 183 458.5 186 461.5 L188.5 463.5 L191.5 466.8 L188.5 468.3 C184 469.3 176 469.5 170 468.8 C167 468.3 165 466 164.6 463.5 Z" fill="#fff" stroke="#333" stroke-width="0.8"/>
<path d="M164.8 464.5 C160 464.5 157.3 467 158.2 469.8 C159.2 472.5 168 472.6 176 472.6 C179 472.6 181 472.8 182.8 473" fill="none" stroke="#333" stroke-width="0.85"/>
<path d="M171 467.7 L185 468" stroke="#333" stroke-width="0.6"/>
<path d="M173 466.4 L175.4 467.7 L173 469 Z M181 466.7 L183.4 468 L181 469.3 Z" fill="#222"/>
<ellipse cx="186.6" cy="461.6" rx="0.9" ry="1.3" fill="#222"/>
<circle cx="188.6" cy="464.8" r="0.55" fill="#222"/>
<path d="M185.6 460.3 L187.2 459.8 L186.8 462 Z" fill="#222"/>
<text x="174.30" y="486.69" font-size="5.8" text-anchor="middle" fill="#222" textLength="17.50" lengthAdjust="spacingAndGlyphs">CD45.1</text>
<text x="183.30" y="483.86" font-size="4.6" text-anchor="start" fill="#222">+</text>
<line x1="196.00" y1="466.00" x2="214.50" y2="466.00" stroke="#111" stroke-width="1.6"/>
<path d="M219.00 466.00 L214.00 468.60 L215.20 466.00 L214.00 463.40 Z" fill="#111" stroke="#111" stroke-width="0.3"/>
<text x="228.90" y="468.34" font-size="5.8" text-anchor="middle" fill="#222" textLength="13.40" lengthAdjust="spacingAndGlyphs">FACS</text>
<text x="228.75" y="475.19" font-size="5.8" text-anchor="middle" fill="#222" textLength="35.00" lengthAdjust="spacingAndGlyphs">Gating by GFP</text>
<rect x="0.6" y="0.6" width="518.8" height="662.8" fill="none" stroke="#111" stroke-width="1.2"/>
</svg></body></html>
